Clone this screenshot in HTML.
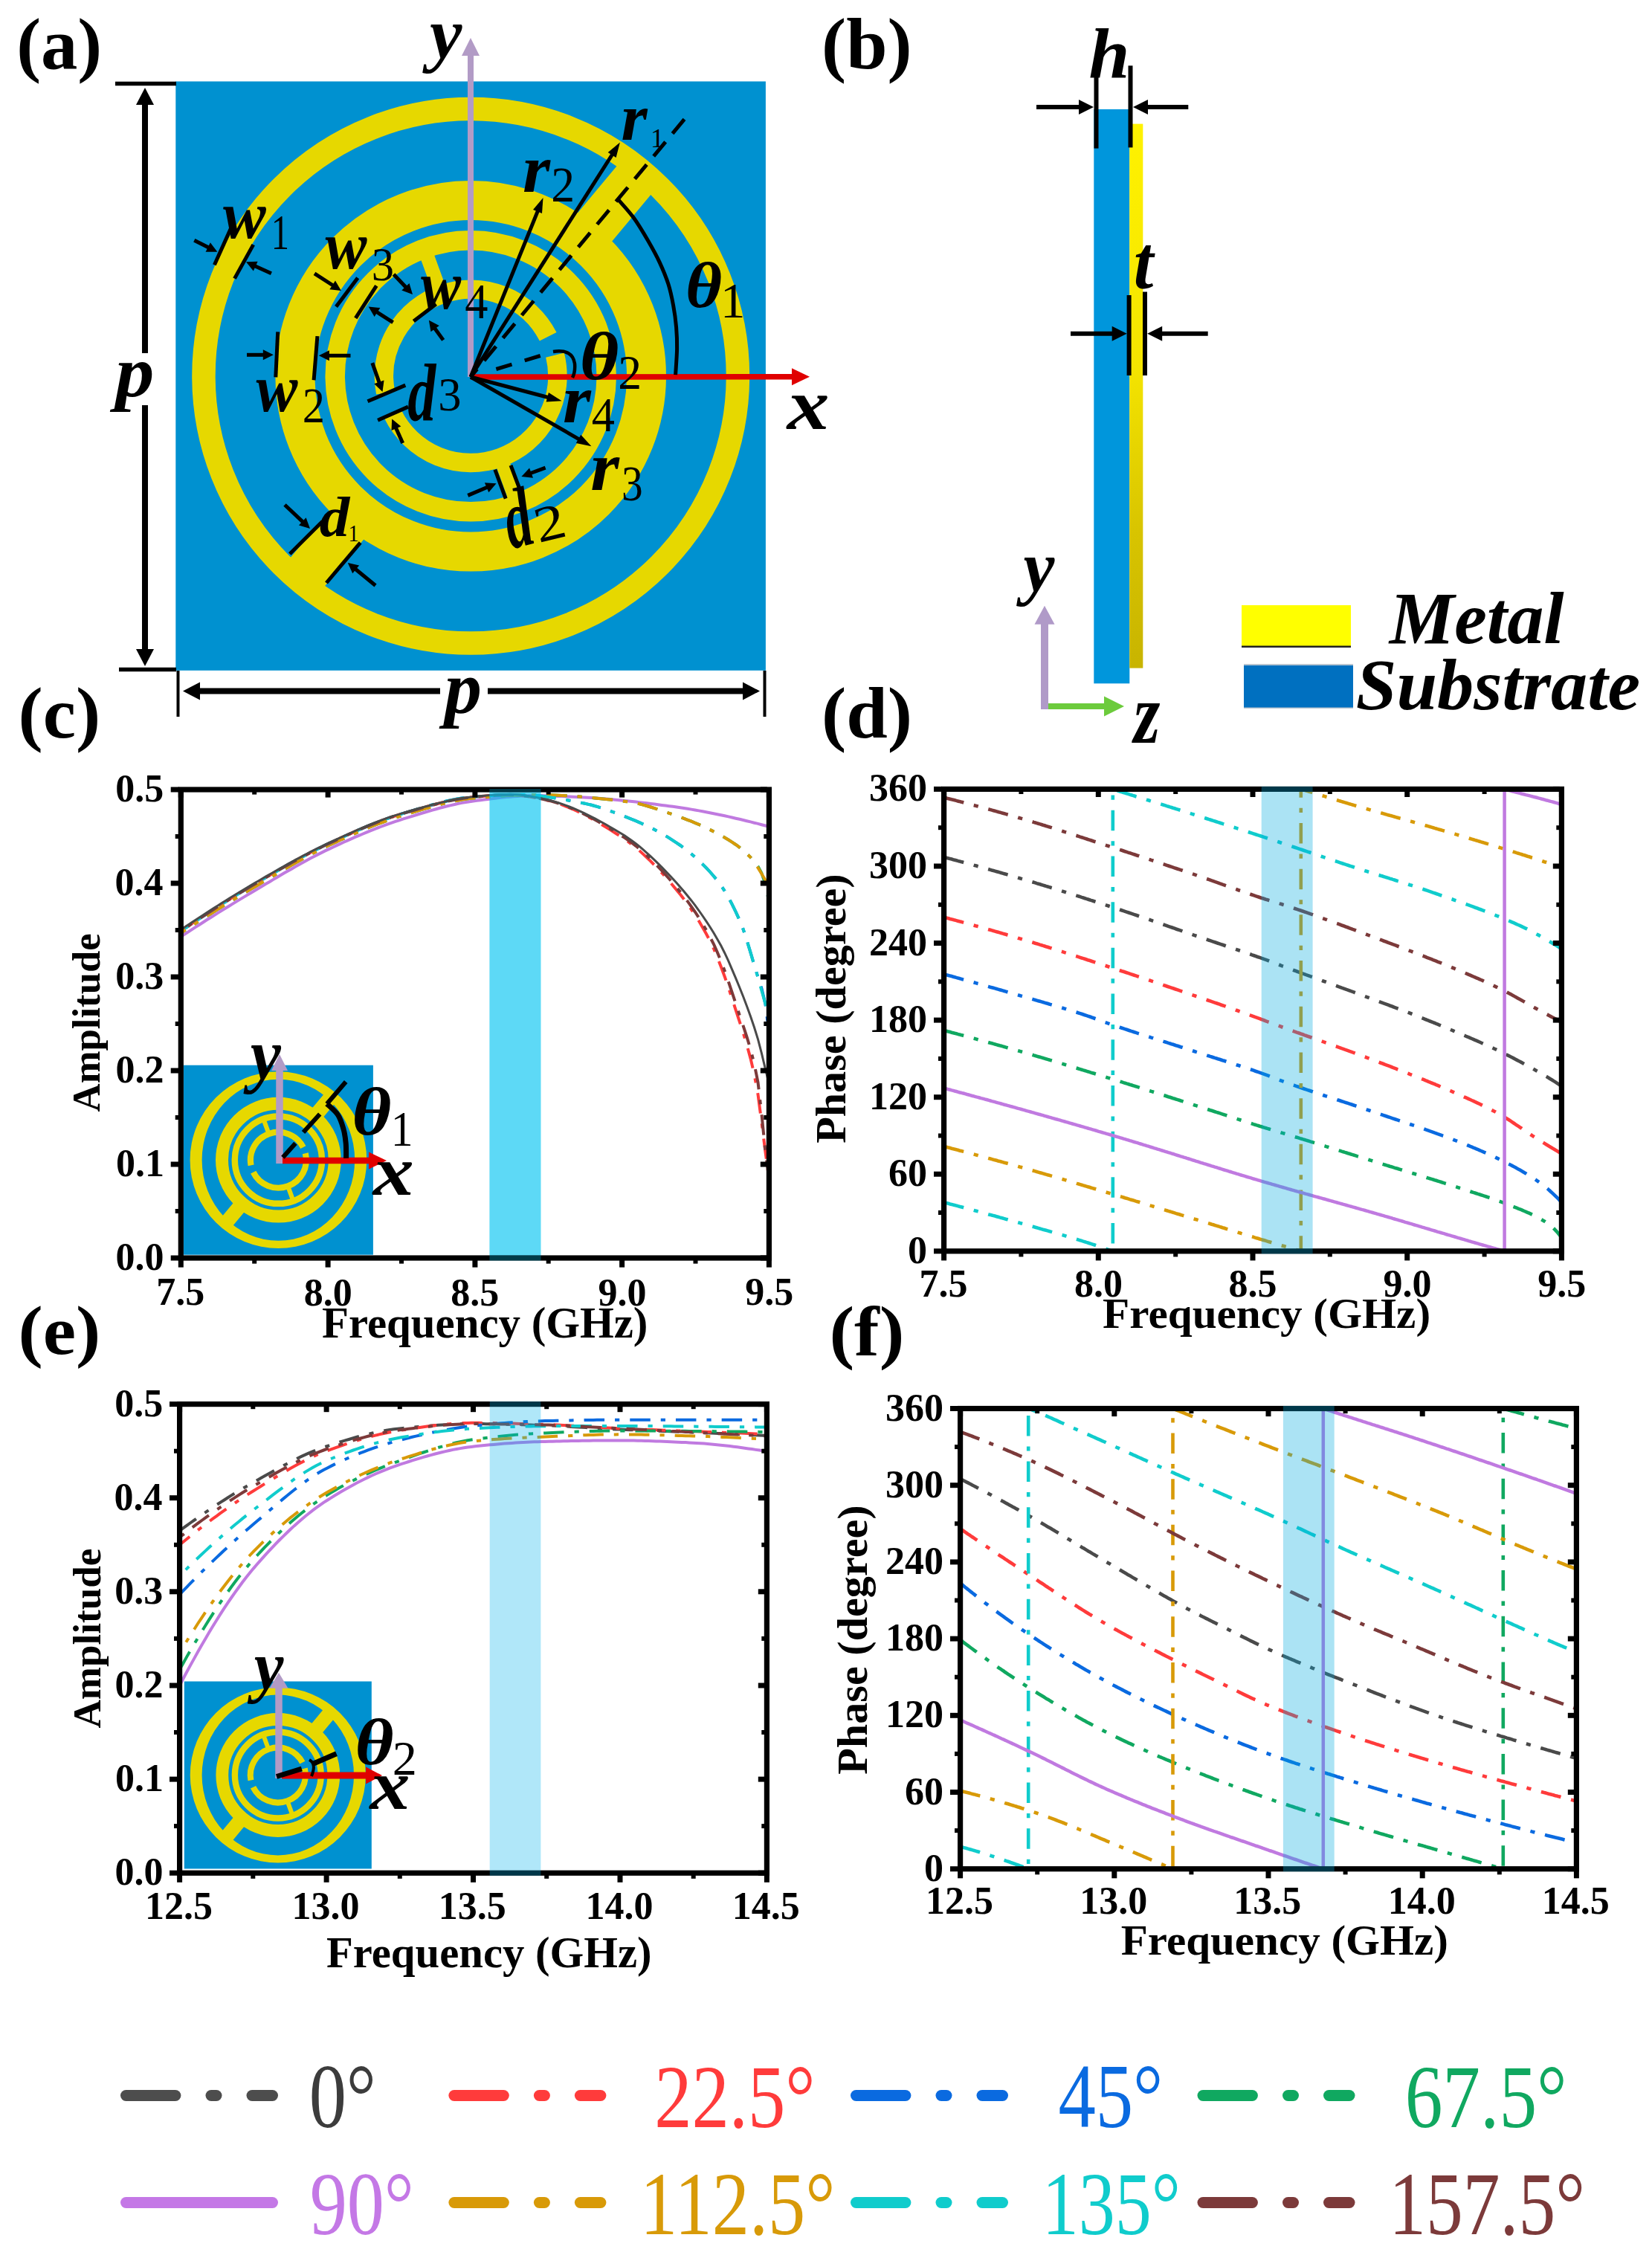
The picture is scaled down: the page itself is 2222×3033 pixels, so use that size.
<!DOCTYPE html>
<html><head><meta charset="utf-8"><title>Figure</title>
<style>html,body{margin:0;padding:0;background:#fff}svg{display:block}text{font-family:"Liberation Serif",serif}</style>
</head><body>
<svg width="2222" height="3033" viewBox="0 0 2222 3033" font-family="'Liberation Serif', serif">
<rect width="2222" height="3033" fill="#fff"/>
<g transform="translate(633.2 505.8) scale(1.0)"><rect x="-396.90000000000003" y="-396.3" width="793.6000000000001" height="792.3" fill="#0091D0"/><g fill="none" stroke="#E6D800"><circle r="359.25" stroke-width="31.5"/><circle r="236.3" stroke-width="53"/><circle r="182.5" stroke-width="26.5"/><path d="M104.0 -53.0A116.75 116.75 0 0 0 -114.6 22.3" stroke-width="25.5"/><path d="M-104.9 51.2A116.75 116.75 0 0 0 113.3 -28.2" stroke-width="25.5"/></g><rect x="255" y="-30.0" width="97" height="60" fill="#E6D800" transform="rotate(-50.2)"/><rect x="255" y="-30.0" width="97" height="60" fill="#E6D800" transform="rotate(-230.2)"/><rect x="124" y="-9.5" width="51" height="19" fill="#E6D800" transform="rotate(-110)"/><rect x="124" y="-9.5" width="51" height="19" fill="#E6D800" transform="rotate(-290)"/></g>
<line x1="633.0" y1="507.0" x2="633.0" y2="74.0" stroke="#B29BC6" stroke-width="8" /><polygon points="633.0,51.0 645.0,75.0 621.0,75.0" fill="#B29BC6"/>
<line x1="633.0" y1="507.0" x2="1066.0" y2="506.7" stroke="#E00000" stroke-width="7.5" /><polygon points="1089.0,506.7 1065.0,518.2 1065.0,495.2" fill="#E00000"/>
<line x1="155.0" y1="112.5" x2="237.0" y2="112.5" stroke="#000" stroke-width="5.5" />
<line x1="160.0" y1="900.5" x2="237.0" y2="900.5" stroke="#000" stroke-width="5.5" />
<polygon points="195.0,118.0 183.0,141.0 207.0,141.0" fill="#000"/><line x1="195.0" y1="141.0" x2="195.0" y2="874.0" stroke="#000" stroke-width="8" /><polygon points="195.0,896.0 183.0,873.0 207.0,873.0" fill="#000"/>
<rect x="180" y="475" width="30" height="70" fill="#fff"/>
<text transform="matrix(1.0444 0 0 0.9693 155.31 532.56)" font-size="100" font-weight="bold" font-style="italic" fill="#000" >p</text>
<line x1="239.5" y1="902.0" x2="239.5" y2="964.0" stroke="#000" stroke-width="4" />
<line x1="1028.5" y1="902.0" x2="1028.5" y2="964.0" stroke="#000" stroke-width="4" />
<polygon points="246.0,929.5 269.0,941.5 269.0,917.5" fill="#000"/><line x1="269.0" y1="929.5" x2="1000.0" y2="929.5" stroke="#000" stroke-width="8" /><polygon points="1022.0,929.5 999.0,941.5 999.0,917.5" fill="#000"/>
<rect x="592" y="915" width="64" height="30" fill="#fff"/>
<text transform="matrix(1.0056 0 0 0.9854 597.74 958.81)" font-size="100" font-weight="bold" font-style="italic" fill="#000" >p</text>
<text transform="matrix(0.9780 0 0 0.9748 577.88 77.94)" font-size="100" font-weight="bold" font-style="italic" fill="#000" >y</text>
<text transform="matrix(1.1367 0 0 0.9783 1058.71 577.00)" font-size="100" font-weight="bold" font-style="italic" fill="#000" >x</text>
<text transform="matrix(0.9870 0 0 0.9714 22.16 91.71)" font-size="100" font-weight="bold" fill="#000" >(a)</text>
<line x1="314.6" y1="298.1" x2="288.4" y2="356.2" stroke="#000" stroke-width="5" />
<line x1="340.7" y1="329.1" x2="315.5" y2="374.6" stroke="#000" stroke-width="5" />
<line x1="261.3" y1="323.3" x2="280.7" y2="333.0" stroke="#000" stroke-width="5" /><polygon points="292.3,338.8 276.6,338.8 282.9,326.3" fill="#000"/>
<line x1="364.9" y1="367.8" x2="342.8" y2="357.7" stroke="#000" stroke-width="5" /><polygon points="331.0,352.3 346.6,351.8 340.8,364.5" fill="#000"/>
<text transform="matrix(0.8657 0 0 0.9085 300.00 320.49)" font-size="100" font-weight="bold" font-style="italic" fill="#000" >w</text>
<text transform="matrix(0.4845 0 0 0.6667 364.68 335.00)" font-size="100"  fill="#000" >1</text>
<line x1="481.2" y1="373.7" x2="452.1" y2="412.4" stroke="#000" stroke-width="5" />
<line x1="506.3" y1="384.3" x2="478.3" y2="427.9" stroke="#000" stroke-width="5" />
<line x1="423.0" y1="367.8" x2="448.0" y2="384.0" stroke="#000" stroke-width="5" /><polygon points="458.9,391.1 443.3,389.3 451.0,377.6" fill="#000"/>
<line x1="528.6" y1="433.7" x2="506.6" y2="419.5" stroke="#000" stroke-width="5" /><polygon points="495.7,412.4 511.3,414.1 503.6,425.9" fill="#000"/>
<text transform="matrix(0.8388 0 0 0.9064 437.60 361.09)" font-size="100" font-weight="bold" font-style="italic" fill="#000" >w</text>
<text transform="matrix(0.6048 0 0 0.6343 499.78 376.87)" font-size="100"  fill="#000" >3</text>
<line x1="373.7" y1="446.3" x2="370.8" y2="507.3" stroke="#000" stroke-width="5" />
<line x1="426.9" y1="452.1" x2="422.1" y2="511.2" stroke="#000" stroke-width="5" />
<line x1="332.0" y1="477.3" x2="354.8" y2="477.3" stroke="#000" stroke-width="5" /><polygon points="367.8,477.3 353.8,484.3 353.8,470.3" fill="#000"/>
<line x1="471.5" y1="478.3" x2="441.9" y2="478.3" stroke="#000" stroke-width="5" /><polygon points="428.9,478.3 442.9,471.3 442.9,485.3" fill="#000"/>
<text transform="matrix(0.8388 0 0 0.9064 344.60 552.89)" font-size="100" font-weight="bold" font-style="italic" fill="#000" >w</text>
<text transform="matrix(0.6050 0 0 0.6697 406.78 568.00)" font-size="100"  fill="#000" >2</text>
<line x1="586.5" y1="409.0" x2="556.3" y2="432.0" stroke="#000" stroke-width="5" />
<line x1="529.5" y1="369.0" x2="546.1" y2="386.5" stroke="#000" stroke-width="5" /><polygon points="555.0,396.0 540.3,390.6 550.5,381.0" fill="#000"/>
<line x1="596.2" y1="457.4" x2="584.5" y2="441.3" stroke="#000" stroke-width="5" /><polygon points="576.9,430.8 590.8,438.0 579.5,446.2" fill="#000"/>
<text transform="matrix(0.8119 0 0 0.9277 566.00 415.27)" font-size="100" font-weight="bold" font-style="italic" fill="#000" >w</text>
<text transform="matrix(0.6237 0 0 0.6788 625.25 428.30)" font-size="100"  fill="#000" >4</text>
<line x1="494.5" y1="539.8" x2="545.3" y2="518.1" stroke="#000" stroke-width="5" />
<line x1="508.1" y1="565.3" x2="549.0" y2="547.1" stroke="#000" stroke-width="5" />
<line x1="500.8" y1="488.1" x2="510.2" y2="514.8" stroke="#000" stroke-width="5" /><polygon points="514.5,527.1 503.3,516.2 516.5,511.6" fill="#000"/>
<line x1="541.7" y1="596.1" x2="532.5" y2="575.4" stroke="#000" stroke-width="5" /><polygon points="527.2,563.5 539.3,573.4 526.5,579.1" fill="#000"/>
<text transform="matrix(0.7600 0 0 1.0922 548.24 565.91)" font-size="100" font-weight="bold" font-style="italic" fill="#000" >d</text>
<text transform="matrix(0.6265 0 0 0.6239 589.18 551.98)" font-size="100"  fill="#000" >3</text>
<line x1="665.8" y1="631.7" x2="680.2" y2="670.7" stroke="#000" stroke-width="5" />
<line x1="687.0" y1="625.8" x2="699.7" y2="659.7" stroke="#000" stroke-width="5" />
<line x1="629.3" y1="666.4" x2="655.5" y2="655.3" stroke="#000" stroke-width="5" /><polygon points="667.5,650.3 657.3,662.2 651.9,649.3" fill="#000"/>
<line x1="733.6" y1="629.2" x2="713.6" y2="636.5" stroke="#000" stroke-width="5" /><polygon points="701.4,641.0 712.1,629.6 717.0,642.8" fill="#000"/>
<g transform="rotate(-14 706 735)"><text transform="matrix(0.7200 0 0 1.1348 687.28 733.87)" font-size="100" font-weight="bold" font-style="italic" fill="#000" >d</text><text transform="matrix(0.8250 0 0 0.6818 725.29 735.00)" font-size="100"  fill="#000" >2</text></g>
<line x1="389.8" y1="745.0" x2="434.0" y2="701.0" stroke="#000" stroke-width="5" />
<line x1="439.0" y1="784.0" x2="484.7" y2="729.8" stroke="#000" stroke-width="5" />
<line x1="383.0" y1="679.0" x2="407.5" y2="702.1" stroke="#000" stroke-width="5" /><polygon points="417.0,711.0 402.0,706.5 411.6,696.3" fill="#000"/>
<line x1="505.0" y1="787.5" x2="477.9" y2="765.2" stroke="#000" stroke-width="5" /><polygon points="467.8,757.0 483.1,760.5 474.2,771.3" fill="#000"/>
<text transform="matrix(0.8100 0 0 0.7574 429.69 720.64)" font-size="100" font-weight="bold" font-style="italic" fill="#000" >d</text>
<text transform="matrix(0.2817 0 0 0.3061 468.61 728.00)" font-size="100"  fill="#000" >1</text>
<line x1="633.0" y1="507.0" x2="823.7" y2="207.5" stroke="#000" stroke-width="5" /><polygon points="833.9,191.5 828.6,211.9 817.7,204.9" fill="#000"/>
<line x1="633.0" y1="507.0" x2="723.4" y2="283.6" stroke="#000" stroke-width="5" /><polygon points="730.5,266.0 729.0,287.0 717.0,282.1" fill="#000"/>
<line x1="633.0" y1="507.0" x2="737.2" y2="534.5" stroke="#000" stroke-width="5" /><polygon points="755.6,539.3 734.6,540.5 737.9,527.9" fill="#000"/>
<line x1="633.0" y1="507.0" x2="778.9" y2="590.8" stroke="#000" stroke-width="5" /><polygon points="795.4,600.3 774.8,596.0 781.3,584.7" fill="#000"/>
<text transform="matrix(0.9040 0 0 0.8979 835.49 188.00)" font-size="100" font-weight="bold" font-style="italic" fill="#000" >r</text>
<text transform="matrix(0.3662 0 0 0.3636 874.89 198.00)" font-size="100"  fill="#000" >1</text>
<text transform="matrix(0.9520 0 0 0.9064 703.10 257.60)" font-size="100" font-weight="bold" font-style="italic" fill="#000" >r</text>
<text transform="matrix(0.6375 0 0 0.6667 741.13 271.00)" font-size="100"  fill="#000" >2</text>
<text transform="matrix(0.9707 0 0 0.9149 757.06 568.00)" font-size="100" font-weight="bold" font-style="italic" fill="#000" >r</text>
<text transform="matrix(0.6237 0 0 0.6545 795.75 580.00)" font-size="100"  fill="#000" >4</text>
<text transform="matrix(0.9947 0 0 0.9383 794.31 658.80)" font-size="100" font-weight="bold" font-style="italic" fill="#000" >r</text>
<text transform="matrix(0.5735 0 0 0.6701 836.02 672.53)" font-size="100"  fill="#000" >3</text>
<line x1="633.0" y1="507.0" x2="921.4" y2="159.2" stroke="#000" stroke-width="5" stroke-dasharray="25 14.7" stroke-dashoffset="11.3"/>
<path d="M830.2 266.9C833.9 271.2 845.5 283.5 852.4 293.0C859.3 302.5 866.0 314.0 871.8 324.0C877.6 334.0 882.8 343.4 887.3 353.1C891.8 362.8 895.8 372.4 898.9 382.1C902.0 391.8 903.9 401.5 905.7 411.2C907.5 420.9 908.8 430.5 909.6 440.2C910.4 449.9 910.8 458.6 910.6 469.3C910.4 480.0 908.9 498.4 908.6 504.2" fill="none" stroke="#000" stroke-width="5"/>
<text transform="matrix(0.9484 0 0 0.8606 922.08 412.74)" font-size="100" font-weight="bold" font-style="italic" fill="#000" >θ</text>
<text transform="matrix(0.6676 0 0 0.6667 968.93 427.00)" font-size="100"  fill="#000" >1</text>
<line x1="667.4" y1="496.5" x2="728.7" y2="477.9" stroke="#000" stroke-width="5" stroke-dasharray="22 18"/>
<path d="M744 473Q770 469 773 489Q774 500 770 508" fill="none" stroke="#000" stroke-width="4.5"/>
<text transform="matrix(1.0151 0 0 0.9197 779.85 509.68)" font-size="100" font-weight="bold" font-style="italic" fill="#000" >θ</text>
<text transform="matrix(0.6375 0 0 0.6606 831.33 523.40)" font-size="100"  fill="#000" >2</text>
<defs><linearGradient id="yg" x1="0" y1="0" x2="0" y2="1"><stop offset="0" stop-color="#FFF200"/><stop offset="0.45" stop-color="#F4E400"/><stop offset="0.75" stop-color="#D8C400"/><stop offset="1" stop-color="#C8B400"/></linearGradient></defs>
<text transform="matrix(0.9947 0 0 0.9714 1105.02 91.71)" font-size="100" font-weight="bold" fill="#000" >(b)</text>
<rect x="1471.3" y="147" width="48" height="772.3" fill="#0096DC"/>
<rect x="1519.3" y="166.6" width="18" height="732" fill="url(#yg)"/>
<line x1="1474.5" y1="101.4" x2="1474.5" y2="199.6" stroke="#000" stroke-width="6" />
<line x1="1520.5" y1="88.3" x2="1520.5" y2="198.4" stroke="#000" stroke-width="6" />
<line x1="1394.0" y1="144.0" x2="1452.0" y2="144.0" stroke="#000" stroke-width="6" /><polygon points="1471.0,144.0 1451.0,154.0 1451.0,134.0" fill="#000"/>
<line x1="1598.3" y1="144.0" x2="1543.0" y2="144.0" stroke="#000" stroke-width="6" /><polygon points="1524.0,144.0 1544.0,134.0 1544.0,154.0" fill="#000"/>
<text transform="matrix(0.9876 0 0 0.9468 1464.62 103.80)" font-size="100" font-weight="bold" font-style="italic" fill="#000" >h</text>
<line x1="1518.6" y1="397.0" x2="1518.6" y2="505.0" stroke="#000" stroke-width="6" />
<line x1="1540.0" y1="392.5" x2="1540.0" y2="505.0" stroke="#000" stroke-width="6" />
<line x1="1440.0" y1="448.7" x2="1496.7" y2="448.7" stroke="#000" stroke-width="6" /><polygon points="1515.7,448.7 1495.7,458.7 1495.7,438.7" fill="#000"/>
<line x1="1624.7" y1="448.7" x2="1562.2" y2="448.7" stroke="#000" stroke-width="6" /><polygon points="1543.2,448.7 1563.2,438.7 1563.2,458.7" fill="#000"/>
<text transform="matrix(0.9564 0 0 1.0261 1524.83 387.97)" font-size="100" font-weight="bold" font-style="italic" fill="#000" >t</text>
<line x1="1400.0" y1="950.0" x2="1486.0" y2="950.0" stroke="#6CCB3C" stroke-width="8" /><polygon points="1512.0,950.0 1485.0,963.5 1485.0,936.5" fill="#6CCB3C"/>
<line x1="1405.0" y1="954.0" x2="1405.0" y2="838.8" stroke="#B09AC8" stroke-width="10" /><polygon points="1405.0,814.8 1418.5,839.8 1391.5,839.8" fill="#B09AC8"/>
<text transform="matrix(0.9431 0 0 0.9704 1376.43 795.14)" font-size="100" font-weight="bold" font-style="italic" fill="#000" >y</text>
<text transform="matrix(0.9157 0 0 1.1391 1524.75 999.00)" font-size="100" font-weight="bold" font-style="italic" fill="#000" >z</text>
<rect x="1670" y="814" width="147" height="55" fill="#FFFF00"/><rect x="1670" y="868.5" width="147" height="2.5" fill="#222"/>
<rect x="1673" y="893" width="147" height="60" fill="#B8C4D0"/><rect x="1673" y="895" width="147" height="56.5" fill="#0070C0"/>
<text transform="matrix(0.9838 0 0 1.0000 1868.68 864.70)" font-size="100" font-weight="bold" font-style="italic" fill="#000" >Metal</text>
<text transform="matrix(0.9831 0 0 0.9716 1823.73 953.53)" font-size="100" font-weight="bold" font-style="italic" fill="#000" >Substrate</text>
<path d="M243.3 1259.8L248.3 1256.6L253.3 1253.3L258.2 1250.1L263.2 1246.9L268.2 1243.7L273.2 1240.5L278.1 1237.3L283.1 1234.2L288.1 1231.1L293.1 1227.9L298.0 1224.8L303.0 1221.8L308.0 1218.7L313.0 1215.6L317.9 1212.6L322.9 1209.6L327.9 1206.6L332.9 1203.6L337.8 1200.7L342.8 1197.7L347.8 1194.8L352.8 1191.8L357.7 1188.8L362.7 1185.9L367.7 1182.9L372.7 1180.0L377.6 1177.0L382.6 1174.1L387.6 1171.2L392.6 1168.4L397.5 1165.5L402.5 1162.7L407.5 1159.9L412.5 1157.2L417.4 1154.5L422.4 1151.9L427.4 1149.4L432.4 1146.9L437.3 1144.4L442.3 1142.1L447.3 1139.7L452.3 1137.4L457.2 1135.1L462.2 1132.8L467.2 1130.6L472.2 1128.4L477.1 1126.2L482.1 1124.1L487.1 1122.0L492.1 1119.9L497.0 1117.8L502.0 1115.9L507.0 1113.9L512.0 1112.0L517.0 1110.2L521.9 1108.4L526.9 1106.6L531.9 1104.9L536.9 1103.3L541.8 1101.7L546.8 1100.2L551.8 1098.6L556.8 1097.1L561.7 1095.5L566.7 1094.0L571.7 1092.5L576.7 1091.0L581.6 1089.6L586.6 1088.2L591.6 1086.8L596.6 1085.5L601.5 1084.3L606.5 1083.1L611.5 1082.0L616.5 1080.9L621.4 1079.9L626.4 1079.0L631.4 1078.2L636.4 1077.5L641.3 1076.8L646.3 1076.2L651.3 1075.5L656.3 1074.9L661.2 1074.3L666.2 1073.7L671.2 1073.1L676.2 1072.6L681.1 1072.1L686.1 1071.7L691.1 1071.3L696.1 1070.9L701.0 1070.6L706.0 1070.4L711.0 1070.3L716.0 1070.2L720.9 1070.2L725.9 1070.2L730.9 1070.3L735.9 1070.4L740.8 1070.6L745.8 1070.7L750.8 1070.9L755.8 1071.1L760.7 1071.3L765.7 1071.6L770.7 1071.8L775.7 1072.0L780.7 1072.2L785.6 1072.5L790.6 1072.8L795.6 1073.1L800.6 1073.4L805.5 1073.8L810.5 1074.2L815.5 1074.6L820.5 1075.0L825.4 1075.5L830.4 1075.9L835.4 1076.4L840.4 1077.0L845.3 1077.5L850.3 1078.0L855.3 1078.6L860.3 1079.2L865.2 1079.7L870.2 1080.3L875.2 1081.0L880.2 1081.6L885.1 1082.2L890.1 1082.9L895.1 1083.5L900.1 1084.2L905.0 1084.8L910.0 1085.5L915.0 1086.3L920.0 1087.0L924.9 1087.8L929.9 1088.6L934.9 1089.5L939.9 1090.4L944.8 1091.3L949.8 1092.2L954.8 1093.2L959.8 1094.2L964.7 1095.2L969.7 1096.3L974.7 1097.3L979.7 1098.4L984.6 1099.5L989.6 1100.7L994.6 1101.8L999.6 1103.0L1004.5 1104.2L1009.5 1105.4L1014.5 1106.7L1019.5 1107.9L1024.4 1109.2L1029.4 1110.5L1034.4 1111.8" fill="none" stroke="#C07AE0" stroke-width="4"  />
<path d="M243.3 1252.3L248.3 1248.9L253.3 1245.5L258.2 1242.2L263.2 1238.9L268.2 1235.6L273.2 1232.3L278.1 1229.0L283.1 1225.8L288.1 1222.6L293.1 1219.4L298.0 1216.3L303.0 1213.1L308.0 1210.0L313.0 1206.9L317.9 1203.9L322.9 1200.8L327.9 1197.8L332.9 1194.8L337.8 1191.8L342.8 1188.9L347.8 1186.0L352.8 1183.0L357.7 1180.1L362.7 1177.2L367.7 1174.3L372.7 1171.4L377.6 1168.6L382.6 1165.7L387.6 1162.9L392.6 1160.1L397.5 1157.4L402.5 1154.7L407.5 1152.0L412.5 1149.4L417.4 1146.8L422.4 1144.2L427.4 1141.7L432.4 1139.2L437.3 1136.8L442.3 1134.5L447.3 1132.2L452.3 1129.9L457.2 1127.6L462.2 1125.3L467.2 1123.0L472.2 1120.8L477.1 1118.6L482.1 1116.4L487.1 1114.2L492.1 1112.1L497.0 1110.1L502.0 1108.1L507.0 1106.1L512.0 1104.2L517.0 1102.4L521.9 1100.6L526.9 1098.9L531.9 1097.3L536.9 1095.7L541.8 1094.2L546.8 1092.7L551.8 1091.3L556.8 1089.8L561.7 1088.3L566.7 1086.9L571.7 1085.5L576.7 1084.1L581.6 1082.8L586.6 1081.5L591.6 1080.2L596.6 1079.0L601.5 1077.9L606.5 1076.8L611.5 1075.8L616.5 1074.9L621.4 1074.0L626.4 1073.3L631.4 1072.6L636.4 1072.1L641.3 1071.6L646.3 1071.2L651.3 1070.7L656.3 1070.3L661.2 1069.9L666.2 1069.6L671.2 1069.3L676.2 1069.1L681.1 1069.0L686.1 1068.9L691.1 1069.0L696.1 1069.4L701.0 1069.9L706.0 1070.5L711.0 1071.3L716.0 1072.2L720.9 1073.1L725.9 1074.1L730.9 1075.1L735.9 1076.2L740.8 1077.5L745.8 1079.0L750.8 1080.6L755.8 1082.4L760.7 1084.3L765.7 1086.3L770.7 1088.5L775.7 1090.8L780.7 1093.3L785.6 1095.8L790.6 1098.4L795.6 1101.1L800.6 1104.0L805.5 1106.8L810.5 1109.8L815.5 1112.8L820.5 1115.9L825.4 1119.1L830.4 1122.2L835.4 1125.5L840.4 1128.8L845.3 1132.3L850.3 1136.1L855.3 1140.2L860.3 1144.4L865.2 1148.9L870.2 1153.6L875.2 1158.4L880.2 1163.5L885.1 1168.7L890.1 1174.0L895.1 1179.5L900.1 1185.2L905.0 1191.0L910.0 1196.9L915.0 1203.1L920.0 1209.5L924.9 1216.2L929.9 1223.3L934.9 1230.7L939.9 1238.6L944.8 1246.9L949.8 1255.8L954.8 1265.2L959.8 1275.5L964.7 1287.1L969.7 1299.9L974.7 1313.5L979.7 1328.0L984.6 1343.0L989.6 1358.3L994.6 1373.6L999.6 1388.9L1004.5 1405.3L1009.5 1423.6L1014.5 1445.0L1019.5 1472.1L1024.4 1509.4L1029.4 1548.8L1034.4 1584.9" fill="none" stroke="#FF3B3B" stroke-width="4" stroke-dasharray="27.5 14 6.2 14" stroke-dashoffset="0"/>
<path d="M243.3 1252.3L248.3 1248.9L253.3 1245.5L258.2 1242.2L263.2 1238.9L268.2 1235.6L273.2 1232.3L278.1 1229.0L283.1 1225.8L288.1 1222.6L293.1 1219.4L298.0 1216.3L303.0 1213.1L308.0 1210.0L313.0 1206.9L317.9 1203.9L322.9 1200.8L327.9 1197.8L332.9 1194.8L337.8 1191.8L342.8 1188.9L347.8 1186.0L352.8 1183.0L357.7 1180.1L362.7 1177.2L367.7 1174.3L372.7 1171.4L377.6 1168.6L382.6 1165.7L387.6 1162.9L392.6 1160.1L397.5 1157.4L402.5 1154.7L407.5 1152.0L412.5 1149.4L417.4 1146.8L422.4 1144.2L427.4 1141.7L432.4 1139.2L437.3 1136.8L442.3 1134.5L447.3 1132.2L452.3 1129.9L457.2 1127.6L462.2 1125.3L467.2 1123.0L472.2 1120.8L477.1 1118.6L482.1 1116.4L487.1 1114.3L492.1 1112.2L497.0 1110.1L502.0 1108.1L507.0 1106.2L512.0 1104.3L517.0 1102.4L521.9 1100.6L526.9 1098.9L531.9 1097.3L536.9 1095.7L541.8 1094.2L546.8 1092.7L551.8 1091.2L556.8 1089.7L561.7 1088.2L566.7 1086.7L571.7 1085.2L576.7 1083.8L581.6 1082.4L586.6 1081.0L591.6 1079.7L596.6 1078.4L601.5 1077.3L606.5 1076.2L611.5 1075.2L616.5 1074.2L621.4 1073.4L626.4 1072.7L631.4 1072.1L636.4 1071.6L641.3 1071.3L646.3 1071.0L651.3 1070.6L656.3 1070.3L661.2 1070.1L666.2 1069.8L671.2 1069.6L676.2 1069.4L681.1 1069.2L686.1 1069.1L691.1 1069.0L696.1 1068.9L701.0 1068.9L706.0 1069.1L711.0 1069.3L716.0 1069.6L720.9 1070.0L725.9 1070.5L730.9 1071.1L735.9 1071.8L740.8 1072.5L745.8 1073.2L750.8 1074.1L755.8 1074.9L760.7 1075.8L765.7 1076.7L770.7 1077.6L775.7 1078.6L780.7 1079.5L785.6 1080.5L790.6 1081.6L795.6 1082.8L800.6 1084.2L805.5 1085.7L810.5 1087.2L815.5 1088.9L820.5 1090.6L825.4 1092.5L830.4 1094.3L835.4 1096.2L840.4 1098.2L845.3 1100.1L850.3 1102.1L855.3 1104.2L860.3 1106.3L865.2 1108.6L870.2 1110.9L875.2 1113.3L880.2 1115.8L885.1 1118.5L890.1 1121.2L895.1 1124.1L900.1 1127.1L905.0 1130.3L910.0 1133.6L915.0 1137.0L920.0 1140.7L924.9 1144.5L929.9 1148.5L934.9 1152.8L939.9 1157.3L944.8 1162.1L949.8 1167.1L954.8 1172.5L959.8 1178.2L964.7 1184.2L969.7 1190.8L974.7 1198.3L979.7 1206.8L984.6 1216.1L989.6 1226.3L994.6 1237.3L999.6 1249.8L1004.5 1264.7L1009.5 1281.1L1014.5 1298.1L1019.5 1314.2L1024.4 1329.4L1029.4 1350.2L1034.4 1389.6" fill="none" stroke="#0A6AE0" stroke-width="4" stroke-dasharray="27.5 14 6.2 14" stroke-dashoffset="35"/>
<path d="M243.3 1254.8L248.3 1251.5L253.3 1248.3L258.2 1245.1L263.2 1241.8L268.2 1238.6L273.2 1235.5L278.1 1232.3L283.1 1229.2L288.1 1226.0L293.1 1222.9L298.0 1219.8L303.0 1216.7L308.0 1213.7L313.0 1210.6L317.9 1207.6L322.9 1204.6L327.9 1201.6L332.9 1198.6L337.8 1195.6L342.8 1192.7L347.8 1189.7L352.8 1186.8L357.7 1183.8L362.7 1180.8L367.7 1177.9L372.7 1174.9L377.6 1172.0L382.6 1169.1L387.6 1166.2L392.6 1163.3L397.5 1160.5L402.5 1157.7L407.5 1154.9L412.5 1152.2L417.4 1149.5L422.4 1146.9L427.4 1144.3L432.4 1141.8L437.3 1139.4L442.3 1137.0L447.3 1134.7L452.3 1132.4L457.2 1130.0L462.2 1127.8L467.2 1125.5L472.2 1123.3L477.1 1121.1L482.1 1118.9L487.1 1116.8L492.1 1114.7L497.0 1112.7L502.0 1110.7L507.0 1108.7L512.0 1106.8L517.0 1105.0L521.9 1103.2L526.9 1101.5L531.9 1099.8L536.9 1098.2L541.8 1096.7L546.8 1095.2L551.8 1093.7L556.8 1092.1L561.7 1090.6L566.7 1089.1L571.7 1087.6L576.7 1086.2L581.6 1084.8L586.6 1083.4L591.6 1082.1L596.6 1080.8L601.5 1079.6L606.5 1078.5L611.5 1077.4L616.5 1076.5L621.4 1075.6L626.4 1074.8L631.4 1074.1L636.4 1073.6L641.3 1073.1L646.3 1072.7L651.3 1072.3L656.3 1071.9L661.2 1071.5L666.2 1071.1L671.2 1070.7L676.2 1070.4L681.1 1070.1L686.1 1069.8L691.1 1069.6L696.1 1069.4L701.0 1069.2L706.0 1069.1L711.0 1069.0L716.0 1068.9L720.9 1068.9L725.9 1069.0L730.9 1069.1L735.9 1069.2L740.8 1069.3L745.8 1069.5L750.8 1069.7L755.8 1070.0L760.7 1070.2L765.7 1070.5L770.7 1070.9L775.7 1071.2L780.7 1071.6L785.6 1072.0L790.6 1072.4L795.6 1072.9L800.6 1073.4L805.5 1073.9L810.5 1074.4L815.5 1074.9L820.5 1075.5L825.4 1076.0L830.4 1076.6L835.4 1077.2L840.4 1077.9L845.3 1078.5L850.3 1079.3L855.3 1080.2L860.3 1081.3L865.2 1082.6L870.2 1084.0L875.2 1085.5L880.2 1087.1L885.1 1088.7L890.1 1090.4L895.1 1092.1L900.1 1093.8L905.0 1095.5L910.0 1097.3L915.0 1099.0L920.0 1100.9L924.9 1102.8L929.9 1104.7L934.9 1106.8L939.9 1108.9L944.8 1111.1L949.8 1113.5L954.8 1115.9L959.8 1118.4L964.7 1121.0L969.7 1123.7L974.7 1126.5L979.7 1129.5L984.6 1132.6L989.6 1136.0L994.6 1139.7L999.6 1143.8L1004.5 1148.2L1009.5 1153.1L1014.5 1158.5L1019.5 1165.3L1024.4 1174.3L1029.4 1189.0L1034.4 1213.2" fill="none" stroke="#10A860" stroke-width="4" stroke-dasharray="27.5 14 6.2 14" stroke-dashoffset="20"/>
<path d="M243.3 1254.8L248.3 1251.5L253.3 1248.3L258.2 1245.1L263.2 1241.8L268.2 1238.6L273.2 1235.5L278.1 1232.3L283.1 1229.2L288.1 1226.0L293.1 1222.9L298.0 1219.8L303.0 1216.7L308.0 1213.7L313.0 1210.6L317.9 1207.6L322.9 1204.6L327.9 1201.6L332.9 1198.6L337.8 1195.6L342.8 1192.7L347.8 1189.7L352.8 1186.8L357.7 1183.8L362.7 1180.8L367.7 1177.9L372.7 1174.9L377.6 1172.0L382.6 1169.1L387.6 1166.2L392.6 1163.3L397.5 1160.5L402.5 1157.7L407.5 1154.9L412.5 1152.2L417.4 1149.5L422.4 1146.9L427.4 1144.3L432.4 1141.8L437.3 1139.4L442.3 1137.0L447.3 1134.7L452.3 1132.4L457.2 1130.0L462.2 1127.8L467.2 1125.5L472.2 1123.3L477.1 1121.1L482.1 1118.9L487.1 1116.8L492.1 1114.7L497.0 1112.7L502.0 1110.7L507.0 1108.7L512.0 1106.8L517.0 1105.0L521.9 1103.2L526.9 1101.5L531.9 1099.8L536.9 1098.2L541.8 1096.7L546.8 1095.2L551.8 1093.7L556.8 1092.1L561.7 1090.6L566.7 1089.1L571.7 1087.6L576.7 1086.2L581.6 1084.8L586.6 1083.4L591.6 1082.1L596.6 1080.8L601.5 1079.6L606.5 1078.5L611.5 1077.4L616.5 1076.5L621.4 1075.6L626.4 1074.8L631.4 1074.1L636.4 1073.6L641.3 1073.1L646.3 1072.7L651.3 1072.3L656.3 1071.9L661.2 1071.5L666.2 1071.1L671.2 1070.7L676.2 1070.4L681.1 1070.1L686.1 1069.8L691.1 1069.6L696.1 1069.4L701.0 1069.2L706.0 1069.1L711.0 1069.0L716.0 1068.9L720.9 1068.9L725.9 1069.0L730.9 1069.1L735.9 1069.2L740.8 1069.3L745.8 1069.5L750.8 1069.7L755.8 1070.0L760.7 1070.2L765.7 1070.5L770.7 1070.9L775.7 1071.2L780.7 1071.6L785.6 1072.0L790.6 1072.4L795.6 1072.9L800.6 1073.4L805.5 1073.9L810.5 1074.4L815.5 1074.9L820.5 1075.5L825.4 1076.0L830.4 1076.6L835.4 1077.2L840.4 1077.9L845.3 1078.5L850.3 1079.3L855.3 1080.2L860.3 1081.3L865.2 1082.6L870.2 1084.0L875.2 1085.5L880.2 1087.1L885.1 1088.7L890.1 1090.4L895.1 1092.1L900.1 1093.8L905.0 1095.5L910.0 1097.3L915.0 1099.0L920.0 1100.9L924.9 1102.8L929.9 1104.7L934.9 1106.8L939.9 1108.9L944.8 1111.1L949.8 1113.5L954.8 1115.9L959.8 1118.4L964.7 1121.0L969.7 1123.7L974.7 1126.5L979.7 1129.5L984.6 1132.6L989.6 1136.0L994.6 1139.7L999.6 1143.8L1004.5 1148.2L1009.5 1153.2L1014.5 1159.6L1019.5 1167.1L1024.4 1175.2L1029.4 1183.7L1034.4 1193.0" fill="none" stroke="#D89A08" stroke-width="4" stroke-dasharray="27.5 14 6.2 14" stroke-dashoffset="20"/>
<path d="M243.3 1252.3L248.3 1248.9L253.3 1245.5L258.2 1242.2L263.2 1238.9L268.2 1235.6L273.2 1232.3L278.1 1229.0L283.1 1225.8L288.1 1222.6L293.1 1219.4L298.0 1216.3L303.0 1213.1L308.0 1210.0L313.0 1206.9L317.9 1203.9L322.9 1200.8L327.9 1197.8L332.9 1194.8L337.8 1191.8L342.8 1188.9L347.8 1186.0L352.8 1183.0L357.7 1180.1L362.7 1177.2L367.7 1174.3L372.7 1171.4L377.6 1168.6L382.6 1165.7L387.6 1162.9L392.6 1160.1L397.5 1157.4L402.5 1154.7L407.5 1152.0L412.5 1149.4L417.4 1146.8L422.4 1144.2L427.4 1141.7L432.4 1139.2L437.3 1136.8L442.3 1134.5L447.3 1132.2L452.3 1129.9L457.2 1127.6L462.2 1125.3L467.2 1123.0L472.2 1120.8L477.1 1118.6L482.1 1116.4L487.1 1114.3L492.1 1112.2L497.0 1110.1L502.0 1108.1L507.0 1106.2L512.0 1104.3L517.0 1102.4L521.9 1100.6L526.9 1098.9L531.9 1097.3L536.9 1095.7L541.8 1094.2L546.8 1092.7L551.8 1091.2L556.8 1089.7L561.7 1088.2L566.7 1086.7L571.7 1085.2L576.7 1083.8L581.6 1082.4L586.6 1081.0L591.6 1079.7L596.6 1078.4L601.5 1077.3L606.5 1076.2L611.5 1075.2L616.5 1074.2L621.4 1073.4L626.4 1072.7L631.4 1072.1L636.4 1071.6L641.3 1071.3L646.3 1071.0L651.3 1070.6L656.3 1070.3L661.2 1070.1L666.2 1069.8L671.2 1069.6L676.2 1069.4L681.1 1069.2L686.1 1069.1L691.1 1069.0L696.1 1068.9L701.0 1068.9L706.0 1069.1L711.0 1069.3L716.0 1069.6L720.9 1070.0L725.9 1070.5L730.9 1071.1L735.9 1071.8L740.8 1072.5L745.8 1073.2L750.8 1074.1L755.8 1074.9L760.7 1075.8L765.7 1076.7L770.7 1077.6L775.7 1078.6L780.7 1079.5L785.6 1080.5L790.6 1081.6L795.6 1082.8L800.6 1084.2L805.5 1085.7L810.5 1087.2L815.5 1088.9L820.5 1090.6L825.4 1092.5L830.4 1094.3L835.4 1096.2L840.4 1098.2L845.3 1100.1L850.3 1102.1L855.3 1104.2L860.3 1106.3L865.2 1108.6L870.2 1110.9L875.2 1113.3L880.2 1115.8L885.1 1118.5L890.1 1121.2L895.1 1124.1L900.1 1127.1L905.0 1130.3L910.0 1133.6L915.0 1137.0L920.0 1140.7L924.9 1144.5L929.9 1148.5L934.9 1152.8L939.9 1157.3L944.8 1162.1L949.8 1167.1L954.8 1172.5L959.8 1178.2L964.7 1184.2L969.7 1190.8L974.7 1198.3L979.7 1206.8L984.6 1216.1L989.6 1226.3L994.6 1237.3L999.6 1249.8L1004.5 1264.7L1009.5 1281.1L1014.5 1298.1L1019.5 1314.8L1024.4 1332.3L1029.4 1349.9L1034.4 1366.9" fill="none" stroke="#10CCCC" stroke-width="4" stroke-dasharray="27.5 14 6.2 14" stroke-dashoffset="35"/>
<path d="M243.3 1252.3L248.3 1248.9L253.3 1245.5L258.2 1242.2L263.2 1238.9L268.2 1235.6L273.2 1232.3L278.1 1229.0L283.1 1225.8L288.1 1222.6L293.1 1219.4L298.0 1216.3L303.0 1213.1L308.0 1210.0L313.0 1206.9L317.9 1203.9L322.9 1200.8L327.9 1197.8L332.9 1194.8L337.8 1191.8L342.8 1188.9L347.8 1186.0L352.8 1183.0L357.7 1180.1L362.7 1177.2L367.7 1174.3L372.7 1171.4L377.6 1168.6L382.6 1165.7L387.6 1162.9L392.6 1160.1L397.5 1157.4L402.5 1154.7L407.5 1152.0L412.5 1149.4L417.4 1146.8L422.4 1144.2L427.4 1141.7L432.4 1139.2L437.3 1136.8L442.3 1134.5L447.3 1132.2L452.3 1129.9L457.2 1127.6L462.2 1125.3L467.2 1123.0L472.2 1120.8L477.1 1118.6L482.1 1116.4L487.1 1114.2L492.1 1112.1L497.0 1110.1L502.0 1108.1L507.0 1106.1L512.0 1104.2L517.0 1102.4L521.9 1100.6L526.9 1098.9L531.9 1097.3L536.9 1095.7L541.8 1094.2L546.8 1092.7L551.8 1091.3L556.8 1089.8L561.7 1088.3L566.7 1086.9L571.7 1085.5L576.7 1084.1L581.6 1082.8L586.6 1081.5L591.6 1080.2L596.6 1079.0L601.5 1077.9L606.5 1076.8L611.5 1075.8L616.5 1074.9L621.4 1074.0L626.4 1073.3L631.4 1072.6L636.4 1072.1L641.3 1071.6L646.3 1071.2L651.3 1070.7L656.3 1070.3L661.2 1069.9L666.2 1069.6L671.2 1069.3L676.2 1069.1L681.1 1069.0L686.1 1068.9L691.1 1069.0L696.1 1069.4L701.0 1069.9L706.0 1070.5L711.0 1071.3L716.0 1072.2L720.9 1073.1L725.9 1074.1L730.9 1075.1L735.9 1076.2L740.8 1077.4L745.8 1078.9L750.8 1080.4L755.8 1082.1L760.7 1084.0L765.7 1086.0L770.7 1088.0L775.7 1090.3L780.7 1092.6L785.6 1095.0L790.6 1097.5L795.6 1100.1L800.6 1102.8L805.5 1105.6L810.5 1108.5L815.5 1111.4L820.5 1114.4L825.4 1117.5L830.4 1120.6L835.4 1123.7L840.4 1126.9L845.3 1130.3L850.3 1133.9L855.3 1137.8L860.3 1141.9L865.2 1146.3L870.2 1150.9L875.2 1155.6L880.2 1160.6L885.1 1165.7L890.1 1171.0L895.1 1176.4L900.1 1182.0L905.0 1187.7L910.0 1193.6L915.0 1199.6L920.0 1205.9L924.9 1212.4L929.9 1219.3L934.9 1226.5L939.9 1234.2L944.8 1242.2L949.8 1250.8L954.8 1259.9L959.8 1269.5L964.7 1280.5L969.7 1292.6L974.7 1305.8L979.7 1319.9L984.6 1334.6L989.6 1349.7L994.6 1365.1L999.6 1379.7L1004.5 1394.6L1009.5 1411.2L1014.5 1431.0L1019.5 1455.7L1024.4 1498.3L1029.4 1548.2L1034.4 1584.9" fill="none" stroke="#7C3A3A" stroke-width="4" stroke-dasharray="27.5 14 6.2 14" stroke-dashoffset="30"/>
<path d="M243.3 1250.5L248.3 1247.1L253.3 1243.8L258.2 1240.5L263.2 1237.2L268.2 1233.9L273.2 1230.7L278.1 1227.5L283.1 1224.2L288.1 1221.1L293.1 1217.9L298.0 1214.8L303.0 1211.7L308.0 1208.6L313.0 1205.5L317.9 1202.5L322.9 1199.5L327.9 1196.5L332.9 1193.5L337.8 1190.6L342.8 1187.6L347.8 1184.7L352.8 1181.8L357.7 1178.9L362.7 1176.1L367.7 1173.2L372.7 1170.4L377.6 1167.5L382.6 1164.7L387.6 1161.9L392.6 1159.2L397.5 1156.4L402.5 1153.8L407.5 1151.1L412.5 1148.5L417.4 1145.9L422.4 1143.4L427.4 1140.9L432.4 1138.5L437.3 1136.1L442.3 1133.7L447.3 1131.4L452.3 1129.1L457.2 1126.8L462.2 1124.6L467.2 1122.3L472.2 1120.1L477.1 1117.9L482.1 1115.7L487.1 1113.6L492.1 1111.5L497.0 1109.4L502.0 1107.4L507.0 1105.4L512.0 1103.5L517.0 1101.7L521.9 1099.9L526.9 1098.2L531.9 1096.6L536.9 1095.1L541.8 1093.6L546.8 1092.1L551.8 1090.7L556.8 1089.2L561.7 1087.8L566.7 1086.4L571.7 1085.0L576.7 1083.7L581.6 1082.3L586.6 1081.1L591.6 1079.8L596.6 1078.7L601.5 1077.5L606.5 1076.5L611.5 1075.5L616.5 1074.6L621.4 1073.7L626.4 1073.0L631.4 1072.3L636.4 1071.7L641.3 1071.2L646.3 1070.7L651.3 1070.3L656.3 1069.8L661.2 1069.4L666.2 1069.0L671.2 1068.7L676.2 1068.5L681.1 1068.4L686.1 1068.3L691.1 1068.4L696.1 1068.7L701.0 1069.2L706.0 1069.9L711.0 1070.7L716.0 1071.6L720.9 1072.5L725.9 1073.4L730.9 1074.4L735.9 1075.5L740.8 1076.8L745.8 1078.1L750.8 1079.7L755.8 1081.3L760.7 1083.1L765.7 1085.0L770.7 1087.0L775.7 1089.1L780.7 1091.3L785.6 1093.7L790.6 1096.1L795.6 1098.6L800.6 1101.2L805.5 1103.8L810.5 1106.5L815.5 1109.3L820.5 1112.2L825.4 1115.1L830.4 1118.0L835.4 1121.0L840.4 1124.1L845.3 1127.4L850.3 1130.9L855.3 1134.7L860.3 1138.7L865.2 1142.9L870.2 1147.3L875.2 1151.8L880.2 1156.6L885.1 1161.4L890.1 1166.4L895.1 1171.6L900.1 1176.8L905.0 1182.1L910.0 1187.5L915.0 1193.2L920.0 1199.0L924.9 1205.0L929.9 1211.2L934.9 1217.7L939.9 1224.5L944.8 1231.5L949.8 1238.9L954.8 1246.5L959.8 1254.5L964.7 1262.9L969.7 1271.8L974.7 1281.7L979.7 1292.4L984.6 1303.8L989.6 1315.6L994.6 1327.8L999.6 1340.3L1004.5 1353.3L1009.5 1367.0L1014.5 1381.8L1019.5 1397.8L1024.4 1416.7L1029.4 1437.7L1034.4 1457.6" fill="none" stroke="#4A4A4A" stroke-width="3"  />
<g transform="translate(374.4 1560.2) scale(0.3211586901763224)"><rect x="-397" y="-397" width="794" height="794" fill="#0091D0"/><g fill="none" stroke="#E6D800"><path stroke="none" fill="#E6D800" fill-rule="evenodd" d="M-370 0A370 370 0 1 0 370 0A370 370 0 1 0 -370 0ZM-320 0A320 338 0 1 0 320 0A320 338 0 1 0 -320 0Z"/><circle r="236.3" stroke-width="53"/><circle r="182.5" stroke-width="26.5"/><path d="M104.0 -53.0A116.75 116.75 0 0 0 -114.6 22.3" stroke-width="25.5"/><path d="M-104.9 51.2A116.75 116.75 0 0 0 113.3 -28.2" stroke-width="25.5"/></g><rect x="255" y="-30.0" width="97" height="60" fill="#E6D800" transform="rotate(-50.2)"/><rect x="255" y="-30.0" width="97" height="60" fill="#E6D800" transform="rotate(-230.2)"/><rect x="124" y="-9.5" width="51" height="19" fill="#E6D800" transform="rotate(-110)"/><rect x="124" y="-9.5" width="51" height="19" fill="#E6D800" transform="rotate(-290)"/></g><line x1="376.0" y1="1565.0" x2="376.0" y2="1439.0" stroke="#B29BC6" stroke-width="9.5" /><polygon points="376.0,1418.0 387.0,1440.0 365.0,1440.0" fill="#B29BC6"/><line x1="380.0" y1="1561.0" x2="497.0" y2="1561.0" stroke="#E00000" stroke-width="8.5" /><polygon points="520.0,1561.0 496.0,1572.5 496.0,1549.5" fill="#E00000"/><line x1="380.4" y1="1556.8" x2="397.4" y2="1537.7" stroke="#000" stroke-width="6" /><line x1="408.0" y1="1522.9" x2="430.2" y2="1498.5" stroke="#000" stroke-width="6" /><line x1="439.7" y1="1484.7" x2="465.2" y2="1455.0" stroke="#000" stroke-width="6" /><path d="M439.7 1484.7C442.2 1487.2 450.9 1493.9 454.6 1499.6C458.3 1505.2 460.2 1512.2 462.0 1518.6C463.8 1524.9 464.6 1531.2 465.2 1537.7C465.8 1544.2 465.5 1554.5 465.6 1557.8" fill="none" stroke="#000" stroke-width="7"/><text transform="matrix(0.9266 0 0 0.9778 336.77 1450.98)" font-size="100" font-weight="bold" font-style="italic" fill="#000" >y</text><text transform="matrix(1.1020 0 0 0.9457 501.65 1606.50)" font-size="100" font-weight="bold" font-style="italic" fill="#000" >x</text><text transform="matrix(1.0258 0 0 0.9085 473.21 1526.09)" font-size="100" font-weight="bold" font-style="italic" fill="#000" >θ</text><text transform="matrix(0.5972 0 0 0.6818 525.72 1541.00)" font-size="100"  fill="#000" >1</text>
<rect x="658.4" y="1062.0" width="69.1" height="630.0" fill="rgba(0,195,241,0.635)"/>
<rect x="243.3" y="1062" width="791.1000000000001" height="630" fill="none" stroke="#000" stroke-width="7.2"/><line x1="243.3" y1="1694.6" x2="243.3" y2="1704.6" stroke="#000" stroke-width="7" /><line x1="243.3" y1="1064.6" x2="243.3" y2="1072.6" stroke="#000" stroke-width="7" /><line x1="441.1" y1="1694.6" x2="441.1" y2="1704.6" stroke="#000" stroke-width="7" /><line x1="441.1" y1="1064.6" x2="441.1" y2="1072.6" stroke="#000" stroke-width="7" /><line x1="638.9" y1="1694.6" x2="638.9" y2="1704.6" stroke="#000" stroke-width="7" /><line x1="638.9" y1="1064.6" x2="638.9" y2="1072.6" stroke="#000" stroke-width="7" /><line x1="836.6" y1="1694.6" x2="836.6" y2="1704.6" stroke="#000" stroke-width="7" /><line x1="836.6" y1="1064.6" x2="836.6" y2="1072.6" stroke="#000" stroke-width="7" /><line x1="1034.4" y1="1694.6" x2="1034.4" y2="1704.6" stroke="#000" stroke-width="7" /><line x1="1034.4" y1="1064.6" x2="1034.4" y2="1072.6" stroke="#000" stroke-width="7" /><line x1="342.2" y1="1694.6" x2="342.2" y2="1699.6" stroke="#000" stroke-width="6" /><line x1="342.2" y1="1064.6" x2="342.2" y2="1068.6" stroke="#000" stroke-width="6" /><line x1="540.0" y1="1694.6" x2="540.0" y2="1699.6" stroke="#000" stroke-width="6" /><line x1="540.0" y1="1064.6" x2="540.0" y2="1068.6" stroke="#000" stroke-width="6" /><line x1="737.7" y1="1694.6" x2="737.7" y2="1699.6" stroke="#000" stroke-width="6" /><line x1="737.7" y1="1064.6" x2="737.7" y2="1068.6" stroke="#000" stroke-width="6" /><line x1="935.5" y1="1694.6" x2="935.5" y2="1699.6" stroke="#000" stroke-width="6" /><line x1="935.5" y1="1064.6" x2="935.5" y2="1068.6" stroke="#000" stroke-width="6" /><line x1="240.7" y1="1692.0" x2="229.7" y2="1692.0" stroke="#000" stroke-width="7" /><line x1="1031.8" y1="1692.0" x2="1022.8" y2="1692.0" stroke="#000" stroke-width="7" /><line x1="240.7" y1="1566.0" x2="229.7" y2="1566.0" stroke="#000" stroke-width="7" /><line x1="1031.8" y1="1566.0" x2="1022.8" y2="1566.0" stroke="#000" stroke-width="7" /><line x1="240.7" y1="1440.0" x2="229.7" y2="1440.0" stroke="#000" stroke-width="7" /><line x1="1031.8" y1="1440.0" x2="1022.8" y2="1440.0" stroke="#000" stroke-width="7" /><line x1="240.7" y1="1314.0" x2="229.7" y2="1314.0" stroke="#000" stroke-width="7" /><line x1="1031.8" y1="1314.0" x2="1022.8" y2="1314.0" stroke="#000" stroke-width="7" /><line x1="240.7" y1="1188.0" x2="229.7" y2="1188.0" stroke="#000" stroke-width="7" /><line x1="1031.8" y1="1188.0" x2="1022.8" y2="1188.0" stroke="#000" stroke-width="7" /><line x1="240.7" y1="1062.0" x2="229.7" y2="1062.0" stroke="#000" stroke-width="7" /><line x1="1031.8" y1="1062.0" x2="1022.8" y2="1062.0" stroke="#000" stroke-width="7" /><line x1="240.7" y1="1629.0" x2="235.7" y2="1629.0" stroke="#000" stroke-width="6" /><line x1="1031.8" y1="1629.0" x2="1027.3" y2="1629.0" stroke="#000" stroke-width="6" /><line x1="240.7" y1="1503.0" x2="235.7" y2="1503.0" stroke="#000" stroke-width="6" /><line x1="1031.8" y1="1503.0" x2="1027.3" y2="1503.0" stroke="#000" stroke-width="6" /><line x1="240.7" y1="1377.0" x2="235.7" y2="1377.0" stroke="#000" stroke-width="6" /><line x1="1031.8" y1="1377.0" x2="1027.3" y2="1377.0" stroke="#000" stroke-width="6" /><line x1="240.7" y1="1251.0" x2="235.7" y2="1251.0" stroke="#000" stroke-width="6" /><line x1="1031.8" y1="1251.0" x2="1027.3" y2="1251.0" stroke="#000" stroke-width="6" /><line x1="240.7" y1="1125.0" x2="235.7" y2="1125.0" stroke="#000" stroke-width="6" /><line x1="1031.8" y1="1125.0" x2="1027.3" y2="1125.0" stroke="#000" stroke-width="6" />
<rect x="658.4" y="1061.0" width="69.1" height="4.6" fill="rgba(0,195,241,0.3)"/>
<rect x="658.4" y="1688.4" width="69.1" height="7.2" fill="rgba(0,195,241,0.3)"/>
<text transform="matrix(0.5200 0 0 0.5200 210.28 1755.06)" font-size="100" font-weight="bold" fill="#000" >7.5</text>
<text transform="matrix(0.5200 0 0 0.5200 408.71 1755.58)" font-size="100" font-weight="bold" fill="#000" >8.0</text>
<text transform="matrix(0.5200 0 0 0.5200 606.35 1755.58)" font-size="100" font-weight="bold" fill="#000" >8.5</text>
<text transform="matrix(0.5200 0 0 0.5200 804.52 1755.58)" font-size="100" font-weight="bold" fill="#000" >9.0</text>
<text transform="matrix(0.5200 0 0 0.5200 1002.16 1755.32)" font-size="100" font-weight="bold" fill="#000" >9.5</text>
<text transform="matrix(0.5200 0 0 0.5200 155.58 1707.90)" font-size="100" font-weight="bold" fill="#000" >0.0</text>
<text transform="matrix(0.5200 0 0 0.5200 156.10 1581.90)" font-size="100" font-weight="bold" fill="#000" >0.1</text>
<text transform="matrix(0.5200 0 0 0.5200 155.58 1455.90)" font-size="100" font-weight="bold" fill="#000" >0.2</text>
<text transform="matrix(0.5200 0 0 0.5200 155.32 1329.90)" font-size="100" font-weight="bold" fill="#000" >0.3</text>
<text transform="matrix(0.5200 0 0 0.5200 154.54 1203.90)" font-size="100" font-weight="bold" fill="#000" >0.4</text>
<text transform="matrix(0.5200 0 0 0.5200 155.32 1077.90)" font-size="100" font-weight="bold" fill="#000" >0.5</text>
<text transform="matrix(0.5885 0 0 0.5890 433.02 1799.34)" font-size="100" font-weight="bold" fill="#000" >Frequency (GHz)</text>
<g transform="translate(0 0)"><g transform="translate(97.3 1494.9) rotate(-90)"><text transform="matrix(0.5272 0 0 0.5341 -0.53 37.12)" font-size="100" font-weight="bold" fill="#000" >Amplitude</text></g></g>
<clipPath id="cpd"><rect x="1269.6" y="1061.4" width="830.8000000000002" height="621.3999999999999"/></clipPath><g clip-path="url(#cpd)">
<path d="M1269.6 1152.9L1271.7 1153.4L1273.8 1154.0L1275.8 1154.5L1277.9 1155.1L1280.0 1155.6L1282.1 1156.2L1284.2 1156.7L1286.3 1157.3L1288.3 1157.9L1290.4 1158.4L1292.5 1159.0L1294.6 1159.5L1296.7 1160.1L1298.8 1160.7L1300.8 1161.2L1302.9 1161.8L1305.0 1162.4L1307.1 1162.9L1309.2 1163.5L1311.2 1164.1L1313.3 1164.6L1315.4 1165.2L1317.5 1165.8L1319.6 1166.4L1321.7 1167.0L1323.7 1167.5L1325.8 1168.1L1327.9 1168.7L1330.0 1169.3L1332.1 1169.9L1334.1 1170.5L1336.2 1171.0L1338.3 1171.6L1340.4 1172.2L1342.5 1172.8L1344.6 1173.4L1346.6 1174.0L1348.7 1174.6L1350.8 1175.2L1352.9 1175.8L1355.0 1176.4L1357.1 1177.0L1359.1 1177.6L1361.2 1178.2L1363.3 1178.8L1365.4 1179.4L1367.5 1180.0L1369.5 1180.6L1371.6 1181.2L1373.7 1181.9L1375.8 1182.5L1377.9 1183.1L1380.0 1183.7L1382.0 1184.3L1384.1 1184.9L1386.2 1185.6L1388.3 1186.2L1390.4 1186.8L1392.5 1187.4L1394.5 1188.1L1396.6 1188.7L1398.7 1189.3L1400.8 1190.0L1402.9 1190.6L1404.9 1191.2L1407.0 1191.9L1409.1 1192.5L1411.2 1193.1L1413.3 1193.8L1415.4 1194.4L1417.4 1195.1L1419.5 1195.7L1421.6 1196.4L1423.7 1197.0L1425.8 1197.7L1427.8 1198.3L1429.9 1199.0L1432.0 1199.6L1434.1 1200.3L1436.2 1200.9L1438.3 1201.6L1440.3 1202.2L1442.4 1202.9L1444.5 1203.5L1446.6 1204.2L1448.7 1204.9L1450.8 1205.5L1452.8 1206.2L1454.9 1206.9L1457.0 1207.5L1459.1 1208.2L1461.2 1208.9L1463.2 1209.5L1465.3 1210.2L1467.4 1210.9L1469.5 1211.5L1471.6 1212.2L1473.7 1212.9L1475.7 1213.6L1477.8 1214.2L1479.9 1214.9L1482.0 1215.6L1484.1 1216.3L1486.1 1216.9L1488.2 1217.6L1490.3 1218.3L1492.4 1219.0L1494.5 1219.6L1496.6 1220.3L1498.6 1221.0L1500.7 1221.7L1502.8 1222.4L1504.9 1223.1L1507.0 1223.8L1509.1 1224.5L1511.1 1225.2L1513.2 1225.9L1515.3 1226.6L1517.4 1227.3L1519.5 1228.0L1521.5 1228.7L1523.6 1229.4L1525.7 1230.1L1527.8 1230.8L1529.9 1231.5L1532.0 1232.2L1534.0 1232.9L1536.1 1233.6L1538.2 1234.4L1540.3 1235.1L1542.4 1235.8L1544.5 1236.5L1546.5 1237.2L1548.6 1237.9L1550.7 1238.7L1552.8 1239.4L1554.9 1240.1L1556.9 1240.8L1559.0 1241.5L1561.1 1242.3L1563.2 1243.0L1565.3 1243.7L1567.4 1244.4L1569.4 1245.1L1571.5 1245.9L1573.6 1246.6L1575.7 1247.3L1577.8 1248.0L1579.8 1248.7L1581.9 1249.5L1584.0 1250.2L1586.1 1250.9L1588.2 1251.6L1590.3 1252.3L1592.3 1253.1L1594.4 1253.8L1596.5 1254.5L1598.6 1255.2L1600.7 1255.9L1602.8 1256.6L1604.8 1257.4L1606.9 1258.1L1609.0 1258.8L1611.1 1259.5L1613.2 1260.2L1615.2 1260.9L1617.3 1261.6L1619.4 1262.3L1621.5 1263.0L1623.6 1263.7L1625.7 1264.5L1627.7 1265.2L1629.8 1265.9L1631.9 1266.6L1634.0 1267.3L1636.1 1268.0L1638.2 1268.7L1640.2 1269.4L1642.3 1270.1L1644.4 1270.8L1646.5 1271.5L1648.6 1272.2L1650.6 1272.9L1652.7 1273.6L1654.8 1274.3L1656.9 1275.0L1659.0 1275.7L1661.1 1276.4L1663.1 1277.1L1665.2 1277.8L1667.3 1278.5L1669.4 1279.2L1671.5 1279.9L1673.5 1280.7L1675.6 1281.4L1677.7 1282.1L1679.8 1282.8L1681.9 1283.5L1684.0 1284.3L1686.0 1285.0L1688.1 1285.7L1690.2 1286.5L1692.3 1287.2L1694.4 1287.9L1696.5 1288.7L1698.5 1289.4L1700.6 1290.2L1702.7 1290.9L1704.8 1291.7L1706.9 1292.5L1708.9 1293.3L1711.0 1294.0L1713.1 1294.8L1715.2 1295.6L1717.3 1296.4L1719.4 1297.2L1721.4 1298.0L1723.5 1298.8L1725.6 1299.6L1727.7 1300.3L1729.8 1301.1L1731.8 1301.9L1733.9 1302.6L1736.0 1303.4L1738.1 1304.2L1740.2 1305.0L1742.3 1305.7L1744.3 1306.5L1746.4 1307.3L1748.5 1308.0L1750.6 1308.8L1752.7 1309.6L1754.8 1310.3L1756.8 1311.1L1758.9 1311.8L1761.0 1312.6L1763.1 1313.4L1765.2 1314.1L1767.2 1314.9L1769.3 1315.6L1771.4 1316.4L1773.5 1317.2L1775.6 1317.9L1777.7 1318.7L1779.7 1319.5L1781.8 1320.2L1783.9 1321.0L1786.0 1321.7L1788.1 1322.5L1790.2 1323.3L1792.2 1324.0L1794.3 1324.8L1796.4 1325.5L1798.5 1326.3L1800.6 1327.1L1802.6 1327.8L1804.7 1328.6L1806.8 1329.3L1808.9 1330.1L1811.0 1330.9L1813.1 1331.6L1815.1 1332.4L1817.2 1333.2L1819.3 1333.9L1821.4 1334.7L1823.5 1335.5L1825.5 1336.2L1827.6 1337.0L1829.7 1337.8L1831.8 1338.5L1833.9 1339.3L1836.0 1340.1L1838.0 1340.8L1840.1 1341.6L1842.2 1342.4L1844.3 1343.2L1846.4 1343.9L1848.5 1344.7L1850.5 1345.5L1852.6 1346.3L1854.7 1347.0L1856.8 1347.8L1858.9 1348.6L1860.9 1349.4L1863.0 1350.1L1865.1 1350.9L1867.2 1351.7L1869.3 1352.5L1871.4 1353.2L1873.4 1354.0L1875.5 1354.8L1877.6 1355.6L1879.7 1356.4L1881.8 1357.2L1883.9 1357.9L1885.9 1358.7L1888.0 1359.5L1890.1 1360.3L1892.2 1361.1L1894.3 1361.9L1896.3 1362.7L1898.4 1363.5L1900.5 1364.3L1902.6 1365.2L1904.7 1366.0L1906.8 1366.8L1908.8 1367.6L1910.9 1368.5L1913.0 1369.3L1915.1 1370.1L1917.2 1371.0L1919.2 1371.8L1921.3 1372.6L1923.4 1373.5L1925.5 1374.3L1927.6 1375.2L1929.7 1376.0L1931.7 1376.9L1933.8 1377.7L1935.9 1378.6L1938.0 1379.4L1940.1 1380.3L1942.2 1381.2L1944.2 1382.0L1946.3 1382.9L1948.4 1383.8L1950.5 1384.6L1952.6 1385.5L1954.6 1386.4L1956.7 1387.3L1958.8 1388.2L1960.9 1389.1L1963.0 1389.9L1965.1 1390.8L1967.1 1391.7L1969.2 1392.6L1971.3 1393.5L1973.4 1394.4L1975.5 1395.2L1977.5 1396.1L1979.6 1397.0L1981.7 1397.9L1983.8 1398.8L1985.9 1399.7L1988.0 1400.6L1990.0 1401.5L1992.1 1402.5L1994.2 1403.4L1996.3 1404.3L1998.4 1405.2L2000.5 1406.2L2002.5 1407.1L2004.6 1408.1L2006.7 1409.0L2008.8 1410.0L2010.9 1411.0L2012.9 1411.9L2015.0 1412.9L2017.1 1413.9L2019.2 1415.0L2021.3 1416.0L2023.4 1417.0L2025.4 1418.1L2027.5 1419.1L2029.6 1420.2L2031.7 1421.2L2033.8 1422.3L2035.9 1423.4L2037.9 1424.5L2040.0 1425.6L2042.1 1426.7L2044.2 1427.8L2046.3 1428.9L2048.3 1430.0L2050.4 1431.2L2052.5 1432.3L2054.6 1433.5L2056.7 1434.6L2058.8 1435.8L2060.8 1436.9L2062.9 1438.1L2065.0 1439.3L2067.1 1440.5L2069.2 1441.7L2071.2 1442.8L2073.3 1444.0L2075.4 1445.2L2077.5 1446.5L2079.6 1447.7L2081.7 1448.9L2083.7 1450.2L2085.8 1451.5L2087.9 1452.8L2090.0 1454.1L2092.1 1455.4L2094.2 1456.8L2096.2 1458.2L2098.3 1459.6L2100.4 1461.0" fill="none" stroke="#4A4A4A" stroke-width="4.6" stroke-dasharray="27.5 14 6.2 14" />
<path d="M1269.6 1233.7L1271.7 1234.2L1273.8 1234.8L1275.8 1235.3L1277.9 1235.9L1280.0 1236.4L1282.1 1237.0L1284.2 1237.6L1286.3 1238.1L1288.3 1238.7L1290.4 1239.3L1292.5 1239.8L1294.6 1240.4L1296.7 1241.0L1298.8 1241.5L1300.8 1242.1L1302.9 1242.7L1305.0 1243.2L1307.1 1243.8L1309.2 1244.4L1311.2 1245.0L1313.3 1245.6L1315.4 1246.1L1317.5 1246.7L1319.6 1247.3L1321.7 1247.9L1323.7 1248.5L1325.8 1249.1L1327.9 1249.7L1330.0 1250.3L1332.1 1250.8L1334.1 1251.4L1336.2 1252.0L1338.3 1252.6L1340.4 1253.2L1342.5 1253.8L1344.6 1254.4L1346.6 1255.0L1348.7 1255.6L1350.8 1256.2L1352.9 1256.8L1355.0 1257.5L1357.1 1258.1L1359.1 1258.7L1361.2 1259.3L1363.3 1259.9L1365.4 1260.5L1367.5 1261.1L1369.5 1261.8L1371.6 1262.4L1373.7 1263.0L1375.8 1263.6L1377.9 1264.2L1380.0 1264.9L1382.0 1265.5L1384.1 1266.1L1386.2 1266.8L1388.3 1267.4L1390.4 1268.0L1392.5 1268.7L1394.5 1269.3L1396.6 1269.9L1398.7 1270.6L1400.8 1271.2L1402.9 1271.9L1404.9 1272.5L1407.0 1273.2L1409.1 1273.8L1411.2 1274.5L1413.3 1275.1L1415.4 1275.8L1417.4 1276.4L1419.5 1277.1L1421.6 1277.8L1423.7 1278.4L1425.8 1279.1L1427.8 1279.8L1429.9 1280.4L1432.0 1281.1L1434.1 1281.7L1436.2 1282.4L1438.3 1283.1L1440.3 1283.8L1442.4 1284.4L1444.5 1285.1L1446.6 1285.8L1448.7 1286.4L1450.8 1287.1L1452.8 1287.8L1454.9 1288.5L1457.0 1289.1L1459.1 1289.8L1461.2 1290.5L1463.2 1291.2L1465.3 1291.8L1467.4 1292.5L1469.5 1293.2L1471.6 1293.9L1473.7 1294.6L1475.7 1295.2L1477.8 1295.9L1479.9 1296.6L1482.0 1297.3L1484.1 1298.0L1486.1 1298.6L1488.2 1299.3L1490.3 1300.0L1492.4 1300.7L1494.5 1301.4L1496.6 1302.0L1498.6 1302.7L1500.7 1303.4L1502.8 1304.1L1504.9 1304.8L1507.0 1305.5L1509.1 1306.2L1511.1 1306.8L1513.2 1307.5L1515.3 1308.2L1517.4 1308.9L1519.5 1309.6L1521.5 1310.3L1523.6 1311.0L1525.7 1311.7L1527.8 1312.4L1529.9 1313.1L1532.0 1313.8L1534.0 1314.5L1536.1 1315.2L1538.2 1315.9L1540.3 1316.6L1542.4 1317.3L1544.5 1318.0L1546.5 1318.7L1548.6 1319.4L1550.7 1320.1L1552.8 1320.8L1554.9 1321.5L1556.9 1322.2L1559.0 1322.9L1561.1 1323.6L1563.2 1324.3L1565.3 1325.1L1567.4 1325.8L1569.4 1326.5L1571.5 1327.2L1573.6 1327.9L1575.7 1328.6L1577.8 1329.3L1579.8 1330.0L1581.9 1330.7L1584.0 1331.4L1586.1 1332.2L1588.2 1332.9L1590.3 1333.6L1592.3 1334.3L1594.4 1335.0L1596.5 1335.7L1598.6 1336.4L1600.7 1337.1L1602.8 1337.9L1604.8 1338.6L1606.9 1339.3L1609.0 1340.0L1611.1 1340.7L1613.2 1341.4L1615.2 1342.1L1617.3 1342.9L1619.4 1343.6L1621.5 1344.3L1623.6 1345.0L1625.7 1345.7L1627.7 1346.4L1629.8 1347.2L1631.9 1347.9L1634.0 1348.6L1636.1 1349.3L1638.2 1350.0L1640.2 1350.7L1642.3 1351.5L1644.4 1352.2L1646.5 1352.9L1648.6 1353.6L1650.6 1354.4L1652.7 1355.1L1654.8 1355.8L1656.9 1356.6L1659.0 1357.3L1661.1 1358.0L1663.1 1358.8L1665.2 1359.5L1667.3 1360.3L1669.4 1361.0L1671.5 1361.8L1673.5 1362.5L1675.6 1363.3L1677.7 1364.0L1679.8 1364.8L1681.9 1365.6L1684.0 1366.3L1686.0 1367.1L1688.1 1367.9L1690.2 1368.6L1692.3 1369.4L1694.4 1370.2L1696.5 1371.0L1698.5 1371.7L1700.6 1372.5L1702.7 1373.3L1704.8 1374.1L1706.9 1374.8L1708.9 1375.6L1711.0 1376.4L1713.1 1377.2L1715.2 1377.9L1717.3 1378.7L1719.4 1379.5L1721.4 1380.2L1723.5 1381.0L1725.6 1381.8L1727.7 1382.5L1729.8 1383.3L1731.8 1384.0L1733.9 1384.8L1736.0 1385.6L1738.1 1386.3L1740.2 1387.1L1742.3 1387.8L1744.3 1388.6L1746.4 1389.3L1748.5 1390.0L1750.6 1390.8L1752.7 1391.5L1754.8 1392.3L1756.8 1393.0L1758.9 1393.8L1761.0 1394.5L1763.1 1395.2L1765.2 1396.0L1767.2 1396.7L1769.3 1397.5L1771.4 1398.2L1773.5 1398.9L1775.6 1399.7L1777.7 1400.4L1779.7 1401.2L1781.8 1401.9L1783.9 1402.6L1786.0 1403.4L1788.1 1404.1L1790.2 1404.9L1792.2 1405.6L1794.3 1406.4L1796.4 1407.1L1798.5 1407.8L1800.6 1408.6L1802.6 1409.3L1804.7 1410.1L1806.8 1410.8L1808.9 1411.6L1811.0 1412.3L1813.1 1413.1L1815.1 1413.9L1817.2 1414.6L1819.3 1415.4L1821.4 1416.1L1823.5 1416.9L1825.5 1417.7L1827.6 1418.4L1829.7 1419.2L1831.8 1420.0L1833.9 1420.8L1836.0 1421.5L1838.0 1422.3L1840.1 1423.1L1842.2 1423.9L1844.3 1424.7L1846.4 1425.5L1848.5 1426.3L1850.5 1427.1L1852.6 1427.9L1854.7 1428.7L1856.8 1429.5L1858.9 1430.2L1860.9 1431.0L1863.0 1431.8L1865.1 1432.6L1867.2 1433.4L1869.3 1434.2L1871.4 1435.0L1873.4 1435.8L1875.5 1436.6L1877.6 1437.4L1879.7 1438.3L1881.8 1439.1L1883.9 1439.9L1885.9 1440.7L1888.0 1441.5L1890.1 1442.3L1892.2 1443.1L1894.3 1443.9L1896.3 1444.8L1898.4 1445.6L1900.5 1446.4L1902.6 1447.2L1904.7 1448.1L1906.8 1448.9L1908.8 1449.7L1910.9 1450.6L1913.0 1451.4L1915.1 1452.2L1917.2 1453.1L1919.2 1453.9L1921.3 1454.8L1923.4 1455.6L1925.5 1456.5L1927.6 1457.3L1929.7 1458.2L1931.7 1459.1L1933.8 1459.9L1935.9 1460.8L1938.0 1461.7L1940.1 1462.6L1942.2 1463.4L1944.2 1464.3L1946.3 1465.2L1948.4 1466.1L1950.5 1467.0L1952.6 1467.9L1954.6 1468.8L1956.7 1469.7L1958.8 1470.7L1960.9 1471.6L1963.0 1472.5L1965.1 1473.4L1967.1 1474.3L1969.2 1475.3L1971.3 1476.2L1973.4 1477.1L1975.5 1478.1L1977.5 1479.0L1979.6 1480.0L1981.7 1480.9L1983.8 1481.9L1985.9 1482.8L1988.0 1483.8L1990.0 1484.8L1992.1 1485.8L1994.2 1486.8L1996.3 1487.8L1998.4 1488.8L2000.5 1489.9L2002.5 1490.9L2004.6 1492.0L2006.7 1493.1L2008.8 1494.2L2010.9 1495.3L2012.9 1496.4L2015.0 1497.6L2017.1 1498.7L2019.2 1499.9L2021.3 1501.1L2023.4 1502.4L2025.4 1503.7L2027.5 1505.0L2029.6 1506.3L2031.7 1507.7L2033.8 1509.1L2035.9 1510.5L2037.9 1511.9L2040.0 1513.3L2042.1 1514.7L2044.2 1516.1L2046.3 1517.5L2048.3 1519.0L2050.4 1520.4L2052.5 1521.8L2054.6 1523.2L2056.7 1524.6L2058.8 1526.0L2060.8 1527.4L2062.9 1528.7L2065.0 1530.1L2067.1 1531.4L2069.2 1532.7L2071.2 1534.0L2073.3 1535.3L2075.4 1536.6L2077.5 1537.9L2079.6 1539.2L2081.7 1540.5L2083.7 1541.7L2085.8 1543.0L2087.9 1544.3L2090.0 1545.5L2092.1 1546.8L2094.2 1548.0L2096.2 1549.2L2098.3 1550.4L2100.4 1551.6" fill="none" stroke="#FF3B3B" stroke-width="4.6" stroke-dasharray="27.5 14 6.2 14" />
<path d="M1269.6 1310.3L1271.7 1310.9L1273.8 1311.4L1275.8 1312.0L1277.9 1312.6L1280.0 1313.1L1282.1 1313.7L1284.2 1314.3L1286.3 1314.9L1288.3 1315.4L1290.4 1316.0L1292.5 1316.6L1294.6 1317.2L1296.7 1317.7L1298.8 1318.3L1300.8 1318.9L1302.9 1319.5L1305.0 1320.0L1307.1 1320.6L1309.2 1321.2L1311.2 1321.8L1313.3 1322.4L1315.4 1323.0L1317.5 1323.5L1319.6 1324.1L1321.7 1324.7L1323.7 1325.3L1325.8 1325.9L1327.9 1326.5L1330.0 1327.1L1332.1 1327.7L1334.1 1328.2L1336.2 1328.8L1338.3 1329.4L1340.4 1330.0L1342.5 1330.6L1344.6 1331.2L1346.6 1331.8L1348.7 1332.4L1350.8 1333.0L1352.9 1333.6L1355.0 1334.2L1357.1 1334.8L1359.1 1335.4L1361.2 1336.0L1363.3 1336.6L1365.4 1337.2L1367.5 1337.8L1369.5 1338.4L1371.6 1339.0L1373.7 1339.6L1375.8 1340.2L1377.9 1340.8L1380.0 1341.4L1382.0 1342.0L1384.1 1342.6L1386.2 1343.2L1388.3 1343.8L1390.4 1344.4L1392.5 1345.0L1394.5 1345.6L1396.6 1346.2L1398.7 1346.8L1400.8 1347.4L1402.9 1348.0L1404.9 1348.6L1407.0 1349.2L1409.1 1349.8L1411.2 1350.5L1413.3 1351.1L1415.4 1351.7L1417.4 1352.3L1419.5 1352.9L1421.6 1353.5L1423.7 1354.1L1425.8 1354.8L1427.8 1355.4L1429.9 1356.0L1432.0 1356.6L1434.1 1357.3L1436.2 1357.9L1438.3 1358.5L1440.3 1359.2L1442.4 1359.8L1444.5 1360.5L1446.6 1361.2L1448.7 1361.8L1450.8 1362.5L1452.8 1363.1L1454.9 1363.8L1457.0 1364.5L1459.1 1365.2L1461.2 1365.9L1463.2 1366.6L1465.3 1367.3L1467.4 1368.0L1469.5 1368.8L1471.6 1369.5L1473.7 1370.3L1475.7 1371.1L1477.8 1371.8L1479.9 1372.6L1482.0 1373.4L1484.1 1374.1L1486.1 1374.9L1488.2 1375.6L1490.3 1376.4L1492.4 1377.1L1494.5 1377.8L1496.6 1378.5L1498.6 1379.2L1500.7 1379.9L1502.8 1380.6L1504.9 1381.3L1507.0 1382.0L1509.1 1382.7L1511.1 1383.4L1513.2 1384.1L1515.3 1384.8L1517.4 1385.5L1519.5 1386.2L1521.5 1386.9L1523.6 1387.5L1525.7 1388.2L1527.8 1388.9L1529.9 1389.6L1532.0 1390.2L1534.0 1390.9L1536.1 1391.6L1538.2 1392.2L1540.3 1392.9L1542.4 1393.6L1544.5 1394.3L1546.5 1394.9L1548.6 1395.6L1550.7 1396.2L1552.8 1396.9L1554.9 1397.6L1556.9 1398.2L1559.0 1398.9L1561.1 1399.6L1563.2 1400.2L1565.3 1400.9L1567.4 1401.5L1569.4 1402.2L1571.5 1402.9L1573.6 1403.5L1575.7 1404.2L1577.8 1404.8L1579.8 1405.5L1581.9 1406.2L1584.0 1406.8L1586.1 1407.5L1588.2 1408.2L1590.3 1408.8L1592.3 1409.5L1594.4 1410.2L1596.5 1410.8L1598.6 1411.5L1600.7 1412.2L1602.8 1412.8L1604.8 1413.5L1606.9 1414.2L1609.0 1414.9L1611.1 1415.5L1613.2 1416.2L1615.2 1416.9L1617.3 1417.6L1619.4 1418.2L1621.5 1418.9L1623.6 1419.6L1625.7 1420.2L1627.7 1420.9L1629.8 1421.5L1631.9 1422.2L1634.0 1422.9L1636.1 1423.5L1638.2 1424.2L1640.2 1424.8L1642.3 1425.5L1644.4 1426.2L1646.5 1426.8L1648.6 1427.5L1650.6 1428.2L1652.7 1428.8L1654.8 1429.5L1656.9 1430.1L1659.0 1430.8L1661.1 1431.5L1663.1 1432.2L1665.2 1432.8L1667.3 1433.5L1669.4 1434.2L1671.5 1434.9L1673.5 1435.6L1675.6 1436.2L1677.7 1436.9L1679.8 1437.6L1681.9 1438.3L1684.0 1439.0L1686.0 1439.7L1688.1 1440.5L1690.2 1441.2L1692.3 1441.9L1694.4 1442.6L1696.5 1443.4L1698.5 1444.1L1700.6 1444.8L1702.7 1445.6L1704.8 1446.4L1706.9 1447.2L1708.9 1448.0L1711.0 1448.8L1713.1 1449.6L1715.2 1450.4L1717.3 1451.2L1719.4 1452.0L1721.4 1452.8L1723.5 1453.6L1725.6 1454.4L1727.7 1455.2L1729.8 1455.9L1731.8 1456.7L1733.9 1457.4L1736.0 1458.2L1738.1 1458.9L1740.2 1459.6L1742.3 1460.4L1744.3 1461.1L1746.4 1461.8L1748.5 1462.5L1750.6 1463.3L1752.7 1464.0L1754.8 1464.7L1756.8 1465.4L1758.9 1466.1L1761.0 1466.8L1763.1 1467.5L1765.2 1468.2L1767.2 1468.9L1769.3 1469.6L1771.4 1470.3L1773.5 1471.0L1775.6 1471.7L1777.7 1472.3L1779.7 1473.0L1781.8 1473.7L1783.9 1474.4L1786.0 1475.1L1788.1 1475.8L1790.2 1476.4L1792.2 1477.1L1794.3 1477.8L1796.4 1478.5L1798.5 1479.2L1800.6 1479.8L1802.6 1480.5L1804.7 1481.2L1806.8 1481.9L1808.9 1482.6L1811.0 1483.3L1813.1 1483.9L1815.1 1484.6L1817.2 1485.3L1819.3 1486.0L1821.4 1486.7L1823.5 1487.4L1825.5 1488.1L1827.6 1488.8L1829.7 1489.5L1831.8 1490.2L1833.9 1490.9L1836.0 1491.6L1838.0 1492.3L1840.1 1493.0L1842.2 1493.7L1844.3 1494.4L1846.4 1495.1L1848.5 1495.8L1850.5 1496.5L1852.6 1497.2L1854.7 1497.9L1856.8 1498.7L1858.9 1499.4L1860.9 1500.1L1863.0 1500.8L1865.1 1501.5L1867.2 1502.2L1869.3 1502.9L1871.4 1503.6L1873.4 1504.3L1875.5 1505.0L1877.6 1505.7L1879.7 1506.4L1881.8 1507.1L1883.9 1507.8L1885.9 1508.5L1888.0 1509.2L1890.1 1509.9L1892.2 1510.6L1894.3 1511.3L1896.3 1512.0L1898.4 1512.7L1900.5 1513.4L1902.6 1514.1L1904.7 1514.9L1906.8 1515.6L1908.8 1516.3L1910.9 1517.0L1913.0 1517.7L1915.1 1518.4L1917.2 1519.2L1919.2 1519.9L1921.3 1520.6L1923.4 1521.4L1925.5 1522.1L1927.6 1522.8L1929.7 1523.6L1931.7 1524.3L1933.8 1525.1L1935.9 1525.8L1938.0 1526.6L1940.1 1527.4L1942.2 1528.1L1944.2 1528.9L1946.3 1529.7L1948.4 1530.4L1950.5 1531.2L1952.6 1532.0L1954.6 1532.8L1956.7 1533.6L1958.8 1534.4L1960.9 1535.2L1963.0 1536.0L1965.1 1536.9L1967.1 1537.7L1969.2 1538.5L1971.3 1539.3L1973.4 1540.2L1975.5 1541.0L1977.5 1541.9L1979.6 1542.7L1981.7 1543.6L1983.8 1544.4L1985.9 1545.3L1988.0 1546.2L1990.0 1547.1L1992.1 1548.0L1994.2 1548.9L1996.3 1549.8L1998.4 1550.7L2000.5 1551.6L2002.5 1552.6L2004.6 1553.5L2006.7 1554.5L2008.8 1555.4L2010.9 1556.4L2012.9 1557.4L2015.0 1558.4L2017.1 1559.4L2019.2 1560.4L2021.3 1561.5L2023.4 1562.5L2025.4 1563.6L2027.5 1564.7L2029.6 1565.7L2031.7 1566.8L2033.8 1567.9L2035.9 1569.0L2037.9 1570.1L2040.0 1571.3L2042.1 1572.4L2044.2 1573.6L2046.3 1574.8L2048.3 1576.0L2050.4 1577.2L2052.5 1578.4L2054.6 1579.7L2056.7 1581.0L2058.8 1582.3L2060.8 1583.6L2062.9 1585.0L2065.0 1586.4L2067.1 1587.8L2069.2 1589.3L2071.2 1590.7L2073.3 1592.3L2075.4 1593.8L2077.5 1595.5L2079.6 1597.2L2081.7 1598.9L2083.7 1600.8L2085.8 1602.7L2087.9 1604.6L2090.0 1606.6L2092.1 1608.6L2094.2 1610.7L2096.2 1612.7L2098.3 1614.9L2100.4 1617.2" fill="none" stroke="#0A6AE0" stroke-width="4.6" stroke-dasharray="27.5 14 6.2 14" />
<path d="M1269.6 1385.9L1271.7 1386.5L1273.8 1387.0L1275.8 1387.6L1277.9 1388.1L1280.0 1388.7L1282.1 1389.2L1284.2 1389.8L1286.3 1390.3L1288.3 1390.9L1290.4 1391.4L1292.5 1392.0L1294.6 1392.5L1296.7 1393.1L1298.8 1393.7L1300.8 1394.2L1302.9 1394.8L1305.0 1395.4L1307.1 1395.9L1309.2 1396.5L1311.2 1397.0L1313.3 1397.6L1315.4 1398.2L1317.5 1398.8L1319.6 1399.3L1321.7 1399.9L1323.7 1400.5L1325.8 1401.0L1327.9 1401.6L1330.0 1402.2L1332.1 1402.8L1334.1 1403.3L1336.2 1403.9L1338.3 1404.5L1340.4 1405.1L1342.5 1405.7L1344.6 1406.3L1346.6 1406.8L1348.7 1407.4L1350.8 1408.0L1352.9 1408.6L1355.0 1409.2L1357.1 1409.8L1359.1 1410.4L1361.2 1411.0L1363.3 1411.5L1365.4 1412.1L1367.5 1412.7L1369.5 1413.3L1371.6 1413.9L1373.7 1414.5L1375.8 1415.1L1377.9 1415.7L1380.0 1416.3L1382.0 1416.9L1384.1 1417.5L1386.2 1418.1L1388.3 1418.7L1390.4 1419.4L1392.5 1420.0L1394.5 1420.6L1396.6 1421.2L1398.7 1421.8L1400.8 1422.4L1402.9 1423.0L1404.9 1423.6L1407.0 1424.3L1409.1 1424.9L1411.2 1425.5L1413.3 1426.1L1415.4 1426.7L1417.4 1427.4L1419.5 1428.0L1421.6 1428.6L1423.7 1429.2L1425.8 1429.9L1427.8 1430.5L1429.9 1431.1L1432.0 1431.8L1434.1 1432.4L1436.2 1433.0L1438.3 1433.7L1440.3 1434.3L1442.4 1434.9L1444.5 1435.6L1446.6 1436.2L1448.7 1436.8L1450.8 1437.5L1452.8 1438.1L1454.9 1438.7L1457.0 1439.4L1459.1 1440.0L1461.2 1440.6L1463.2 1441.3L1465.3 1441.9L1467.4 1442.6L1469.5 1443.2L1471.6 1443.8L1473.7 1444.5L1475.7 1445.1L1477.8 1445.8L1479.9 1446.4L1482.0 1447.0L1484.1 1447.7L1486.1 1448.3L1488.2 1449.0L1490.3 1449.6L1492.4 1450.2L1494.5 1450.9L1496.6 1451.5L1498.6 1452.2L1500.7 1452.8L1502.8 1453.5L1504.9 1454.1L1507.0 1454.8L1509.1 1455.4L1511.1 1456.1L1513.2 1456.7L1515.3 1457.4L1517.4 1458.0L1519.5 1458.7L1521.5 1459.3L1523.6 1460.0L1525.7 1460.6L1527.8 1461.3L1529.9 1461.9L1532.0 1462.6L1534.0 1463.3L1536.1 1463.9L1538.2 1464.6L1540.3 1465.2L1542.4 1465.9L1544.5 1466.6L1546.5 1467.2L1548.6 1467.9L1550.7 1468.5L1552.8 1469.2L1554.9 1469.9L1556.9 1470.5L1559.0 1471.2L1561.1 1471.8L1563.2 1472.5L1565.3 1473.2L1567.4 1473.8L1569.4 1474.5L1571.5 1475.2L1573.6 1475.8L1575.7 1476.5L1577.8 1477.2L1579.8 1477.8L1581.9 1478.5L1584.0 1479.1L1586.1 1479.8L1588.2 1480.5L1590.3 1481.1L1592.3 1481.8L1594.4 1482.5L1596.5 1483.1L1598.6 1483.8L1600.7 1484.5L1602.8 1485.1L1604.8 1485.8L1606.9 1486.5L1609.0 1487.1L1611.1 1487.8L1613.2 1488.5L1615.2 1489.1L1617.3 1489.8L1619.4 1490.5L1621.5 1491.1L1623.6 1491.8L1625.7 1492.5L1627.7 1493.2L1629.8 1493.8L1631.9 1494.5L1634.0 1495.2L1636.1 1495.9L1638.2 1496.5L1640.2 1497.2L1642.3 1497.9L1644.4 1498.6L1646.5 1499.3L1648.6 1499.9L1650.6 1500.6L1652.7 1501.3L1654.8 1502.0L1656.9 1502.7L1659.0 1503.3L1661.1 1504.0L1663.1 1504.7L1665.2 1505.4L1667.3 1506.0L1669.4 1506.7L1671.5 1507.4L1673.5 1508.1L1675.6 1508.7L1677.7 1509.4L1679.8 1510.1L1681.9 1510.7L1684.0 1511.4L1686.0 1512.1L1688.1 1512.7L1690.2 1513.4L1692.3 1514.0L1694.4 1514.7L1696.5 1515.3L1698.5 1516.0L1700.6 1516.6L1702.7 1517.2L1704.8 1517.9L1706.9 1518.5L1708.9 1519.1L1711.0 1519.7L1713.1 1520.4L1715.2 1521.0L1717.3 1521.6L1719.4 1522.2L1721.4 1522.8L1723.5 1523.5L1725.6 1524.1L1727.7 1524.7L1729.8 1525.3L1731.8 1526.0L1733.9 1526.6L1736.0 1527.2L1738.1 1527.9L1740.2 1528.5L1742.3 1529.2L1744.3 1529.8L1746.4 1530.4L1748.5 1531.1L1750.6 1531.7L1752.7 1532.4L1754.8 1533.0L1756.8 1533.6L1758.9 1534.3L1761.0 1534.9L1763.1 1535.6L1765.2 1536.2L1767.2 1536.9L1769.3 1537.5L1771.4 1538.2L1773.5 1538.8L1775.6 1539.5L1777.7 1540.1L1779.7 1540.8L1781.8 1541.4L1783.9 1542.1L1786.0 1542.7L1788.1 1543.4L1790.2 1544.0L1792.2 1544.7L1794.3 1545.3L1796.4 1546.0L1798.5 1546.6L1800.6 1547.3L1802.6 1547.9L1804.7 1548.6L1806.8 1549.2L1808.9 1549.9L1811.0 1550.5L1813.1 1551.2L1815.1 1551.8L1817.2 1552.5L1819.3 1553.1L1821.4 1553.8L1823.5 1554.4L1825.5 1555.1L1827.6 1555.7L1829.7 1556.4L1831.8 1557.0L1833.9 1557.7L1836.0 1558.3L1838.0 1559.0L1840.1 1559.6L1842.2 1560.3L1844.3 1560.9L1846.4 1561.6L1848.5 1562.2L1850.5 1562.9L1852.6 1563.5L1854.7 1564.2L1856.8 1564.8L1858.9 1565.5L1860.9 1566.1L1863.0 1566.7L1865.1 1567.4L1867.2 1568.0L1869.3 1568.7L1871.4 1569.3L1873.4 1569.9L1875.5 1570.6L1877.6 1571.2L1879.7 1571.8L1881.8 1572.5L1883.9 1573.1L1885.9 1573.8L1888.0 1574.4L1890.1 1575.0L1892.2 1575.7L1894.3 1576.3L1896.3 1576.9L1898.4 1577.6L1900.5 1578.2L1902.6 1578.8L1904.7 1579.5L1906.8 1580.1L1908.8 1580.8L1910.9 1581.4L1913.0 1582.0L1915.1 1582.7L1917.2 1583.3L1919.2 1584.0L1921.3 1584.6L1923.4 1585.3L1925.5 1585.9L1927.6 1586.5L1929.7 1587.2L1931.7 1587.8L1933.8 1588.5L1935.9 1589.1L1938.0 1589.8L1940.1 1590.5L1942.2 1591.1L1944.2 1591.8L1946.3 1592.4L1948.4 1593.1L1950.5 1593.7L1952.6 1594.4L1954.6 1595.1L1956.7 1595.7L1958.8 1596.4L1960.9 1597.1L1963.0 1597.8L1965.1 1598.4L1967.1 1599.1L1969.2 1599.8L1971.3 1600.5L1973.4 1601.2L1975.5 1601.8L1977.5 1602.5L1979.6 1603.2L1981.7 1603.9L1983.8 1604.5L1985.9 1605.2L1988.0 1605.9L1990.0 1606.5L1992.1 1607.2L1994.2 1607.9L1996.3 1608.6L1998.4 1609.3L2000.5 1610.0L2002.5 1610.7L2004.6 1611.4L2006.7 1612.1L2008.8 1612.8L2010.9 1613.6L2012.9 1614.3L2015.0 1615.1L2017.1 1615.8L2019.2 1616.6L2021.3 1617.4L2023.4 1618.2L2025.4 1619.0L2027.5 1619.8L2029.6 1620.6L2031.7 1621.5L2033.8 1622.3L2035.9 1623.1L2037.9 1623.9L2040.0 1624.7L2042.1 1625.6L2044.2 1626.4L2046.3 1627.2L2048.3 1628.1L2050.4 1629.0L2052.5 1629.9L2054.6 1630.8L2056.7 1631.7L2058.8 1632.7L2060.8 1633.6L2062.9 1634.6L2065.0 1635.7L2067.1 1636.8L2069.2 1637.9L2071.2 1639.0L2073.3 1640.2L2075.4 1641.5L2077.5 1642.7L2079.6 1644.1L2081.7 1645.4L2083.7 1646.9L2085.8 1648.6L2087.9 1650.5L2090.0 1652.5L2092.1 1654.7L2094.2 1656.9L2096.2 1659.3L2098.3 1661.9L2100.4 1664.7" fill="none" stroke="#10A860" stroke-width="4.6" stroke-dasharray="27.5 14 6.2 14" />
<path d="M1269.6 1541.9L1271.7 1542.5L1273.8 1543.0L1275.8 1543.6L1277.9 1544.1L1280.0 1544.7L1282.1 1545.2L1284.2 1545.7L1286.3 1546.3L1288.3 1546.8L1290.4 1547.4L1292.5 1547.9L1294.6 1548.5L1296.7 1549.0L1298.8 1549.6L1300.8 1550.1L1302.9 1550.7L1305.0 1551.2L1307.1 1551.8L1309.2 1552.3L1311.2 1552.9L1313.3 1553.5L1315.4 1554.0L1317.5 1554.6L1319.6 1555.1L1321.7 1555.7L1323.7 1556.3L1325.8 1556.8L1327.9 1557.4L1330.0 1558.0L1332.1 1558.5L1334.1 1559.1L1336.2 1559.7L1338.3 1560.2L1340.4 1560.8L1342.5 1561.4L1344.6 1561.9L1346.6 1562.5L1348.7 1563.1L1350.8 1563.7L1352.9 1564.2L1355.0 1564.8L1357.1 1565.4L1359.1 1566.0L1361.2 1566.5L1363.3 1567.1L1365.4 1567.7L1367.5 1568.3L1369.5 1568.9L1371.6 1569.5L1373.7 1570.0L1375.8 1570.6L1377.9 1571.2L1380.0 1571.8L1382.0 1572.4L1384.1 1573.0L1386.2 1573.6L1388.3 1574.2L1390.4 1574.8L1392.5 1575.4L1394.5 1576.0L1396.6 1576.6L1398.7 1577.2L1400.8 1577.8L1402.9 1578.4L1404.9 1579.0L1407.0 1579.6L1409.1 1580.2L1411.2 1580.8L1413.3 1581.4L1415.4 1582.0L1417.4 1582.6L1419.5 1583.2L1421.6 1583.9L1423.7 1584.5L1425.8 1585.1L1427.8 1585.7L1429.9 1586.3L1432.0 1586.9L1434.1 1587.5L1436.2 1588.2L1438.3 1588.8L1440.3 1589.4L1442.4 1590.0L1444.5 1590.6L1446.6 1591.2L1448.7 1591.9L1450.8 1592.5L1452.8 1593.1L1454.9 1593.7L1457.0 1594.4L1459.1 1595.0L1461.2 1595.6L1463.2 1596.2L1465.3 1596.8L1467.4 1597.5L1469.5 1598.1L1471.6 1598.7L1473.7 1599.3L1475.7 1599.9L1477.8 1600.6L1479.9 1601.2L1482.0 1601.8L1484.1 1602.4L1486.1 1603.1L1488.2 1603.7L1490.3 1604.3L1492.4 1604.9L1494.5 1605.5L1496.6 1606.2L1498.6 1606.8L1500.7 1607.4L1502.8 1608.0L1504.9 1608.7L1507.0 1609.3L1509.1 1609.9L1511.1 1610.5L1513.2 1611.2L1515.3 1611.8L1517.4 1612.4L1519.5 1613.1L1521.5 1613.7L1523.6 1614.3L1525.7 1614.9L1527.8 1615.6L1529.9 1616.2L1532.0 1616.8L1534.0 1617.5L1536.1 1618.1L1538.2 1618.7L1540.3 1619.4L1542.4 1620.0L1544.5 1620.6L1546.5 1621.3L1548.6 1621.9L1550.7 1622.5L1552.8 1623.2L1554.9 1623.8L1556.9 1624.4L1559.0 1625.1L1561.1 1625.7L1563.2 1626.3L1565.3 1627.0L1567.4 1627.6L1569.4 1628.2L1571.5 1628.9L1573.6 1629.5L1575.7 1630.1L1577.8 1630.8L1579.8 1631.4L1581.9 1632.1L1584.0 1632.7L1586.1 1633.3L1588.2 1634.0L1590.3 1634.6L1592.3 1635.2L1594.4 1635.9L1596.5 1636.5L1598.6 1637.1L1600.7 1637.8L1602.8 1638.4L1604.8 1639.0L1606.9 1639.7L1609.0 1640.3L1611.1 1640.9L1613.2 1641.6L1615.2 1642.2L1617.3 1642.9L1619.4 1643.5L1621.5 1644.1L1623.6 1644.8L1625.7 1645.4L1627.7 1646.0L1629.8 1646.7L1631.9 1647.3L1634.0 1648.0L1636.1 1648.6L1638.2 1649.2L1640.2 1649.9L1642.3 1650.5L1644.4 1651.2L1646.5 1651.8L1648.6 1652.5L1650.6 1653.1L1652.7 1653.7L1654.8 1654.4L1656.9 1655.0L1659.0 1655.7L1661.1 1656.3L1663.1 1656.9L1665.2 1657.6L1667.3 1658.2L1669.4 1658.9L1671.5 1659.5L1673.5 1660.1L1675.6 1660.8L1677.7 1661.4L1679.8 1662.0L1681.9 1662.7L1684.0 1663.3L1686.0 1663.9L1688.1 1664.6L1690.2 1665.2L1692.3 1665.8L1694.4 1666.5L1696.5 1667.1L1698.5 1667.7L1700.6 1668.3L1702.7 1668.9L1704.8 1669.6L1706.9 1670.2L1708.9 1670.8L1711.0 1671.4L1713.1 1672.0L1715.2 1672.6L1717.3 1673.2L1719.4 1673.9L1721.4 1674.5L1723.5 1675.1L1725.6 1675.7L1727.7 1676.3L1729.8 1676.9L1731.8 1677.5L1733.9 1678.1L1736.0 1678.7L1738.1 1679.3L1740.2 1679.9L1742.3 1680.6L1744.3 1681.2L1746.4 1681.8L1748.5 1682.4L1749.8 1682.8L1749.8 1061.4L1750.6 1061.6L1752.7 1062.3L1754.8 1062.9L1756.8 1063.5L1758.9 1064.1L1761.0 1064.8L1763.1 1065.4L1765.2 1066.0L1767.2 1066.7L1769.3 1067.3L1771.4 1067.9L1773.5 1068.6L1775.6 1069.2L1777.7 1069.9L1779.7 1070.5L1781.8 1071.1L1783.9 1071.8L1786.0 1072.4L1788.1 1073.1L1790.2 1073.7L1792.2 1074.3L1794.3 1075.0L1796.4 1075.6L1798.5 1076.2L1800.6 1076.9L1802.6 1077.5L1804.7 1078.1L1806.8 1078.8L1808.9 1079.4L1811.0 1080.0L1813.1 1080.6L1815.1 1081.3L1817.2 1081.9L1819.3 1082.5L1821.4 1083.1L1823.5 1083.7L1825.5 1084.3L1827.6 1084.9L1829.7 1085.5L1831.8 1086.1L1833.9 1086.7L1836.0 1087.3L1838.0 1087.9L1840.1 1088.5L1842.2 1089.1L1844.3 1089.7L1846.4 1090.3L1848.5 1090.9L1850.5 1091.5L1852.6 1092.1L1854.7 1092.7L1856.8 1093.3L1858.9 1093.8L1860.9 1094.4L1863.0 1095.0L1865.1 1095.6L1867.2 1096.2L1869.3 1096.8L1871.4 1097.3L1873.4 1097.9L1875.5 1098.5L1877.6 1099.1L1879.7 1099.7L1881.8 1100.3L1883.9 1100.8L1885.9 1101.4L1888.0 1102.0L1890.1 1102.6L1892.2 1103.2L1894.3 1103.8L1896.3 1104.4L1898.4 1104.9L1900.5 1105.5L1902.6 1106.1L1904.7 1106.7L1906.8 1107.3L1908.8 1107.9L1910.9 1108.5L1913.0 1109.1L1915.1 1109.7L1917.2 1110.3L1919.2 1110.8L1921.3 1111.4L1923.4 1112.0L1925.5 1112.6L1927.6 1113.2L1929.7 1113.9L1931.7 1114.5L1933.8 1115.1L1935.9 1115.7L1938.0 1116.3L1940.1 1116.9L1942.2 1117.5L1944.2 1118.1L1946.3 1118.7L1948.4 1119.3L1950.5 1120.0L1952.6 1120.6L1954.6 1121.2L1956.7 1121.8L1958.8 1122.4L1960.9 1123.0L1963.0 1123.7L1965.1 1124.3L1967.1 1124.9L1969.2 1125.5L1971.3 1126.1L1973.4 1126.8L1975.5 1127.4L1977.5 1128.0L1979.6 1128.6L1981.7 1129.2L1983.8 1129.9L1985.9 1130.5L1988.0 1131.1L1990.0 1131.7L1992.1 1132.4L1994.2 1133.0L1996.3 1133.6L1998.4 1134.3L2000.5 1134.9L2002.5 1135.5L2004.6 1136.1L2006.7 1136.8L2008.8 1137.4L2010.9 1138.0L2012.9 1138.7L2015.0 1139.3L2017.1 1140.0L2019.2 1140.6L2021.3 1141.2L2023.4 1141.9L2025.4 1142.5L2027.5 1143.2L2029.6 1143.8L2031.7 1144.5L2033.8 1145.1L2035.9 1145.8L2037.9 1146.4L2040.0 1147.1L2042.1 1147.7L2044.2 1148.4L2046.3 1149.0L2048.3 1149.7L2050.4 1150.3L2052.5 1151.0L2054.6 1151.7L2056.7 1152.3L2058.8 1153.0L2060.8 1153.7L2062.9 1154.3L2065.0 1155.0L2067.1 1155.7L2069.2 1156.4L2071.2 1157.1L2073.3 1157.8L2075.4 1158.5L2077.5 1159.2L2079.6 1159.8L2081.7 1160.5L2083.7 1161.2L2085.8 1161.9L2087.9 1162.6L2090.0 1163.3L2092.1 1164.0L2094.2 1164.7L2096.2 1165.3L2098.3 1166.0L2100.4 1166.7" fill="none" stroke="#D89A08" stroke-width="4.6" stroke-dasharray="27.5 14 6.2 14" />
<path d="M1269.6 1617.2L1271.7 1617.8L1273.8 1618.3L1275.8 1618.8L1277.9 1619.4L1280.0 1619.9L1282.1 1620.5L1284.2 1621.0L1286.3 1621.6L1288.3 1622.1L1290.4 1622.7L1292.5 1623.2L1294.6 1623.8L1296.7 1624.4L1298.8 1624.9L1300.8 1625.5L1302.9 1626.0L1305.0 1626.6L1307.1 1627.1L1309.2 1627.7L1311.2 1628.3L1313.3 1628.8L1315.4 1629.4L1317.5 1630.0L1319.6 1630.5L1321.7 1631.1L1323.7 1631.6L1325.8 1632.2L1327.9 1632.8L1330.0 1633.4L1332.1 1633.9L1334.1 1634.5L1336.2 1635.1L1338.3 1635.6L1340.4 1636.2L1342.5 1636.8L1344.6 1637.4L1346.6 1637.9L1348.7 1638.5L1350.8 1639.1L1352.9 1639.7L1355.0 1640.2L1357.1 1640.8L1359.1 1641.4L1361.2 1642.0L1363.3 1642.6L1365.4 1643.1L1367.5 1643.7L1369.5 1644.3L1371.6 1644.9L1373.7 1645.5L1375.8 1646.1L1377.9 1646.6L1380.0 1647.2L1382.0 1647.8L1384.1 1648.4L1386.2 1649.0L1388.3 1649.6L1390.4 1650.1L1392.5 1650.7L1394.5 1651.3L1396.6 1651.9L1398.7 1652.5L1400.8 1653.1L1402.9 1653.7L1404.9 1654.2L1407.0 1654.8L1409.1 1655.4L1411.2 1656.0L1413.3 1656.6L1415.4 1657.2L1417.4 1657.8L1419.5 1658.4L1421.6 1659.0L1423.7 1659.6L1425.8 1660.2L1427.8 1660.8L1429.9 1661.4L1432.0 1662.0L1434.1 1662.6L1436.2 1663.3L1438.3 1663.9L1440.3 1664.5L1442.4 1665.1L1444.5 1665.7L1446.6 1666.4L1448.7 1667.0L1450.8 1667.6L1452.8 1668.3L1454.9 1668.9L1457.0 1669.6L1459.1 1670.2L1461.2 1670.9L1463.2 1671.5L1465.3 1672.2L1467.4 1672.9L1469.5 1673.6L1471.6 1674.3L1473.7 1675.0L1475.7 1675.7L1477.8 1676.4L1479.9 1677.1L1482.0 1677.8L1484.1 1678.5L1486.1 1679.2L1488.2 1679.9L1490.3 1680.6L1492.4 1681.3L1494.5 1682.0L1496.6 1682.7L1496.8 1682.8L1496.8 1061.4L1498.6 1062.0L1500.7 1062.7L1502.8 1063.3L1504.9 1064.0L1507.0 1064.7L1509.1 1065.3L1511.1 1066.0L1513.2 1066.6L1515.3 1067.3L1517.4 1067.9L1519.5 1068.6L1521.5 1069.2L1523.6 1069.9L1525.7 1070.5L1527.8 1071.2L1529.9 1071.8L1532.0 1072.5L1534.0 1073.1L1536.1 1073.8L1538.2 1074.4L1540.3 1075.0L1542.4 1075.7L1544.5 1076.3L1546.5 1077.0L1548.6 1077.6L1550.7 1078.2L1552.8 1078.9L1554.9 1079.5L1556.9 1080.2L1559.0 1080.8L1561.1 1081.5L1563.2 1082.1L1565.3 1082.8L1567.4 1083.4L1569.4 1084.1L1571.5 1084.7L1573.6 1085.4L1575.7 1086.0L1577.8 1086.7L1579.8 1087.3L1581.9 1088.0L1584.0 1088.6L1586.1 1089.3L1588.2 1090.0L1590.3 1090.6L1592.3 1091.3L1594.4 1091.9L1596.5 1092.6L1598.6 1093.3L1600.7 1093.9L1602.8 1094.6L1604.8 1095.2L1606.9 1095.9L1609.0 1096.6L1611.1 1097.2L1613.2 1097.9L1615.2 1098.6L1617.3 1099.2L1619.4 1099.9L1621.5 1100.5L1623.6 1101.2L1625.7 1101.9L1627.7 1102.5L1629.8 1103.2L1631.9 1103.9L1634.0 1104.5L1636.1 1105.2L1638.2 1105.9L1640.2 1106.5L1642.3 1107.2L1644.4 1107.9L1646.5 1108.5L1648.6 1109.2L1650.6 1109.9L1652.7 1110.5L1654.8 1111.2L1656.9 1111.9L1659.0 1112.6L1661.1 1113.2L1663.1 1113.9L1665.2 1114.6L1667.3 1115.2L1669.4 1115.9L1671.5 1116.6L1673.5 1117.3L1675.6 1117.9L1677.7 1118.6L1679.8 1119.3L1681.9 1120.0L1684.0 1120.6L1686.0 1121.3L1688.1 1122.0L1690.2 1122.7L1692.3 1123.4L1694.4 1124.0L1696.5 1124.7L1698.5 1125.4L1700.6 1126.1L1702.7 1126.8L1704.8 1127.5L1706.9 1128.2L1708.9 1128.8L1711.0 1129.5L1713.1 1130.2L1715.2 1130.9L1717.3 1131.6L1719.4 1132.3L1721.4 1133.0L1723.5 1133.7L1725.6 1134.4L1727.7 1135.1L1729.8 1135.8L1731.8 1136.5L1733.9 1137.2L1736.0 1137.9L1738.1 1138.6L1740.2 1139.3L1742.3 1140.0L1744.3 1140.7L1746.4 1141.4L1748.5 1142.1L1750.6 1142.8L1752.7 1143.5L1754.8 1144.2L1756.8 1144.9L1758.9 1145.6L1761.0 1146.3L1763.1 1147.0L1765.2 1147.7L1767.2 1148.4L1769.3 1149.2L1771.4 1149.9L1773.5 1150.6L1775.6 1151.3L1777.7 1152.0L1779.7 1152.7L1781.8 1153.4L1783.9 1154.1L1786.0 1154.8L1788.1 1155.5L1790.2 1156.2L1792.2 1156.9L1794.3 1157.6L1796.4 1158.2L1798.5 1158.9L1800.6 1159.6L1802.6 1160.3L1804.7 1161.0L1806.8 1161.7L1808.9 1162.4L1811.0 1163.1L1813.1 1163.8L1815.1 1164.5L1817.2 1165.1L1819.3 1165.8L1821.4 1166.5L1823.5 1167.2L1825.5 1167.8L1827.6 1168.5L1829.7 1169.2L1831.8 1169.8L1833.9 1170.5L1836.0 1171.2L1838.0 1171.8L1840.1 1172.5L1842.2 1173.1L1844.3 1173.8L1846.4 1174.4L1848.5 1175.1L1850.5 1175.7L1852.6 1176.4L1854.7 1177.0L1856.8 1177.7L1858.9 1178.3L1860.9 1179.0L1863.0 1179.6L1865.1 1180.3L1867.2 1180.9L1869.3 1181.6L1871.4 1182.2L1873.4 1182.9L1875.5 1183.5L1877.6 1184.2L1879.7 1184.9L1881.8 1185.5L1883.9 1186.2L1885.9 1186.8L1888.0 1187.5L1890.1 1188.2L1892.2 1188.8L1894.3 1189.5L1896.3 1190.2L1898.4 1190.8L1900.5 1191.5L1902.6 1192.2L1904.7 1192.9L1906.8 1193.5L1908.8 1194.2L1910.9 1194.9L1913.0 1195.6L1915.1 1196.3L1917.2 1197.0L1919.2 1197.7L1921.3 1198.4L1923.4 1199.1L1925.5 1199.8L1927.6 1200.6L1929.7 1201.3L1931.7 1202.0L1933.8 1202.7L1935.9 1203.5L1938.0 1204.2L1940.1 1204.9L1942.2 1205.6L1944.2 1206.4L1946.3 1207.1L1948.4 1207.8L1950.5 1208.6L1952.6 1209.3L1954.6 1210.0L1956.7 1210.8L1958.8 1211.5L1960.9 1212.2L1963.0 1213.0L1965.1 1213.7L1967.1 1214.4L1969.2 1215.2L1971.3 1215.9L1973.4 1216.7L1975.5 1217.4L1977.5 1218.2L1979.6 1218.9L1981.7 1219.7L1983.8 1220.5L1985.9 1221.2L1988.0 1222.0L1990.0 1222.8L1992.1 1223.5L1994.2 1224.3L1996.3 1225.1L1998.4 1225.9L2000.5 1226.7L2002.5 1227.5L2004.6 1228.3L2006.7 1229.1L2008.8 1230.0L2010.9 1230.8L2012.9 1231.6L2015.0 1232.4L2017.1 1233.3L2019.2 1234.1L2021.3 1235.0L2023.4 1235.9L2025.4 1236.7L2027.5 1237.6L2029.6 1238.5L2031.7 1239.4L2033.8 1240.3L2035.9 1241.2L2037.9 1242.1L2040.0 1243.1L2042.1 1244.0L2044.2 1244.9L2046.3 1245.9L2048.3 1246.9L2050.4 1247.8L2052.5 1248.8L2054.6 1249.9L2056.7 1250.9L2058.8 1252.0L2060.8 1253.1L2062.9 1254.2L2065.0 1255.3L2067.1 1256.5L2069.2 1257.6L2071.2 1258.8L2073.3 1260.0L2075.4 1261.2L2077.5 1262.4L2079.6 1263.6L2081.7 1264.8L2083.7 1266.1L2085.8 1267.3L2087.9 1268.5L2090.0 1269.8L2092.1 1271.0L2094.2 1272.3L2096.2 1273.6L2098.3 1275.0L2100.4 1276.3" fill="none" stroke="#10CCCC" stroke-width="4.6" stroke-dasharray="27.5 14 6.2 14" />
<path d="M1269.6 1072.6L1271.7 1073.1L1273.8 1073.7L1275.8 1074.2L1277.9 1074.7L1280.0 1075.3L1282.1 1075.8L1284.2 1076.3L1286.3 1076.9L1288.3 1077.4L1290.4 1077.9L1292.5 1078.5L1294.6 1079.0L1296.7 1079.6L1298.8 1080.1L1300.8 1080.7L1302.9 1081.2L1305.0 1081.8L1307.1 1082.3L1309.2 1082.9L1311.2 1083.4L1313.3 1084.0L1315.4 1084.5L1317.5 1085.1L1319.6 1085.7L1321.7 1086.2L1323.7 1086.8L1325.8 1087.4L1327.9 1087.9L1330.0 1088.5L1332.1 1089.1L1334.1 1089.6L1336.2 1090.2L1338.3 1090.8L1340.4 1091.4L1342.5 1092.0L1344.6 1092.6L1346.6 1093.1L1348.7 1093.7L1350.8 1094.3L1352.9 1094.9L1355.0 1095.5L1357.1 1096.1L1359.1 1096.7L1361.2 1097.3L1363.3 1097.9L1365.4 1098.5L1367.5 1099.1L1369.5 1099.7L1371.6 1100.3L1373.7 1100.9L1375.8 1101.5L1377.9 1102.1L1380.0 1102.7L1382.0 1103.4L1384.1 1104.0L1386.2 1104.6L1388.3 1105.2L1390.4 1105.9L1392.5 1106.5L1394.5 1107.1L1396.6 1107.8L1398.7 1108.4L1400.8 1109.0L1402.9 1109.7L1404.9 1110.3L1407.0 1111.0L1409.1 1111.6L1411.2 1112.3L1413.3 1112.9L1415.4 1113.6L1417.4 1114.2L1419.5 1114.9L1421.6 1115.5L1423.7 1116.2L1425.8 1116.9L1427.8 1117.5L1429.9 1118.2L1432.0 1118.9L1434.1 1119.5L1436.2 1120.2L1438.3 1120.9L1440.3 1121.5L1442.4 1122.2L1444.5 1122.9L1446.6 1123.6L1448.7 1124.2L1450.8 1124.9L1452.8 1125.6L1454.9 1126.2L1457.0 1126.9L1459.1 1127.6L1461.2 1128.3L1463.2 1129.0L1465.3 1129.6L1467.4 1130.3L1469.5 1131.0L1471.6 1131.7L1473.7 1132.3L1475.7 1133.0L1477.8 1133.7L1479.9 1134.4L1482.0 1135.0L1484.1 1135.7L1486.1 1136.4L1488.2 1137.1L1490.3 1137.7L1492.4 1138.4L1494.5 1139.1L1496.6 1139.8L1498.6 1140.4L1500.7 1141.1L1502.8 1141.8L1504.9 1142.5L1507.0 1143.1L1509.1 1143.8L1511.1 1144.5L1513.2 1145.2L1515.3 1145.9L1517.4 1146.6L1519.5 1147.2L1521.5 1147.9L1523.6 1148.6L1525.7 1149.3L1527.8 1150.0L1529.9 1150.7L1532.0 1151.3L1534.0 1152.0L1536.1 1152.7L1538.2 1153.4L1540.3 1154.1L1542.4 1154.8L1544.5 1155.5L1546.5 1156.2L1548.6 1156.9L1550.7 1157.5L1552.8 1158.2L1554.9 1158.9L1556.9 1159.6L1559.0 1160.3L1561.1 1161.0L1563.2 1161.7L1565.3 1162.4L1567.4 1163.1L1569.4 1163.8L1571.5 1164.5L1573.6 1165.2L1575.7 1165.9L1577.8 1166.6L1579.8 1167.3L1581.9 1168.0L1584.0 1168.7L1586.1 1169.4L1588.2 1170.1L1590.3 1170.8L1592.3 1171.5L1594.4 1172.2L1596.5 1172.9L1598.6 1173.6L1600.7 1174.3L1602.8 1175.0L1604.8 1175.7L1606.9 1176.4L1609.0 1177.1L1611.1 1177.9L1613.2 1178.6L1615.2 1179.3L1617.3 1180.0L1619.4 1180.7L1621.5 1181.5L1623.6 1182.2L1625.7 1182.9L1627.7 1183.6L1629.8 1184.4L1631.9 1185.1L1634.0 1185.9L1636.1 1186.6L1638.2 1187.3L1640.2 1188.1L1642.3 1188.8L1644.4 1189.6L1646.5 1190.3L1648.6 1191.1L1650.6 1191.8L1652.7 1192.5L1654.8 1193.3L1656.9 1194.0L1659.0 1194.8L1661.1 1195.5L1663.1 1196.2L1665.2 1197.0L1667.3 1197.7L1669.4 1198.4L1671.5 1199.2L1673.5 1199.9L1675.6 1200.6L1677.7 1201.3L1679.8 1202.1L1681.9 1202.8L1684.0 1203.5L1686.0 1204.2L1688.1 1204.9L1690.2 1205.6L1692.3 1206.3L1694.4 1207.0L1696.5 1207.7L1698.5 1208.3L1700.6 1209.0L1702.7 1209.7L1704.8 1210.3L1706.9 1211.0L1708.9 1211.6L1711.0 1212.2L1713.1 1212.9L1715.2 1213.5L1717.3 1214.1L1719.4 1214.7L1721.4 1215.4L1723.5 1216.0L1725.6 1216.7L1727.7 1217.3L1729.8 1218.0L1731.8 1218.7L1733.9 1219.4L1736.0 1220.1L1738.1 1220.8L1740.2 1221.5L1742.3 1222.2L1744.3 1222.9L1746.4 1223.6L1748.5 1224.3L1750.6 1225.0L1752.7 1225.7L1754.8 1226.5L1756.8 1227.2L1758.9 1227.9L1761.0 1228.6L1763.1 1229.4L1765.2 1230.1L1767.2 1230.8L1769.3 1231.6L1771.4 1232.3L1773.5 1233.1L1775.6 1233.8L1777.7 1234.6L1779.7 1235.3L1781.8 1236.1L1783.9 1236.8L1786.0 1237.6L1788.1 1238.3L1790.2 1239.1L1792.2 1239.9L1794.3 1240.6L1796.4 1241.4L1798.5 1242.1L1800.6 1242.9L1802.6 1243.7L1804.7 1244.5L1806.8 1245.2L1808.9 1246.0L1811.0 1246.8L1813.1 1247.5L1815.1 1248.3L1817.2 1249.1L1819.3 1249.9L1821.4 1250.6L1823.5 1251.4L1825.5 1252.2L1827.6 1253.0L1829.7 1253.8L1831.8 1254.5L1833.9 1255.3L1836.0 1256.1L1838.0 1256.9L1840.1 1257.7L1842.2 1258.4L1844.3 1259.2L1846.4 1260.0L1848.5 1260.8L1850.5 1261.6L1852.6 1262.3L1854.7 1263.1L1856.8 1263.9L1858.9 1264.7L1860.9 1265.5L1863.0 1266.2L1865.1 1267.0L1867.2 1267.8L1869.3 1268.6L1871.4 1269.4L1873.4 1270.2L1875.5 1270.9L1877.6 1271.7L1879.7 1272.5L1881.8 1273.3L1883.9 1274.1L1885.9 1274.9L1888.0 1275.7L1890.1 1276.5L1892.2 1277.3L1894.3 1278.1L1896.3 1278.9L1898.4 1279.7L1900.5 1280.5L1902.6 1281.3L1904.7 1282.1L1906.8 1282.9L1908.8 1283.7L1910.9 1284.5L1913.0 1285.3L1915.1 1286.1L1917.2 1286.9L1919.2 1287.8L1921.3 1288.6L1923.4 1289.4L1925.5 1290.2L1927.6 1291.1L1929.7 1291.9L1931.7 1292.7L1933.8 1293.6L1935.9 1294.4L1938.0 1295.2L1940.1 1296.1L1942.2 1296.9L1944.2 1297.8L1946.3 1298.6L1948.4 1299.5L1950.5 1300.3L1952.6 1301.2L1954.6 1302.0L1956.7 1302.9L1958.8 1303.8L1960.9 1304.6L1963.0 1305.5L1965.1 1306.4L1967.1 1307.3L1969.2 1308.1L1971.3 1309.0L1973.4 1309.9L1975.5 1310.8L1977.5 1311.7L1979.6 1312.6L1981.7 1313.5L1983.8 1314.4L1985.9 1315.3L1988.0 1316.2L1990.0 1317.1L1992.1 1318.0L1994.2 1318.9L1996.3 1319.9L1998.4 1320.8L2000.5 1321.8L2002.5 1322.7L2004.6 1323.7L2006.7 1324.6L2008.8 1325.6L2010.9 1326.6L2012.9 1327.6L2015.0 1328.6L2017.1 1329.6L2019.2 1330.6L2021.3 1331.7L2023.4 1332.7L2025.4 1333.8L2027.5 1334.9L2029.6 1336.0L2031.7 1337.1L2033.8 1338.3L2035.9 1339.4L2037.9 1340.6L2040.0 1341.7L2042.1 1342.9L2044.2 1344.1L2046.3 1345.2L2048.3 1346.4L2050.4 1347.6L2052.5 1348.8L2054.6 1350.0L2056.7 1351.2L2058.8 1352.3L2060.8 1353.5L2062.9 1354.7L2065.0 1355.9L2067.1 1357.0L2069.2 1358.2L2071.2 1359.3L2073.3 1360.4L2075.4 1361.5L2077.5 1362.6L2079.6 1363.8L2081.7 1364.9L2083.7 1366.0L2085.8 1367.1L2087.9 1368.2L2090.0 1369.3L2092.1 1370.3L2094.2 1371.4L2096.2 1372.5L2098.3 1373.6L2100.4 1374.7" fill="none" stroke="#7C3A3A" stroke-width="4.6" stroke-dasharray="27.5 14 6.2 14" />
<path d="M1269.6 1463.6L1271.7 1464.1L1273.8 1464.7L1275.8 1465.3L1277.9 1465.8L1280.0 1466.4L1282.1 1466.9L1284.2 1467.5L1286.3 1468.0L1288.3 1468.6L1290.4 1469.2L1292.5 1469.7L1294.6 1470.3L1296.7 1470.8L1298.8 1471.4L1300.8 1472.0L1302.9 1472.5L1305.0 1473.1L1307.1 1473.7L1309.2 1474.2L1311.2 1474.8L1313.3 1475.4L1315.4 1475.9L1317.5 1476.5L1319.6 1477.1L1321.7 1477.6L1323.7 1478.2L1325.8 1478.8L1327.9 1479.3L1330.0 1479.9L1332.1 1480.5L1334.1 1481.1L1336.2 1481.6L1338.3 1482.2L1340.4 1482.8L1342.5 1483.4L1344.6 1483.9L1346.6 1484.5L1348.7 1485.1L1350.8 1485.7L1352.9 1486.2L1355.0 1486.8L1357.1 1487.4L1359.1 1488.0L1361.2 1488.5L1363.3 1489.1L1365.4 1489.7L1367.5 1490.3L1369.5 1490.9L1371.6 1491.4L1373.7 1492.0L1375.8 1492.6L1377.9 1493.2L1380.0 1493.8L1382.0 1494.4L1384.1 1494.9L1386.2 1495.5L1388.3 1496.1L1390.4 1496.7L1392.5 1497.3L1394.5 1497.9L1396.6 1498.5L1398.7 1499.0L1400.8 1499.6L1402.9 1500.2L1404.9 1500.8L1407.0 1501.4L1409.1 1502.0L1411.2 1502.6L1413.3 1503.2L1415.4 1503.8L1417.4 1504.4L1419.5 1505.0L1421.6 1505.5L1423.7 1506.1L1425.8 1506.7L1427.8 1507.3L1429.9 1507.9L1432.0 1508.5L1434.1 1509.1L1436.2 1509.7L1438.3 1510.3L1440.3 1510.9L1442.4 1511.5L1444.5 1512.1L1446.6 1512.7L1448.7 1513.3L1450.8 1513.9L1452.8 1514.5L1454.9 1515.1L1457.0 1515.7L1459.1 1516.3L1461.2 1516.9L1463.2 1517.5L1465.3 1518.1L1467.4 1518.7L1469.5 1519.3L1471.6 1519.9L1473.7 1520.5L1475.7 1521.1L1477.8 1521.8L1479.9 1522.4L1482.0 1523.0L1484.1 1523.6L1486.1 1524.2L1488.2 1524.8L1490.3 1525.4L1492.4 1526.0L1494.5 1526.6L1496.6 1527.2L1498.6 1527.8L1500.7 1528.5L1502.8 1529.1L1504.9 1529.7L1507.0 1530.3L1509.1 1530.9L1511.1 1531.6L1513.2 1532.2L1515.3 1532.8L1517.4 1533.4L1519.5 1534.1L1521.5 1534.7L1523.6 1535.3L1525.7 1536.0L1527.8 1536.6L1529.9 1537.2L1532.0 1537.9L1534.0 1538.5L1536.1 1539.1L1538.2 1539.8L1540.3 1540.4L1542.4 1541.1L1544.5 1541.7L1546.5 1542.3L1548.6 1543.0L1550.7 1543.6L1552.8 1544.3L1554.9 1544.9L1556.9 1545.6L1559.0 1546.2L1561.1 1546.8L1563.2 1547.5L1565.3 1548.1L1567.4 1548.8L1569.4 1549.4L1571.5 1550.1L1573.6 1550.7L1575.7 1551.4L1577.8 1552.0L1579.8 1552.7L1581.9 1553.3L1584.0 1554.0L1586.1 1554.6L1588.2 1555.3L1590.3 1555.9L1592.3 1556.6L1594.4 1557.2L1596.5 1557.9L1598.6 1558.5L1600.7 1559.2L1602.8 1559.8L1604.8 1560.5L1606.9 1561.1L1609.0 1561.8L1611.1 1562.4L1613.2 1563.1L1615.2 1563.8L1617.3 1564.4L1619.4 1565.1L1621.5 1565.7L1623.6 1566.3L1625.7 1567.0L1627.7 1567.6L1629.8 1568.3L1631.9 1568.9L1634.0 1569.6L1636.1 1570.2L1638.2 1570.9L1640.2 1571.5L1642.3 1572.2L1644.4 1572.8L1646.5 1573.5L1648.6 1574.1L1650.6 1574.7L1652.7 1575.4L1654.8 1576.0L1656.9 1576.7L1659.0 1577.3L1661.1 1577.9L1663.1 1578.6L1665.2 1579.2L1667.3 1579.8L1669.4 1580.5L1671.5 1581.1L1673.5 1581.7L1675.6 1582.3L1677.7 1583.0L1679.8 1583.6L1681.9 1584.2L1684.0 1584.8L1686.0 1585.5L1688.1 1586.1L1690.2 1586.7L1692.3 1587.3L1694.4 1587.9L1696.5 1588.6L1698.5 1589.2L1700.6 1589.8L1702.7 1590.4L1704.8 1591.0L1706.9 1591.6L1708.9 1592.2L1711.0 1592.8L1713.1 1593.4L1715.2 1594.0L1717.3 1594.6L1719.4 1595.2L1721.4 1595.8L1723.5 1596.4L1725.6 1597.0L1727.7 1597.6L1729.8 1598.2L1731.8 1598.8L1733.9 1599.4L1736.0 1600.0L1738.1 1600.6L1740.2 1601.2L1742.3 1601.8L1744.3 1602.3L1746.4 1602.9L1748.5 1603.5L1750.6 1604.1L1752.7 1604.7L1754.8 1605.3L1756.8 1605.9L1758.9 1606.4L1761.0 1607.0L1763.1 1607.6L1765.2 1608.2L1767.2 1608.8L1769.3 1609.4L1771.4 1609.9L1773.5 1610.5L1775.6 1611.1L1777.7 1611.7L1779.7 1612.3L1781.8 1612.8L1783.9 1613.4L1786.0 1614.0L1788.1 1614.6L1790.2 1615.2L1792.2 1615.7L1794.3 1616.3L1796.4 1616.9L1798.5 1617.5L1800.6 1618.1L1802.6 1618.7L1804.7 1619.2L1806.8 1619.8L1808.9 1620.4L1811.0 1621.0L1813.1 1621.6L1815.1 1622.2L1817.2 1622.7L1819.3 1623.3L1821.4 1623.9L1823.5 1624.5L1825.5 1625.1L1827.6 1625.7L1829.7 1626.3L1831.8 1626.9L1833.9 1627.4L1836.0 1628.0L1838.0 1628.6L1840.1 1629.2L1842.2 1629.8L1844.3 1630.4L1846.4 1631.0L1848.5 1631.6L1850.5 1632.2L1852.6 1632.8L1854.7 1633.4L1856.8 1634.0L1858.9 1634.6L1860.9 1635.2L1863.0 1635.8L1865.1 1636.4L1867.2 1637.0L1869.3 1637.6L1871.4 1638.2L1873.4 1638.9L1875.5 1639.5L1877.6 1640.1L1879.7 1640.7L1881.8 1641.3L1883.9 1641.9L1885.9 1642.5L1888.0 1643.1L1890.1 1643.8L1892.2 1644.4L1894.3 1645.0L1896.3 1645.6L1898.4 1646.2L1900.5 1646.8L1902.6 1647.5L1904.7 1648.1L1906.8 1648.7L1908.8 1649.3L1910.9 1649.9L1913.0 1650.6L1915.1 1651.2L1917.2 1651.8L1919.2 1652.4L1921.3 1653.0L1923.4 1653.7L1925.5 1654.3L1927.6 1654.9L1929.7 1655.5L1931.7 1656.1L1933.8 1656.8L1935.9 1657.4L1938.0 1658.0L1940.1 1658.6L1942.2 1659.2L1944.2 1659.8L1946.3 1660.5L1948.4 1661.1L1950.5 1661.7L1952.6 1662.3L1954.6 1662.9L1956.7 1663.5L1958.8 1664.2L1960.9 1664.8L1963.0 1665.4L1965.1 1666.0L1967.1 1666.6L1969.2 1667.2L1971.3 1667.8L1973.4 1668.4L1975.5 1669.1L1977.5 1669.7L1979.6 1670.3L1981.7 1670.9L1983.8 1671.5L1985.9 1672.1L1988.0 1672.7L1990.0 1673.3L1992.1 1673.9L1994.2 1674.5L1996.3 1675.1L1998.4 1675.7L2000.5 1676.3L2002.5 1676.9L2004.6 1677.5L2006.7 1678.1L2008.8 1678.7L2010.9 1679.2L2012.9 1679.8L2015.0 1680.4L2017.1 1681.0L2019.2 1681.6L2021.3 1682.2L2023.4 1682.7L2023.6 1682.8L2023.6 1061.4L2025.4 1061.9L2027.5 1062.5L2029.6 1063.1L2031.7 1063.6L2033.8 1064.2L2035.9 1064.7L2037.9 1065.3L2040.0 1065.8L2042.1 1066.4L2044.2 1066.9L2046.3 1067.5L2048.3 1068.0L2050.4 1068.5L2052.5 1069.1L2054.6 1069.6L2056.7 1070.1L2058.8 1070.7L2060.8 1071.2L2062.9 1071.8L2065.0 1072.3L2067.1 1072.8L2069.2 1073.4L2071.2 1073.9L2073.3 1074.5L2075.4 1075.0L2077.5 1075.6L2079.6 1076.2L2081.7 1076.7L2083.7 1077.3L2085.8 1077.9L2087.9 1078.4L2090.0 1079.0L2092.1 1079.6L2094.2 1080.2L2096.2 1080.8L2098.3 1081.5L2100.4 1082.1" fill="none" stroke="#C07AE0" stroke-width="4.5"  />
</g>
<rect x="1269.6" y="1061.4" width="830.8000000000002" height="621.3999999999999" fill="none" stroke="#000" stroke-width="7.2"/><line x1="1269.6" y1="1685.4" x2="1269.6" y2="1695.4" stroke="#000" stroke-width="7" /><line x1="1269.6" y1="1064.0" x2="1269.6" y2="1072.0" stroke="#000" stroke-width="7" /><line x1="1477.3" y1="1685.4" x2="1477.3" y2="1695.4" stroke="#000" stroke-width="7" /><line x1="1477.3" y1="1064.0" x2="1477.3" y2="1072.0" stroke="#000" stroke-width="7" /><line x1="1685.0" y1="1685.4" x2="1685.0" y2="1695.4" stroke="#000" stroke-width="7" /><line x1="1685.0" y1="1064.0" x2="1685.0" y2="1072.0" stroke="#000" stroke-width="7" /><line x1="1892.7" y1="1685.4" x2="1892.7" y2="1695.4" stroke="#000" stroke-width="7" /><line x1="1892.7" y1="1064.0" x2="1892.7" y2="1072.0" stroke="#000" stroke-width="7" /><line x1="2100.4" y1="1685.4" x2="2100.4" y2="1695.4" stroke="#000" stroke-width="7" /><line x1="2100.4" y1="1064.0" x2="2100.4" y2="1072.0" stroke="#000" stroke-width="7" /><line x1="1373.4" y1="1685.4" x2="1373.4" y2="1690.4" stroke="#000" stroke-width="6" /><line x1="1373.4" y1="1064.0" x2="1373.4" y2="1068.0" stroke="#000" stroke-width="6" /><line x1="1581.2" y1="1685.4" x2="1581.2" y2="1690.4" stroke="#000" stroke-width="6" /><line x1="1581.2" y1="1064.0" x2="1581.2" y2="1068.0" stroke="#000" stroke-width="6" /><line x1="1788.8" y1="1685.4" x2="1788.8" y2="1690.4" stroke="#000" stroke-width="6" /><line x1="1788.8" y1="1064.0" x2="1788.8" y2="1068.0" stroke="#000" stroke-width="6" /><line x1="1996.6" y1="1685.4" x2="1996.6" y2="1690.4" stroke="#000" stroke-width="6" /><line x1="1996.6" y1="1064.0" x2="1996.6" y2="1068.0" stroke="#000" stroke-width="6" /><line x1="1267.0" y1="1682.8" x2="1256.0" y2="1682.8" stroke="#000" stroke-width="7" /><line x1="2097.8" y1="1682.8" x2="2088.8" y2="1682.8" stroke="#000" stroke-width="7" /><line x1="1267.0" y1="1579.2" x2="1256.0" y2="1579.2" stroke="#000" stroke-width="7" /><line x1="2097.8" y1="1579.2" x2="2088.8" y2="1579.2" stroke="#000" stroke-width="7" /><line x1="1267.0" y1="1475.7" x2="1256.0" y2="1475.7" stroke="#000" stroke-width="7" /><line x1="2097.8" y1="1475.7" x2="2088.8" y2="1475.7" stroke="#000" stroke-width="7" /><line x1="1267.0" y1="1372.1" x2="1256.0" y2="1372.1" stroke="#000" stroke-width="7" /><line x1="2097.8" y1="1372.1" x2="2088.8" y2="1372.1" stroke="#000" stroke-width="7" /><line x1="1267.0" y1="1268.5" x2="1256.0" y2="1268.5" stroke="#000" stroke-width="7" /><line x1="2097.8" y1="1268.5" x2="2088.8" y2="1268.5" stroke="#000" stroke-width="7" /><line x1="1267.0" y1="1165.0" x2="1256.0" y2="1165.0" stroke="#000" stroke-width="7" /><line x1="2097.8" y1="1165.0" x2="2088.8" y2="1165.0" stroke="#000" stroke-width="7" /><line x1="1267.0" y1="1061.4" x2="1256.0" y2="1061.4" stroke="#000" stroke-width="7" /><line x1="2097.8" y1="1061.4" x2="2088.8" y2="1061.4" stroke="#000" stroke-width="7" /><line x1="1267.0" y1="1631.0" x2="1262.0" y2="1631.0" stroke="#000" stroke-width="6" /><line x1="2097.8" y1="1631.0" x2="2093.3" y2="1631.0" stroke="#000" stroke-width="6" /><line x1="1267.0" y1="1527.5" x2="1262.0" y2="1527.5" stroke="#000" stroke-width="6" /><line x1="2097.8" y1="1527.5" x2="2093.3" y2="1527.5" stroke="#000" stroke-width="6" /><line x1="1267.0" y1="1423.9" x2="1262.0" y2="1423.9" stroke="#000" stroke-width="6" /><line x1="2097.8" y1="1423.9" x2="2093.3" y2="1423.9" stroke="#000" stroke-width="6" /><line x1="1267.0" y1="1320.3" x2="1262.0" y2="1320.3" stroke="#000" stroke-width="6" /><line x1="2097.8" y1="1320.3" x2="2093.3" y2="1320.3" stroke="#000" stroke-width="6" /><line x1="1267.0" y1="1216.8" x2="1262.0" y2="1216.8" stroke="#000" stroke-width="6" /><line x1="2097.8" y1="1216.8" x2="2093.3" y2="1216.8" stroke="#000" stroke-width="6" /><line x1="1267.0" y1="1113.2" x2="1262.0" y2="1113.2" stroke="#000" stroke-width="6" /><line x1="2097.8" y1="1113.2" x2="2093.3" y2="1113.2" stroke="#000" stroke-width="6" />
<rect x="1696.7" y="1057.8" width="68.9" height="628.6" fill="rgba(0,170,221,0.33)"/>
<text transform="matrix(0.5200 0 0 0.5200 1236.58 1743.56)" font-size="100" font-weight="bold" fill="#000" >7.5</text>
<text transform="matrix(0.5200 0 0 0.5200 1444.93 1744.08)" font-size="100" font-weight="bold" fill="#000" >8.0</text>
<text transform="matrix(0.5200 0 0 0.5200 1652.50 1744.08)" font-size="100" font-weight="bold" fill="#000" >8.5</text>
<text transform="matrix(0.5200 0 0 0.5200 1860.59 1744.08)" font-size="100" font-weight="bold" fill="#000" >9.0</text>
<text transform="matrix(0.5200 0 0 0.5200 2068.16 1743.82)" font-size="100" font-weight="bold" fill="#000" >9.5</text>
<text transform="matrix(0.5200 0 0 0.5200 1220.88 1698.83)" font-size="100" font-weight="bold" fill="#000" >0</text>
<text transform="matrix(0.5200 0 0 0.5200 1194.88 1595.26)" font-size="100" font-weight="bold" fill="#000" >60</text>
<text transform="matrix(0.5200 0 0 0.5200 1168.88 1491.70)" font-size="100" font-weight="bold" fill="#000" >120</text>
<text transform="matrix(0.5200 0 0 0.5200 1168.88 1388.13)" font-size="100" font-weight="bold" fill="#000" >180</text>
<text transform="matrix(0.5200 0 0 0.5200 1168.88 1284.56)" font-size="100" font-weight="bold" fill="#000" >240</text>
<text transform="matrix(0.5200 0 0 0.5200 1168.88 1181.00)" font-size="100" font-weight="bold" fill="#000" >300</text>
<text transform="matrix(0.5200 0 0 0.5200 1168.88 1077.43)" font-size="100" font-weight="bold" fill="#000" >360</text>
<text transform="matrix(0.5918 0 0 0.5703 1483.11 1786.34)" font-size="100" font-weight="bold" fill="#000" >Frequency (GHz)</text>
<g transform="translate(1096.3 1537) rotate(-90)"><text transform="matrix(0.5822 0 0 0.5803 -0.87 40.33)" font-size="100" font-weight="bold" fill="#000" >Phase (degree)</text></g>
<path d="M241.6 2267.0L246.6 2257.5L251.5 2248.2L256.5 2239.1L261.5 2230.1L266.4 2221.2L271.4 2212.5L276.4 2204.0L281.3 2195.6L286.3 2187.3L291.3 2179.3L296.2 2171.4L301.2 2163.7L306.2 2156.2L311.1 2149.0L316.1 2141.9L321.1 2135.0L326.0 2128.3L331.0 2121.8L336.0 2115.6L340.9 2109.6L345.9 2103.8L350.9 2098.2L355.8 2092.6L360.8 2087.2L365.8 2081.8L370.7 2076.6L375.7 2071.5L380.7 2066.6L385.7 2061.7L390.6 2057.0L395.6 2052.4L400.6 2048.0L405.5 2043.7L410.5 2039.5L415.5 2035.5L420.4 2031.6L425.4 2027.9L430.4 2024.3L435.3 2020.9L440.3 2017.7L445.3 2014.6L450.2 2011.5L455.2 2008.5L460.2 2005.5L465.1 2002.7L470.1 1999.9L475.1 1997.2L480.0 1994.5L485.0 1992.0L490.0 1989.5L494.9 1987.1L499.9 1984.8L504.9 1982.5L509.8 1980.4L514.8 1978.3L519.8 1976.3L524.7 1974.4L529.7 1972.6L534.7 1970.9L539.6 1969.2L544.6 1967.6L549.6 1966.0L554.5 1964.4L559.5 1962.9L564.5 1961.4L569.4 1959.9L574.4 1958.5L579.4 1957.1L584.3 1955.8L589.3 1954.5L594.3 1953.3L599.2 1952.1L604.2 1951.0L609.2 1949.9L614.1 1949.0L619.1 1948.1L624.1 1947.3L629.0 1946.5L634.0 1945.9L639.0 1945.3L644.0 1944.8L648.9 1944.3L653.9 1943.8L658.9 1943.3L663.8 1942.9L668.8 1942.4L673.8 1942.0L678.7 1941.6L683.7 1941.2L688.7 1940.9L693.6 1940.6L698.6 1940.3L703.6 1940.0L708.5 1939.7L713.5 1939.5L718.5 1939.3L723.4 1939.2L728.4 1939.0L733.4 1938.9L738.3 1938.8L743.3 1938.7L748.3 1938.5L753.2 1938.4L758.2 1938.3L763.2 1938.2L768.1 1938.1L773.1 1938.0L778.1 1937.9L783.0 1937.8L788.0 1937.8L793.0 1937.7L797.9 1937.6L802.9 1937.6L807.9 1937.5L812.8 1937.5L817.8 1937.5L822.8 1937.4L827.7 1937.4L832.7 1937.4L837.7 1937.4L842.6 1937.4L847.6 1937.5L852.6 1937.6L857.5 1937.7L862.5 1937.8L867.5 1937.9L872.4 1938.0L877.4 1938.2L882.4 1938.4L887.3 1938.6L892.3 1938.8L897.3 1939.0L902.3 1939.2L907.2 1939.4L912.2 1939.7L917.2 1939.9L922.1 1940.1L927.1 1940.4L932.1 1940.7L937.0 1940.9L942.0 1941.2L947.0 1941.6L951.9 1942.0L956.9 1942.4L961.9 1942.9L966.8 1943.4L971.8 1943.9L976.8 1944.5L981.7 1945.1L986.7 1945.7L991.7 1946.3L996.6 1947.0L1001.6 1947.7L1006.6 1948.4L1011.5 1949.1L1016.5 1949.9L1021.5 1950.6L1026.4 1951.4L1031.4 1952.2" fill="none" stroke="#C07AE0" stroke-width="4"  />
<path d="M241.6 2058.9L246.6 2055.2L251.5 2051.6L256.5 2048.0L261.5 2044.5L266.4 2041.0L271.4 2037.5L276.4 2034.1L281.3 2030.7L286.3 2027.4L291.3 2024.1L296.2 2020.9L301.2 2017.7L306.2 2014.5L311.1 2011.4L316.1 2008.3L321.1 2005.3L326.0 2002.3L331.0 1999.4L336.0 1996.5L340.9 1993.7L345.9 1990.9L350.9 1988.1L355.8 1985.3L360.8 1982.5L365.8 1979.7L370.7 1977.0L375.7 1974.3L380.7 1971.6L385.7 1968.9L390.6 1966.3L395.6 1963.8L400.6 1961.3L405.5 1958.9L410.5 1956.6L415.5 1954.4L420.4 1952.3L425.4 1950.3L430.4 1948.4L435.3 1946.6L440.3 1945.0L445.3 1943.3L450.2 1941.8L455.2 1940.2L460.2 1938.6L465.1 1937.1L470.1 1935.7L475.1 1934.2L480.0 1932.8L485.0 1931.5L490.0 1930.2L494.9 1929.0L499.9 1927.8L504.9 1926.7L509.8 1925.7L514.8 1924.7L519.8 1923.8L524.7 1923.0L529.7 1922.3L534.7 1921.7L539.6 1921.2L544.6 1920.7L549.6 1920.2L554.5 1919.7L559.5 1919.3L564.5 1918.8L569.4 1918.4L574.4 1918.0L579.4 1917.6L584.3 1917.2L589.3 1916.8L594.3 1916.5L599.2 1916.2L604.2 1915.9L609.2 1915.7L614.1 1915.5L619.1 1915.3L624.1 1915.2L629.0 1915.1L634.0 1915.1L639.0 1915.1L644.0 1915.1L648.9 1915.1L653.9 1915.2L658.9 1915.2L663.8 1915.3L668.8 1915.4L673.8 1915.5L678.7 1915.6L683.7 1915.7L688.7 1915.9L693.6 1916.0L698.6 1916.1L703.6 1916.3L708.5 1916.4L713.5 1916.6L718.5 1916.7L723.4 1916.9L728.4 1917.0L733.4 1917.2L738.3 1917.4L743.3 1917.6L748.3 1917.8L753.2 1918.0L758.2 1918.3L763.2 1918.6L768.1 1918.9L773.1 1919.2L778.1 1919.5L783.0 1919.8L788.0 1920.1L793.0 1920.4L797.9 1920.7L802.9 1921.0L807.9 1921.3L812.8 1921.6L817.8 1921.8L822.8 1922.1L827.7 1922.4L832.7 1922.6L837.7 1922.8L842.6 1923.0L847.6 1923.2L852.6 1923.4L857.5 1923.6L862.5 1923.8L867.5 1924.0L872.4 1924.2L877.4 1924.4L882.4 1924.5L887.3 1924.7L892.3 1924.9L897.3 1925.1L902.3 1925.3L907.2 1925.4L912.2 1925.6L917.2 1925.8L922.1 1926.0L927.1 1926.2L932.1 1926.4L937.0 1926.6L942.0 1926.8L947.0 1927.0L951.9 1927.3L956.9 1927.5L961.9 1927.7L966.8 1927.9L971.8 1928.1L976.8 1928.4L981.7 1928.6L986.7 1928.8L991.7 1929.1L996.6 1929.3L1001.6 1929.5L1006.6 1929.8L1011.5 1930.0L1016.5 1930.2L1021.5 1930.5L1026.4 1930.7L1031.4 1931.0" fill="none" stroke="#4A4A4A" stroke-width="4" stroke-dasharray="27.5 14 6.2 14" stroke-dashoffset="0"/>
<path d="M241.6 2077.8L246.6 2073.7L251.5 2069.7L256.5 2065.7L261.5 2061.8L266.4 2057.9L271.4 2054.0L276.4 2050.2L281.3 2046.4L286.3 2042.7L291.3 2039.1L296.2 2035.4L301.2 2031.9L306.2 2028.4L311.1 2024.9L316.1 2021.5L321.1 2018.1L326.0 2014.8L331.0 2011.5L336.0 2008.3L340.9 2005.2L345.9 2002.1L350.9 1999.0L355.8 1995.9L360.8 1992.9L365.8 1989.8L370.7 1986.8L375.7 1983.8L380.7 1980.8L385.7 1977.9L390.6 1975.0L395.6 1972.2L400.6 1969.5L405.5 1966.9L410.5 1964.3L415.5 1961.8L420.4 1959.5L425.4 1957.2L430.4 1955.1L435.3 1953.1L440.3 1951.2L445.3 1949.4L450.2 1947.6L455.2 1945.8L460.2 1944.1L465.1 1942.4L470.1 1940.7L475.1 1939.1L480.0 1937.6L485.0 1936.1L490.0 1934.6L494.9 1933.2L499.9 1931.9L504.9 1930.6L509.8 1929.4L514.8 1928.2L519.8 1927.2L524.7 1926.2L529.7 1925.2L534.7 1924.4L539.6 1923.6L544.6 1922.9L549.6 1922.1L554.5 1921.4L559.5 1920.7L564.5 1920.0L569.4 1919.3L574.4 1918.6L579.4 1918.0L584.3 1917.3L589.3 1916.8L594.3 1916.2L599.2 1915.7L604.2 1915.3L609.2 1914.9L614.1 1914.6L619.1 1914.3L624.1 1914.1L629.0 1913.9L634.0 1913.8L639.0 1913.8L644.0 1913.8L648.9 1913.9L653.9 1913.9L658.9 1914.0L663.8 1914.1L668.8 1914.2L673.8 1914.3L678.7 1914.4L683.7 1914.5L688.7 1914.6L693.6 1914.7L698.6 1914.9L703.6 1915.0L708.5 1915.2L713.5 1915.3L718.5 1915.5L723.4 1915.6L728.4 1915.7L733.4 1915.9L738.3 1916.1L743.3 1916.3L748.3 1916.5L753.2 1916.8L758.2 1917.0L763.2 1917.3L768.1 1917.6L773.1 1917.9L778.1 1918.2L783.0 1918.5L788.0 1918.8L793.0 1919.1L797.9 1919.4L802.9 1919.7L807.9 1920.0L812.8 1920.3L817.8 1920.6L822.8 1920.8L827.7 1921.1L832.7 1921.3L837.7 1921.6L842.6 1921.8L847.6 1922.0L852.6 1922.2L857.5 1922.4L862.5 1922.6L867.5 1922.8L872.4 1923.0L877.4 1923.1L882.4 1923.3L887.3 1923.5L892.3 1923.7L897.3 1923.9L902.3 1924.0L907.2 1924.2L912.2 1924.4L917.2 1924.6L922.1 1924.8L927.1 1925.0L932.1 1925.2L937.0 1925.3L942.0 1925.5L947.0 1925.7L951.9 1925.9L956.9 1926.1L961.9 1926.3L966.8 1926.5L971.8 1926.7L976.8 1926.9L981.7 1927.1L986.7 1927.2L991.7 1927.4L996.6 1927.6L1001.6 1927.8L1006.6 1928.0L1011.5 1928.2L1016.5 1928.4L1021.5 1928.6L1026.4 1928.8L1031.4 1929.0" fill="none" stroke="#FF3B3B" stroke-width="4" stroke-dasharray="27.5 14 6.2 14" stroke-dashoffset="10"/>
<path d="M241.6 2144.6L246.6 2139.4L251.5 2134.3L256.5 2129.2L261.5 2124.2L266.4 2119.2L271.4 2114.2L276.4 2109.3L281.3 2104.5L286.3 2099.6L291.3 2094.9L296.2 2090.2L301.2 2085.5L306.2 2080.9L311.1 2076.3L316.1 2071.8L321.1 2067.3L326.0 2062.9L331.0 2058.6L336.0 2054.3L340.9 2050.0L345.9 2045.8L350.9 2041.6L355.8 2037.3L360.8 2033.0L365.8 2028.8L370.7 2024.5L375.7 2020.3L380.7 2016.1L385.7 2012.0L390.6 2008.0L395.6 2004.0L400.6 2000.2L405.5 1996.4L410.5 1992.8L415.5 1989.3L420.4 1985.9L425.4 1982.8L430.4 1979.8L435.3 1977.0L440.3 1974.4L445.3 1971.9L450.2 1969.4L455.2 1967.1L460.2 1964.8L465.1 1962.5L470.1 1960.3L475.1 1958.2L480.0 1956.2L485.0 1954.2L490.0 1952.3L494.9 1950.4L499.9 1948.6L504.9 1946.9L509.8 1945.2L514.8 1943.6L519.8 1942.1L524.7 1940.6L529.7 1939.2L534.7 1937.8L539.6 1936.6L544.6 1935.3L549.6 1934.0L554.5 1932.8L559.5 1931.6L564.5 1930.5L569.4 1929.3L574.4 1928.2L579.4 1927.2L584.3 1926.1L589.3 1925.1L594.3 1924.2L599.2 1923.2L604.2 1922.4L609.2 1921.5L614.1 1920.8L619.1 1920.0L624.1 1919.3L629.0 1918.7L634.0 1918.1L639.0 1917.6L644.0 1917.1L648.9 1916.6L653.9 1916.1L658.9 1915.6L663.8 1915.2L668.8 1914.8L673.8 1914.3L678.7 1913.9L683.7 1913.6L688.7 1913.2L693.6 1912.9L698.6 1912.6L703.6 1912.3L708.5 1912.0L713.5 1911.8L718.5 1911.6L723.4 1911.4L728.4 1911.3L733.4 1911.1L738.3 1911.0L743.3 1910.9L748.3 1910.8L753.2 1910.7L758.2 1910.6L763.2 1910.5L768.1 1910.4L773.1 1910.3L778.1 1910.2L783.0 1910.1L788.0 1910.0L793.0 1910.0L797.9 1909.9L802.9 1909.8L807.9 1909.8L812.8 1909.7L817.8 1909.7L822.8 1909.7L827.7 1909.7L832.7 1909.7L837.7 1909.7L842.6 1909.7L847.6 1909.7L852.6 1909.7L857.5 1909.7L862.5 1909.7L867.5 1909.7L872.4 1909.7L877.4 1909.7L882.4 1909.7L887.3 1909.7L892.3 1909.7L897.3 1909.7L902.3 1909.7L907.2 1909.7L912.2 1909.7L917.2 1909.7L922.1 1909.7L927.1 1909.7L932.1 1909.7L937.0 1909.7L942.0 1909.7L947.0 1909.7L951.9 1909.7L956.9 1909.7L961.9 1909.7L966.8 1909.7L971.8 1909.7L976.8 1909.7L981.7 1909.7L986.7 1909.7L991.7 1909.7L996.6 1909.7L1001.6 1909.7L1006.6 1909.7L1011.5 1909.7L1016.5 1909.7L1021.5 1909.7L1026.4 1909.7L1031.4 1909.7" fill="none" stroke="#0A6AE0" stroke-width="4" stroke-dasharray="27.5 14 6.2 14" stroke-dashoffset="0"/>
<path d="M241.6 2245.5L246.6 2236.7L251.5 2227.9L256.5 2219.3L261.5 2210.8L266.4 2202.5L271.4 2194.3L276.4 2186.3L281.3 2178.4L286.3 2170.6L291.3 2163.1L296.2 2155.7L301.2 2148.4L306.2 2141.4L311.1 2134.5L316.1 2127.8L321.1 2121.3L326.0 2115.1L331.0 2109.0L336.0 2103.1L340.9 2097.4L345.9 2092.0L350.9 2086.6L355.8 2081.4L360.8 2076.3L365.8 2071.2L370.7 2066.3L375.7 2061.5L380.7 2056.8L385.7 2052.2L390.6 2047.8L395.6 2043.5L400.6 2039.3L405.5 2035.2L410.5 2031.3L415.5 2027.5L420.4 2023.8L425.4 2020.3L430.4 2016.9L435.3 2013.6L440.3 2010.6L445.3 2007.6L450.2 2004.7L455.2 2001.8L460.2 1999.1L465.1 1996.4L470.1 1993.8L475.1 1991.3L480.0 1988.8L485.0 1986.4L490.0 1984.1L494.9 1981.8L499.9 1979.6L504.9 1977.5L509.8 1975.4L514.8 1973.4L519.8 1971.4L524.7 1969.5L529.7 1967.6L534.7 1965.8L539.6 1964.0L544.6 1962.2L549.6 1960.4L554.5 1958.7L559.5 1956.9L564.5 1955.2L569.4 1953.5L574.4 1951.8L579.4 1950.2L584.3 1948.6L589.3 1947.0L594.3 1945.6L599.2 1944.1L604.2 1942.8L609.2 1941.5L614.1 1940.3L619.1 1939.2L624.1 1938.2L629.0 1937.3L634.0 1936.5L639.0 1935.8L644.0 1935.1L648.9 1934.5L653.9 1933.9L658.9 1933.3L663.8 1932.7L668.8 1932.2L673.8 1931.7L678.7 1931.2L683.7 1930.7L688.7 1930.3L693.6 1929.8L698.6 1929.5L703.6 1929.1L708.5 1928.8L713.5 1928.4L718.5 1928.2L723.4 1927.9L728.4 1927.6L733.4 1927.4L738.3 1927.2L743.3 1927.0L748.3 1926.7L753.2 1926.5L758.2 1926.3L763.2 1926.1L768.1 1925.9L773.1 1925.7L778.1 1925.5L783.0 1925.4L788.0 1925.2L793.0 1925.0L797.9 1924.9L802.9 1924.8L807.9 1924.7L812.8 1924.6L817.8 1924.5L822.8 1924.5L827.7 1924.4L832.7 1924.4L837.7 1924.4L842.6 1924.4L847.6 1924.4L852.6 1924.4L857.5 1924.5L862.5 1924.5L867.5 1924.5L872.4 1924.5L877.4 1924.5L882.4 1924.6L887.3 1924.6L892.3 1924.6L897.3 1924.7L902.3 1924.7L907.2 1924.7L912.2 1924.8L917.2 1924.8L922.1 1924.8L927.1 1924.9L932.1 1924.9L937.0 1925.0L942.0 1925.0L947.0 1925.0L951.9 1925.1L956.9 1925.1L961.9 1925.2L966.8 1925.2L971.8 1925.3L976.8 1925.3L981.7 1925.4L986.7 1925.5L991.7 1925.5L996.6 1925.6L1001.6 1925.6L1006.6 1925.7L1011.5 1925.8L1016.5 1925.8L1021.5 1925.9L1026.4 1926.0L1031.4 1926.1" fill="none" stroke="#10A860" stroke-width="4" stroke-dasharray="27.5 14 6.2 14" stroke-dashoffset="0"/>
<path d="M241.6 2222.8L246.6 2214.7L251.5 2206.7L256.5 2198.8L261.5 2191.0L266.4 2183.3L271.4 2175.8L276.4 2168.4L281.3 2161.2L286.3 2154.0L291.3 2147.1L296.2 2140.3L301.2 2133.7L306.2 2127.2L311.1 2120.9L316.1 2114.7L321.1 2108.8L326.0 2103.0L331.0 2097.4L336.0 2092.0L340.9 2086.8L345.9 2081.8L350.9 2076.9L355.8 2072.1L360.8 2067.4L365.8 2062.8L370.7 2058.3L375.7 2054.0L380.7 2049.7L385.7 2045.5L390.6 2041.4L395.6 2037.5L400.6 2033.7L405.5 2029.9L410.5 2026.3L415.5 2022.8L420.4 2019.4L425.4 2016.2L430.4 2013.0L435.3 2010.0L440.3 2007.1L445.3 2004.2L450.2 2001.5L455.2 1998.7L460.2 1996.1L465.1 1993.5L470.1 1991.0L475.1 1988.5L480.0 1986.1L485.0 1983.8L490.0 1981.5L494.9 1979.3L499.9 1977.2L504.9 1975.1L509.8 1973.1L514.8 1971.1L519.8 1969.3L524.7 1967.4L529.7 1965.7L534.7 1964.0L539.6 1962.4L544.6 1960.8L549.6 1959.2L554.5 1957.6L559.5 1956.1L564.5 1954.5L569.4 1953.0L574.4 1951.6L579.4 1950.1L584.3 1948.7L589.3 1947.4L594.3 1946.1L599.2 1944.9L604.2 1943.8L609.2 1942.7L614.1 1941.7L619.1 1940.8L624.1 1940.0L629.0 1939.3L634.0 1938.7L639.0 1938.2L644.0 1937.7L648.9 1937.3L653.9 1936.9L658.9 1936.5L663.8 1936.1L668.8 1935.8L673.8 1935.4L678.7 1935.1L683.7 1934.8L688.7 1934.6L693.6 1934.3L698.6 1934.0L703.6 1933.8L708.5 1933.6L713.5 1933.3L718.5 1933.1L723.4 1932.9L728.4 1932.7L733.4 1932.5L738.3 1932.3L743.3 1932.0L748.3 1931.8L753.2 1931.6L758.2 1931.4L763.2 1931.2L768.1 1931.0L773.1 1930.8L778.1 1930.6L783.0 1930.4L788.0 1930.2L793.0 1930.0L797.9 1929.9L802.9 1929.8L807.9 1929.6L812.8 1929.5L817.8 1929.5L822.8 1929.4L827.7 1929.4L832.7 1929.3L837.7 1929.3L842.6 1929.4L847.6 1929.4L852.6 1929.5L857.5 1929.5L862.5 1929.6L867.5 1929.7L872.4 1929.8L877.4 1929.9L882.4 1930.0L887.3 1930.2L892.3 1930.3L897.3 1930.4L902.3 1930.6L907.2 1930.7L912.2 1930.9L917.2 1931.0L922.1 1931.2L927.1 1931.3L932.1 1931.5L937.0 1931.6L942.0 1931.8L947.0 1931.9L951.9 1932.1L956.9 1932.3L961.9 1932.5L966.8 1932.7L971.8 1932.9L976.8 1933.1L981.7 1933.3L986.7 1933.5L991.7 1933.8L996.6 1934.0L1001.6 1934.2L1006.6 1934.5L1011.5 1934.7L1016.5 1935.0L1021.5 1935.2L1026.4 1935.5L1031.4 1935.8" fill="none" stroke="#D89A08" stroke-width="4" stroke-dasharray="27.5 14 6.2 14" stroke-dashoffset="25"/>
<path d="M241.6 2119.4L246.6 2114.5L251.5 2109.6L256.5 2104.7L261.5 2099.9L266.4 2095.2L271.4 2090.5L276.4 2085.9L281.3 2081.3L286.3 2076.8L291.3 2072.3L296.2 2067.9L301.2 2063.5L306.2 2059.2L311.1 2055.0L316.1 2050.8L321.1 2046.7L326.0 2042.6L331.0 2038.6L336.0 2034.7L340.9 2030.8L345.9 2027.0L350.9 2023.2L355.8 2019.4L360.8 2015.6L365.8 2011.7L370.7 2007.9L375.7 2004.2L380.7 2000.5L385.7 1996.8L390.6 1993.2L395.6 1989.7L400.6 1986.4L405.5 1983.1L410.5 1979.9L415.5 1976.9L420.4 1974.0L425.4 1971.2L430.4 1968.7L435.3 1966.3L440.3 1964.1L445.3 1962.0L450.2 1960.0L455.2 1958.0L460.2 1956.0L465.1 1954.1L470.1 1952.3L475.1 1950.5L480.0 1948.8L485.0 1947.1L490.0 1945.5L494.9 1944.0L499.9 1942.5L504.9 1941.1L509.8 1939.8L514.8 1938.5L519.8 1937.3L524.7 1936.2L529.7 1935.2L534.7 1934.2L539.6 1933.3L544.6 1932.4L549.6 1931.6L554.5 1930.8L559.5 1930.0L564.5 1929.2L569.4 1928.4L574.4 1927.7L579.4 1927.0L584.3 1926.3L589.3 1925.7L594.3 1925.1L599.2 1924.5L604.2 1924.0L609.2 1923.5L614.1 1923.0L619.1 1922.6L624.1 1922.2L629.0 1921.8L634.0 1921.5L639.0 1921.3L644.0 1921.0L648.9 1920.7L653.9 1920.5L658.9 1920.3L663.8 1920.0L668.8 1919.8L673.8 1919.6L678.7 1919.4L683.7 1919.2L688.7 1919.0L693.6 1918.9L698.6 1918.7L703.6 1918.6L708.5 1918.5L713.5 1918.4L718.5 1918.3L723.4 1918.3L728.4 1918.2L733.4 1918.2L738.3 1918.2L743.3 1918.1L748.3 1918.1L753.2 1918.1L758.2 1918.1L763.2 1918.0L768.1 1918.0L773.1 1918.0L778.1 1918.0L783.0 1918.0L788.0 1917.9L793.0 1917.9L797.9 1917.9L802.9 1917.9L807.9 1917.9L812.8 1917.9L817.8 1917.9L822.8 1917.9L827.7 1917.9L832.7 1917.9L837.7 1917.9L842.6 1917.9L847.6 1917.9L852.6 1917.9L857.5 1917.9L862.5 1918.0L867.5 1918.0L872.4 1918.0L877.4 1918.1L882.4 1918.1L887.3 1918.2L892.3 1918.2L897.3 1918.3L902.3 1918.3L907.2 1918.4L912.2 1918.4L917.2 1918.5L922.1 1918.5L927.1 1918.6L932.1 1918.6L937.0 1918.7L942.0 1918.7L947.0 1918.7L951.9 1918.8L956.9 1918.8L961.9 1918.9L966.8 1918.9L971.8 1919.0L976.8 1919.0L981.7 1919.0L986.7 1919.1L991.7 1919.1L996.6 1919.2L1001.6 1919.2L1006.6 1919.3L1011.5 1919.3L1016.5 1919.4L1021.5 1919.4L1026.4 1919.5L1031.4 1919.5" fill="none" stroke="#10CCCC" stroke-width="4" stroke-dasharray="27.5 14 6.2 14" stroke-dashoffset="30"/>
<path d="M241.6 2067.7L246.6 2063.8L251.5 2060.0L256.5 2056.1L261.5 2052.4L266.4 2048.7L271.4 2045.0L276.4 2041.4L281.3 2037.8L286.3 2034.2L291.3 2030.8L296.2 2027.3L301.2 2023.9L306.2 2020.6L311.1 2017.3L316.1 2014.1L321.1 2010.9L326.0 2007.8L331.0 2004.7L336.0 2001.7L340.9 1998.8L345.9 1995.9L350.9 1993.0L355.8 1990.1L360.8 1987.3L365.8 1984.4L370.7 1981.6L375.7 1978.8L380.7 1976.1L385.7 1973.4L390.6 1970.7L395.6 1968.2L400.6 1965.6L405.5 1963.2L410.5 1960.8L415.5 1958.6L420.4 1956.4L425.4 1954.3L430.4 1952.3L435.3 1950.5L440.3 1948.7L445.3 1947.0L450.2 1945.3L455.2 1943.7L460.2 1942.0L465.1 1940.4L470.1 1938.9L475.1 1937.4L480.0 1935.9L485.0 1934.5L490.0 1933.1L494.9 1931.8L499.9 1930.5L504.9 1929.3L509.8 1928.2L514.8 1927.1L519.8 1926.1L524.7 1925.2L529.7 1924.4L534.7 1923.7L539.6 1923.0L544.6 1922.4L549.6 1921.8L554.5 1921.2L559.5 1920.6L564.5 1920.0L569.4 1919.5L574.4 1918.9L579.4 1918.4L584.3 1917.9L589.3 1917.4L594.3 1917.0L599.2 1916.6L604.2 1916.2L609.2 1915.9L614.1 1915.7L619.1 1915.4L624.1 1915.3L629.0 1915.2L634.0 1915.1L639.0 1915.1L644.0 1915.1L648.9 1915.1L653.9 1915.1L658.9 1915.2L663.8 1915.2L668.8 1915.3L673.8 1915.4L678.7 1915.4L683.7 1915.5L688.7 1915.6L693.6 1915.7L698.6 1915.8L703.6 1915.9L708.5 1916.0L713.5 1916.1L718.5 1916.2L723.4 1916.3L728.4 1916.4L733.4 1916.5L738.3 1916.6L743.3 1916.8L748.3 1917.0L753.2 1917.2L758.2 1917.4L763.2 1917.6L768.1 1917.9L773.1 1918.1L778.1 1918.4L783.0 1918.6L788.0 1918.9L793.0 1919.2L797.9 1919.4L802.9 1919.7L807.9 1920.0L812.8 1920.3L817.8 1920.6L822.8 1920.8L827.7 1921.1L832.7 1921.3L837.7 1921.6L842.6 1921.8L847.6 1922.1L852.6 1922.3L857.5 1922.6L862.5 1922.8L867.5 1923.1L872.4 1923.3L877.4 1923.6L882.4 1923.8L887.3 1924.1L892.3 1924.4L897.3 1924.6L902.3 1924.9L907.2 1925.1L912.2 1925.4L917.2 1925.6L922.1 1925.9L927.1 1926.1L932.1 1926.4L937.0 1926.7L942.0 1926.9L947.0 1927.2L951.9 1927.4L956.9 1927.7L961.9 1927.9L966.8 1928.2L971.8 1928.4L976.8 1928.7L981.7 1928.9L986.7 1929.2L991.7 1929.5L996.6 1929.7L1001.6 1930.0L1006.6 1930.2L1011.5 1930.5L1016.5 1930.7L1021.5 1931.0L1026.4 1931.2L1031.4 1931.5" fill="none" stroke="#7C3A3A" stroke-width="4" stroke-dasharray="27.5 14 6.2 14" stroke-dashoffset="40"/>
<g transform="translate(373.8 2387.5) scale(0.31738035264483627)"><rect x="-397" y="-397" width="794" height="794" fill="#0091D0"/><g fill="none" stroke="#E6D800"><path stroke="none" fill="#E6D800" fill-rule="evenodd" d="M-372 0A372 372 0 1 0 372 0A372 372 0 1 0 -372 0ZM-322 0A322 340 0 1 0 322 0A322 340 0 1 0 -322 0Z"/><circle r="236.3" stroke-width="53"/><circle r="182.5" stroke-width="26.5"/><path d="M104.0 -53.0A116.75 116.75 0 0 0 -114.6 22.3" stroke-width="25.5"/><path d="M-104.9 51.2A116.75 116.75 0 0 0 113.3 -28.2" stroke-width="25.5"/></g><rect x="255" y="-30.0" width="97" height="60" fill="#E6D800" transform="rotate(-50.2)"/><rect x="255" y="-30.0" width="97" height="60" fill="#E6D800" transform="rotate(-230.2)"/><rect x="124" y="-9.5" width="51" height="19" fill="#E6D800" transform="rotate(-110)"/><rect x="124" y="-9.5" width="51" height="19" fill="#E6D800" transform="rotate(-290)"/></g><line x1="375.0" y1="2392.0" x2="375.0" y2="2269.7" stroke="#B29BC6" stroke-width="9.5" /><polygon points="375.0,2249.7 387.5,2270.7 362.5,2270.7" fill="#B29BC6"/><line x1="379.0" y1="2388.0" x2="493.0" y2="2388.0" stroke="#E00000" stroke-width="9" /><polygon points="514.0,2388.0 492.0,2399.5 492.0,2376.5" fill="#E00000"/><line x1="372.0" y1="2389.5" x2="405.8" y2="2379.0" stroke="#000" stroke-width="7" /><line x1="420.7" y1="2372.5" x2="452.5" y2="2358.8" stroke="#000" stroke-width="7" /><path d="M416 2367Q426 2372 419 2389" fill="none" stroke="#000" stroke-width="4"/><text transform="matrix(0.8936 0 0 0.9407 341.74 2271.77)" font-size="100" font-weight="bold" font-style="italic" fill="#000" >y</text><text transform="matrix(1.0816 0 0 0.9457 497.52 2433.00)" font-size="100" font-weight="bold" font-style="italic" fill="#000" >x</text><text transform="matrix(1.0043 0 0 0.8958 477.48 2372.70)" font-size="100" font-weight="bold" font-style="italic" fill="#000" >θ</text><text transform="matrix(0.6625 0 0 0.6576 527.82 2387.40)" font-size="100"  fill="#000" >2</text>
<rect x="241.6" y="1888.6" width="789.8000000000001" height="630.5999999999999" fill="none" stroke="#000" stroke-width="7.2"/><line x1="241.6" y1="2521.8" x2="241.6" y2="2531.8" stroke="#000" stroke-width="7" /><line x1="241.6" y1="1891.2" x2="241.6" y2="1899.2" stroke="#000" stroke-width="7" /><line x1="439.1" y1="2521.8" x2="439.1" y2="2531.8" stroke="#000" stroke-width="7" /><line x1="439.1" y1="1891.2" x2="439.1" y2="1899.2" stroke="#000" stroke-width="7" /><line x1="636.5" y1="2521.8" x2="636.5" y2="2531.8" stroke="#000" stroke-width="7" /><line x1="636.5" y1="1891.2" x2="636.5" y2="1899.2" stroke="#000" stroke-width="7" /><line x1="834.0" y1="2521.8" x2="834.0" y2="2531.8" stroke="#000" stroke-width="7" /><line x1="834.0" y1="1891.2" x2="834.0" y2="1899.2" stroke="#000" stroke-width="7" /><line x1="1031.4" y1="2521.8" x2="1031.4" y2="2531.8" stroke="#000" stroke-width="7" /><line x1="1031.4" y1="1891.2" x2="1031.4" y2="1899.2" stroke="#000" stroke-width="7" /><line x1="340.3" y1="2521.8" x2="340.3" y2="2526.8" stroke="#000" stroke-width="6" /><line x1="340.3" y1="1891.2" x2="340.3" y2="1895.2" stroke="#000" stroke-width="6" /><line x1="537.8" y1="2521.8" x2="537.8" y2="2526.8" stroke="#000" stroke-width="6" /><line x1="537.8" y1="1891.2" x2="537.8" y2="1895.2" stroke="#000" stroke-width="6" /><line x1="735.2" y1="2521.8" x2="735.2" y2="2526.8" stroke="#000" stroke-width="6" /><line x1="735.2" y1="1891.2" x2="735.2" y2="1895.2" stroke="#000" stroke-width="6" /><line x1="932.7" y1="2521.8" x2="932.7" y2="2526.8" stroke="#000" stroke-width="6" /><line x1="932.7" y1="1891.2" x2="932.7" y2="1895.2" stroke="#000" stroke-width="6" /><line x1="239.0" y1="2519.2" x2="228.0" y2="2519.2" stroke="#000" stroke-width="7" /><line x1="1028.8" y1="2519.2" x2="1019.8" y2="2519.2" stroke="#000" stroke-width="7" /><line x1="239.0" y1="2393.1" x2="228.0" y2="2393.1" stroke="#000" stroke-width="7" /><line x1="1028.8" y1="2393.1" x2="1019.8" y2="2393.1" stroke="#000" stroke-width="7" /><line x1="239.0" y1="2267.0" x2="228.0" y2="2267.0" stroke="#000" stroke-width="7" /><line x1="1028.8" y1="2267.0" x2="1019.8" y2="2267.0" stroke="#000" stroke-width="7" /><line x1="239.0" y1="2140.8" x2="228.0" y2="2140.8" stroke="#000" stroke-width="7" /><line x1="1028.8" y1="2140.8" x2="1019.8" y2="2140.8" stroke="#000" stroke-width="7" /><line x1="239.0" y1="2014.7" x2="228.0" y2="2014.7" stroke="#000" stroke-width="7" /><line x1="1028.8" y1="2014.7" x2="1019.8" y2="2014.7" stroke="#000" stroke-width="7" /><line x1="239.0" y1="1888.6" x2="228.0" y2="1888.6" stroke="#000" stroke-width="7" /><line x1="1028.8" y1="1888.6" x2="1019.8" y2="1888.6" stroke="#000" stroke-width="7" /><line x1="239.0" y1="2456.1" x2="234.0" y2="2456.1" stroke="#000" stroke-width="6" /><line x1="1028.8" y1="2456.1" x2="1024.3" y2="2456.1" stroke="#000" stroke-width="6" /><line x1="239.0" y1="2330.0" x2="234.0" y2="2330.0" stroke="#000" stroke-width="6" /><line x1="1028.8" y1="2330.0" x2="1024.3" y2="2330.0" stroke="#000" stroke-width="6" /><line x1="239.0" y1="2203.9" x2="234.0" y2="2203.9" stroke="#000" stroke-width="6" /><line x1="1028.8" y1="2203.9" x2="1024.3" y2="2203.9" stroke="#000" stroke-width="6" /><line x1="239.0" y1="2077.8" x2="234.0" y2="2077.8" stroke="#000" stroke-width="6" /><line x1="1028.8" y1="2077.8" x2="1024.3" y2="2077.8" stroke="#000" stroke-width="6" /><line x1="239.0" y1="1951.7" x2="234.0" y2="1951.7" stroke="#000" stroke-width="6" /><line x1="1028.8" y1="1951.7" x2="1024.3" y2="1951.7" stroke="#000" stroke-width="6" />
<rect x="658.7" y="1885.0" width="68.7" height="637.8" fill="rgba(0,178,236,0.31)"/>
<text transform="matrix(0.5200 0 0 0.5200 194.93 2581.12)" font-size="100" font-weight="bold" fill="#000" >12.5</text>
<text transform="matrix(0.5200 0 0 0.5200 392.51 2581.38)" font-size="100" font-weight="bold" fill="#000" >13.0</text>
<text transform="matrix(0.5200 0 0 0.5200 589.83 2581.12)" font-size="100" font-weight="bold" fill="#000" >13.5</text>
<text transform="matrix(0.5200 0 0 0.5200 787.41 2581.38)" font-size="100" font-weight="bold" fill="#000" >14.0</text>
<text transform="matrix(0.5200 0 0 0.5200 984.73 2581.12)" font-size="100" font-weight="bold" fill="#000" >14.5</text>
<text transform="matrix(0.5200 0 0 0.5200 154.58 2535.10)" font-size="100" font-weight="bold" fill="#000" >0.0</text>
<text transform="matrix(0.5200 0 0 0.5200 155.10 2408.98)" font-size="100" font-weight="bold" fill="#000" >0.1</text>
<text transform="matrix(0.5200 0 0 0.5200 154.58 2282.86)" font-size="100" font-weight="bold" fill="#000" >0.2</text>
<text transform="matrix(0.5200 0 0 0.5200 154.32 2156.74)" font-size="100" font-weight="bold" fill="#000" >0.3</text>
<text transform="matrix(0.5200 0 0 0.5200 153.54 2030.62)" font-size="100" font-weight="bold" fill="#000" >0.4</text>
<text transform="matrix(0.5200 0 0 0.5200 154.32 1904.50)" font-size="100" font-weight="bold" fill="#000" >0.5</text>
<text transform="matrix(0.5874 0 0 0.5813 438.92 2646.00)" font-size="100" font-weight="bold" fill="#000" >Frequency (GHz)</text>
<g transform="translate(98.1 2324) rotate(-90)"><text transform="matrix(0.5310 0 0 0.5264 -0.53 36.58)" font-size="100" font-weight="bold" fill="#000" >Amplitude</text></g>
<clipPath id="cpf"><rect x="1291.6" y="1894.5" width="828.8000000000002" height="619.1999999999998"/></clipPath><g clip-path="url(#cpf)">
<path d="M1291.6 1989.1L1293.7 1990.2L1295.8 1991.2L1297.8 1992.3L1299.9 1993.4L1302.0 1994.4L1304.1 1995.5L1306.1 1996.6L1308.2 1997.7L1310.3 1998.8L1312.4 1999.8L1314.4 2000.9L1316.5 2002.0L1318.6 2003.1L1320.7 2004.2L1322.8 2005.3L1324.8 2006.4L1326.9 2007.5L1329.0 2008.6L1331.1 2009.7L1333.1 2010.8L1335.2 2012.0L1337.3 2013.1L1339.4 2014.2L1341.5 2015.3L1343.5 2016.4L1345.6 2017.6L1347.7 2018.7L1349.8 2019.8L1351.8 2021.0L1353.9 2022.1L1356.0 2023.2L1358.1 2024.4L1360.1 2025.5L1362.2 2026.7L1364.3 2027.8L1366.4 2029.0L1368.5 2030.1L1370.5 2031.3L1372.6 2032.4L1374.7 2033.6L1376.8 2034.7L1378.8 2035.9L1380.9 2037.1L1383.0 2038.2L1385.1 2039.4L1387.2 2040.6L1389.2 2041.8L1391.3 2043.0L1393.4 2044.2L1395.5 2045.4L1397.5 2046.6L1399.6 2047.8L1401.7 2049.0L1403.8 2050.2L1405.8 2051.4L1407.9 2052.7L1410.0 2053.9L1412.1 2055.1L1414.2 2056.3L1416.2 2057.6L1418.3 2058.8L1420.4 2060.1L1422.5 2061.3L1424.5 2062.5L1426.6 2063.8L1428.7 2065.0L1430.8 2066.3L1432.8 2067.5L1434.9 2068.8L1437.0 2070.1L1439.1 2071.3L1441.2 2072.6L1443.2 2073.8L1445.3 2075.1L1447.4 2076.3L1449.5 2077.6L1451.5 2078.8L1453.6 2080.1L1455.7 2081.4L1457.8 2082.6L1459.9 2083.9L1461.9 2085.1L1464.0 2086.4L1466.1 2087.6L1468.2 2088.9L1470.2 2090.1L1472.3 2091.3L1474.4 2092.6L1476.5 2093.8L1478.5 2095.1L1480.6 2096.3L1482.7 2097.5L1484.8 2098.7L1486.9 2100.0L1488.9 2101.2L1491.0 2102.4L1493.1 2103.6L1495.2 2104.9L1497.2 2106.1L1499.3 2107.3L1501.4 2108.5L1503.5 2109.8L1505.6 2111.0L1507.6 2112.2L1509.7 2113.5L1511.8 2114.7L1513.9 2115.9L1515.9 2117.2L1518.0 2118.4L1520.1 2119.6L1522.2 2120.9L1524.2 2122.1L1526.3 2123.3L1528.4 2124.5L1530.5 2125.8L1532.6 2127.0L1534.6 2128.2L1536.7 2129.5L1538.8 2130.7L1540.9 2131.9L1542.9 2133.1L1545.0 2134.3L1547.1 2135.6L1549.2 2136.8L1551.2 2138.0L1553.3 2139.2L1555.4 2140.4L1557.5 2141.6L1559.6 2142.8L1561.6 2144.0L1563.7 2145.2L1565.8 2146.4L1567.9 2147.6L1569.9 2148.7L1572.0 2149.9L1574.1 2151.1L1576.2 2152.3L1578.3 2153.4L1580.3 2154.6L1582.4 2155.7L1584.5 2156.9L1586.6 2158.0L1588.6 2159.2L1590.7 2160.3L1592.8 2161.4L1594.9 2162.5L1596.9 2163.7L1599.0 2164.8L1601.1 2165.9L1603.2 2167.0L1605.3 2168.0L1607.3 2169.1L1609.4 2170.2L1611.5 2171.3L1613.6 2172.3L1615.6 2173.4L1617.7 2174.5L1619.8 2175.5L1621.9 2176.6L1624.0 2177.6L1626.0 2178.7L1628.1 2179.7L1630.2 2180.8L1632.3 2181.8L1634.3 2182.8L1636.4 2183.9L1638.5 2184.9L1640.6 2185.9L1642.6 2187.0L1644.7 2188.0L1646.8 2189.1L1648.9 2190.1L1651.0 2191.1L1653.0 2192.2L1655.1 2193.2L1657.2 2194.3L1659.3 2195.3L1661.3 2196.4L1663.4 2197.4L1665.5 2198.5L1667.6 2199.5L1669.6 2200.6L1671.7 2201.6L1673.8 2202.7L1675.9 2203.7L1678.0 2204.7L1680.0 2205.8L1682.1 2206.8L1684.2 2207.8L1686.3 2208.9L1688.3 2209.9L1690.4 2210.9L1692.5 2211.9L1694.6 2212.9L1696.7 2213.9L1698.7 2214.8L1700.8 2215.8L1702.9 2216.8L1705.0 2217.7L1707.0 2218.7L1709.1 2219.6L1711.2 2220.5L1713.3 2221.5L1715.3 2222.4L1717.4 2223.3L1719.5 2224.2L1721.6 2225.2L1723.7 2226.1L1725.7 2227.0L1727.8 2227.9L1729.9 2228.8L1732.0 2229.7L1734.0 2230.6L1736.1 2231.4L1738.2 2232.3L1740.3 2233.2L1742.4 2234.1L1744.4 2235.0L1746.5 2235.8L1748.6 2236.7L1750.7 2237.6L1752.7 2238.4L1754.8 2239.3L1756.9 2240.2L1759.0 2241.0L1761.0 2241.9L1763.1 2242.7L1765.2 2243.6L1767.3 2244.4L1769.4 2245.3L1771.4 2246.1L1773.5 2246.9L1775.6 2247.8L1777.7 2248.6L1779.7 2249.5L1781.8 2250.3L1783.9 2251.1L1786.0 2252.0L1788.0 2252.8L1790.1 2253.6L1792.2 2254.4L1794.3 2255.3L1796.4 2256.1L1798.4 2256.9L1800.5 2257.7L1802.6 2258.5L1804.7 2259.4L1806.7 2260.2L1808.8 2261.0L1810.9 2261.8L1813.0 2262.6L1815.1 2263.5L1817.1 2264.3L1819.2 2265.1L1821.3 2265.9L1823.4 2266.7L1825.4 2267.5L1827.5 2268.3L1829.6 2269.2L1831.7 2270.0L1833.7 2270.8L1835.8 2271.6L1837.9 2272.4L1840.0 2273.2L1842.1 2274.0L1844.1 2274.8L1846.2 2275.6L1848.3 2276.5L1850.4 2277.3L1852.4 2278.1L1854.5 2278.9L1856.6 2279.7L1858.7 2280.5L1860.8 2281.3L1862.8 2282.1L1864.9 2282.9L1867.0 2283.7L1869.1 2284.5L1871.1 2285.3L1873.2 2286.0L1875.3 2286.8L1877.4 2287.6L1879.4 2288.4L1881.5 2289.2L1883.6 2290.0L1885.7 2290.7L1887.8 2291.5L1889.8 2292.3L1891.9 2293.1L1894.0 2293.8L1896.1 2294.6L1898.1 2295.4L1900.2 2296.1L1902.3 2296.9L1904.4 2297.7L1906.4 2298.4L1908.5 2299.2L1910.6 2299.9L1912.7 2300.7L1914.8 2301.4L1916.8 2302.1L1918.9 2302.9L1921.0 2303.6L1923.1 2304.4L1925.1 2305.1L1927.2 2305.8L1929.3 2306.5L1931.4 2307.2L1933.5 2308.0L1935.5 2308.7L1937.6 2309.4L1939.7 2310.1L1941.8 2310.8L1943.8 2311.5L1945.9 2312.2L1948.0 2312.9L1950.1 2313.6L1952.1 2314.2L1954.2 2314.9L1956.3 2315.6L1958.4 2316.3L1960.5 2317.0L1962.5 2317.6L1964.6 2318.3L1966.7 2319.0L1968.8 2319.6L1970.8 2320.3L1972.9 2321.0L1975.0 2321.6L1977.1 2322.3L1979.2 2322.9L1981.2 2323.6L1983.3 2324.2L1985.4 2324.9L1987.5 2325.5L1989.5 2326.2L1991.6 2326.8L1993.7 2327.5L1995.8 2328.1L1997.8 2328.8L1999.9 2329.4L2002.0 2330.0L2004.1 2330.7L2006.2 2331.3L2008.2 2331.9L2010.3 2332.6L2012.4 2333.2L2014.5 2333.8L2016.5 2334.4L2018.6 2335.1L2020.7 2335.7L2022.8 2336.3L2024.8 2336.9L2026.9 2337.6L2029.0 2338.2L2031.1 2338.8L2033.2 2339.4L2035.2 2340.1L2037.3 2340.7L2039.4 2341.3L2041.5 2341.9L2043.5 2342.5L2045.6 2343.2L2047.7 2343.8L2049.8 2344.4L2051.9 2345.0L2053.9 2345.6L2056.0 2346.3L2058.1 2346.9L2060.2 2347.5L2062.2 2348.1L2064.3 2348.7L2066.4 2349.4L2068.5 2350.0L2070.5 2350.6L2072.6 2351.2L2074.7 2351.8L2076.8 2352.4L2078.9 2353.0L2080.9 2353.6L2083.0 2354.2L2085.1 2354.8L2087.2 2355.4L2089.2 2356.0L2091.3 2356.6L2093.4 2357.2L2095.5 2357.8L2097.6 2358.4L2099.6 2359.0L2101.7 2359.6L2103.8 2360.2L2105.9 2360.8L2107.9 2361.4L2110.0 2362.0L2112.1 2362.6L2114.2 2363.2L2116.2 2363.7L2118.3 2364.3L2120.4 2364.9" fill="none" stroke="#4A4A4A" stroke-width="4.6" stroke-dasharray="27.5 14 6.2 14" />
<path d="M1291.6 2056.2L1293.7 2057.6L1295.8 2059.0L1297.8 2060.4L1299.9 2061.8L1302.0 2063.3L1304.1 2064.7L1306.1 2066.1L1308.2 2067.5L1310.3 2068.9L1312.4 2070.3L1314.4 2071.7L1316.5 2073.1L1318.6 2074.5L1320.7 2075.9L1322.8 2077.3L1324.8 2078.7L1326.9 2080.1L1329.0 2081.5L1331.1 2082.9L1333.1 2084.3L1335.2 2085.7L1337.3 2087.1L1339.4 2088.5L1341.5 2089.9L1343.5 2091.3L1345.6 2092.7L1347.7 2094.0L1349.8 2095.4L1351.8 2096.8L1353.9 2098.2L1356.0 2099.6L1358.1 2101.0L1360.1 2102.3L1362.2 2103.7L1364.3 2105.1L1366.4 2106.5L1368.5 2107.8L1370.5 2109.2L1372.6 2110.6L1374.7 2112.0L1376.8 2113.3L1378.8 2114.7L1380.9 2116.1L1383.0 2117.4L1385.1 2118.8L1387.2 2120.2L1389.2 2121.6L1391.3 2122.9L1393.4 2124.3L1395.5 2125.7L1397.5 2127.1L1399.6 2128.5L1401.7 2129.8L1403.8 2131.2L1405.8 2132.6L1407.9 2134.0L1410.0 2135.4L1412.1 2136.7L1414.2 2138.1L1416.2 2139.5L1418.3 2140.9L1420.4 2142.3L1422.5 2143.6L1424.5 2145.0L1426.6 2146.4L1428.7 2147.7L1430.8 2149.1L1432.8 2150.4L1434.9 2151.8L1437.0 2153.1L1439.1 2154.5L1441.2 2155.8L1443.2 2157.2L1445.3 2158.5L1447.4 2159.8L1449.5 2161.2L1451.5 2162.5L1453.6 2163.8L1455.7 2165.1L1457.8 2166.4L1459.9 2167.7L1461.9 2169.0L1464.0 2170.3L1466.1 2171.6L1468.2 2172.8L1470.2 2174.1L1472.3 2175.3L1474.4 2176.6L1476.5 2177.8L1478.5 2179.1L1480.6 2180.3L1482.7 2181.5L1484.8 2182.7L1486.9 2183.9L1488.9 2185.1L1491.0 2186.3L1493.1 2187.5L1495.2 2188.7L1497.2 2189.8L1499.3 2191.0L1501.4 2192.1L1503.5 2193.3L1505.6 2194.4L1507.6 2195.6L1509.7 2196.7L1511.8 2197.8L1513.9 2198.9L1515.9 2200.1L1518.0 2201.2L1520.1 2202.3L1522.2 2203.4L1524.2 2204.5L1526.3 2205.6L1528.4 2206.7L1530.5 2207.8L1532.6 2208.9L1534.6 2210.0L1536.7 2211.1L1538.8 2212.2L1540.9 2213.3L1542.9 2214.3L1545.0 2215.4L1547.1 2216.5L1549.2 2217.6L1551.2 2218.7L1553.3 2219.7L1555.4 2220.8L1557.5 2221.9L1559.6 2222.9L1561.6 2224.0L1563.7 2225.1L1565.8 2226.1L1567.9 2227.2L1569.9 2228.2L1572.0 2229.3L1574.1 2230.3L1576.2 2231.4L1578.3 2232.4L1580.3 2233.5L1582.4 2234.5L1584.5 2235.5L1586.6 2236.6L1588.6 2237.6L1590.7 2238.6L1592.8 2239.7L1594.9 2240.7L1596.9 2241.7L1599.0 2242.8L1601.1 2243.8L1603.2 2244.8L1605.3 2245.8L1607.3 2246.9L1609.4 2247.9L1611.5 2248.9L1613.6 2249.9L1615.6 2250.9L1617.7 2252.0L1619.8 2253.0L1621.9 2254.0L1624.0 2255.0L1626.0 2256.0L1628.1 2257.0L1630.2 2258.0L1632.3 2259.0L1634.3 2260.1L1636.4 2261.1L1638.5 2262.1L1640.6 2263.1L1642.6 2264.1L1644.7 2265.1L1646.8 2266.1L1648.9 2267.1L1651.0 2268.1L1653.0 2269.1L1655.1 2270.2L1657.2 2271.2L1659.3 2272.2L1661.3 2273.2L1663.4 2274.2L1665.5 2275.3L1667.6 2276.3L1669.6 2277.3L1671.7 2278.3L1673.8 2279.3L1675.9 2280.3L1678.0 2281.3L1680.0 2282.3L1682.1 2283.3L1684.2 2284.3L1686.3 2285.2L1688.3 2286.2L1690.4 2287.1L1692.5 2288.1L1694.6 2289.0L1696.7 2289.9L1698.7 2290.8L1700.8 2291.7L1702.9 2292.6L1705.0 2293.5L1707.0 2294.3L1709.1 2295.2L1711.2 2296.0L1713.3 2296.9L1715.3 2297.7L1717.4 2298.6L1719.5 2299.4L1721.6 2300.2L1723.7 2301.0L1725.7 2301.9L1727.8 2302.7L1729.9 2303.5L1732.0 2304.3L1734.0 2305.1L1736.1 2305.9L1738.2 2306.7L1740.3 2307.5L1742.4 2308.3L1744.4 2309.0L1746.5 2309.8L1748.6 2310.6L1750.7 2311.4L1752.7 2312.1L1754.8 2312.9L1756.9 2313.7L1759.0 2314.4L1761.0 2315.2L1763.1 2315.9L1765.2 2316.7L1767.3 2317.4L1769.4 2318.2L1771.4 2318.9L1773.5 2319.6L1775.6 2320.4L1777.7 2321.1L1779.7 2321.8L1781.8 2322.6L1783.9 2323.3L1786.0 2324.0L1788.0 2324.7L1790.1 2325.4L1792.2 2326.2L1794.3 2326.9L1796.4 2327.6L1798.4 2328.3L1800.5 2329.0L1802.6 2329.7L1804.7 2330.4L1806.7 2331.1L1808.8 2331.8L1810.9 2332.6L1813.0 2333.3L1815.1 2334.0L1817.1 2334.7L1819.2 2335.4L1821.3 2336.1L1823.4 2336.8L1825.4 2337.5L1827.5 2338.1L1829.6 2338.8L1831.7 2339.5L1833.7 2340.2L1835.8 2340.9L1837.9 2341.6L1840.0 2342.3L1842.1 2342.9L1844.1 2343.6L1846.2 2344.3L1848.3 2344.9L1850.4 2345.6L1852.4 2346.3L1854.5 2346.9L1856.6 2347.6L1858.7 2348.3L1860.8 2348.9L1862.8 2349.6L1864.9 2350.2L1867.0 2350.9L1869.1 2351.5L1871.1 2352.2L1873.2 2352.8L1875.3 2353.5L1877.4 2354.1L1879.4 2354.8L1881.5 2355.4L1883.6 2356.1L1885.7 2356.7L1887.8 2357.3L1889.8 2358.0L1891.9 2358.6L1894.0 2359.2L1896.1 2359.9L1898.1 2360.5L1900.2 2361.1L1902.3 2361.8L1904.4 2362.4L1906.4 2363.0L1908.5 2363.6L1910.6 2364.3L1912.7 2364.9L1914.8 2365.5L1916.8 2366.1L1918.9 2366.7L1921.0 2367.4L1923.1 2368.0L1925.1 2368.6L1927.2 2369.2L1929.3 2369.8L1931.4 2370.4L1933.5 2371.1L1935.5 2371.7L1937.6 2372.3L1939.7 2372.9L1941.8 2373.5L1943.8 2374.1L1945.9 2374.7L1948.0 2375.3L1950.1 2375.9L1952.1 2376.5L1954.2 2377.1L1956.3 2377.7L1958.4 2378.3L1960.5 2378.9L1962.5 2379.5L1964.6 2380.1L1966.7 2380.7L1968.8 2381.3L1970.8 2381.9L1972.9 2382.5L1975.0 2383.1L1977.1 2383.6L1979.2 2384.2L1981.2 2384.8L1983.3 2385.4L1985.4 2386.0L1987.5 2386.6L1989.5 2387.1L1991.6 2387.7L1993.7 2388.3L1995.8 2388.9L1997.8 2389.5L1999.9 2390.0L2002.0 2390.6L2004.1 2391.2L2006.2 2391.8L2008.2 2392.3L2010.3 2392.9L2012.4 2393.5L2014.5 2394.0L2016.5 2394.6L2018.6 2395.2L2020.7 2395.7L2022.8 2396.3L2024.8 2396.9L2026.9 2397.4L2029.0 2398.0L2031.1 2398.6L2033.2 2399.2L2035.2 2399.7L2037.3 2400.3L2039.4 2400.8L2041.5 2401.4L2043.5 2402.0L2045.6 2402.5L2047.7 2403.1L2049.8 2403.7L2051.9 2404.2L2053.9 2404.8L2056.0 2405.4L2058.1 2405.9L2060.2 2406.5L2062.2 2407.1L2064.3 2407.6L2066.4 2408.2L2068.5 2408.7L2070.5 2409.3L2072.6 2409.9L2074.7 2410.4L2076.8 2411.0L2078.9 2411.5L2080.9 2412.1L2083.0 2412.7L2085.1 2413.2L2087.2 2413.8L2089.2 2414.3L2091.3 2414.9L2093.4 2415.4L2095.5 2416.0L2097.6 2416.5L2099.6 2417.1L2101.7 2417.6L2103.8 2418.2L2105.9 2418.7L2107.9 2419.3L2110.0 2419.8L2112.1 2420.4L2114.2 2420.9L2116.2 2421.5L2118.3 2422.0L2120.4 2422.5" fill="none" stroke="#FF3B3B" stroke-width="4.6" stroke-dasharray="27.5 14 6.2 14" />
<path d="M1291.6 2129.5L1293.7 2131.1L1295.8 2132.8L1297.8 2134.5L1299.9 2136.2L1302.0 2137.8L1304.1 2139.5L1306.1 2141.1L1308.2 2142.8L1310.3 2144.4L1312.4 2146.1L1314.4 2147.7L1316.5 2149.3L1318.6 2150.9L1320.7 2152.5L1322.8 2154.2L1324.8 2155.8L1326.9 2157.3L1329.0 2158.9L1331.1 2160.5L1333.1 2162.1L1335.2 2163.7L1337.3 2165.2L1339.4 2166.8L1341.5 2168.3L1343.5 2169.8L1345.6 2171.4L1347.7 2172.9L1349.8 2174.4L1351.8 2175.9L1353.9 2177.4L1356.0 2178.9L1358.1 2180.4L1360.1 2181.9L1362.2 2183.3L1364.3 2184.8L1366.4 2186.2L1368.5 2187.7L1370.5 2189.1L1372.6 2190.5L1374.7 2192.0L1376.8 2193.4L1378.8 2194.8L1380.9 2196.2L1383.0 2197.6L1385.1 2199.0L1387.2 2200.4L1389.2 2201.7L1391.3 2203.1L1393.4 2204.5L1395.5 2205.9L1397.5 2207.2L1399.6 2208.6L1401.7 2209.9L1403.8 2211.3L1405.8 2212.6L1407.9 2214.0L1410.0 2215.3L1412.1 2216.6L1414.2 2217.9L1416.2 2219.3L1418.3 2220.6L1420.4 2221.9L1422.5 2223.2L1424.5 2224.5L1426.6 2225.8L1428.7 2227.0L1430.8 2228.3L1432.8 2229.6L1434.9 2230.9L1437.0 2232.1L1439.1 2233.4L1441.2 2234.7L1443.2 2235.9L1445.3 2237.1L1447.4 2238.4L1449.5 2239.6L1451.5 2240.8L1453.6 2242.1L1455.7 2243.3L1457.8 2244.5L1459.9 2245.7L1461.9 2246.9L1464.0 2248.1L1466.1 2249.3L1468.2 2250.4L1470.2 2251.6L1472.3 2252.8L1474.4 2253.9L1476.5 2255.1L1478.5 2256.3L1480.6 2257.4L1482.7 2258.5L1484.8 2259.7L1486.9 2260.8L1488.9 2261.9L1491.0 2263.0L1493.1 2264.2L1495.2 2265.3L1497.2 2266.4L1499.3 2267.5L1501.4 2268.6L1503.5 2269.7L1505.6 2270.8L1507.6 2271.8L1509.7 2272.9L1511.8 2274.0L1513.9 2275.1L1515.9 2276.1L1518.0 2277.2L1520.1 2278.2L1522.2 2279.3L1524.2 2280.3L1526.3 2281.4L1528.4 2282.4L1530.5 2283.5L1532.6 2284.5L1534.6 2285.5L1536.7 2286.5L1538.8 2287.6L1540.9 2288.6L1542.9 2289.6L1545.0 2290.6L1547.1 2291.6L1549.2 2292.6L1551.2 2293.6L1553.3 2294.6L1555.4 2295.6L1557.5 2296.6L1559.6 2297.5L1561.6 2298.5L1563.7 2299.5L1565.8 2300.5L1567.9 2301.4L1569.9 2302.4L1572.0 2303.4L1574.1 2304.3L1576.2 2305.3L1578.3 2306.2L1580.3 2307.2L1582.4 2308.1L1584.5 2309.1L1586.6 2310.0L1588.6 2310.9L1590.7 2311.9L1592.8 2312.8L1594.9 2313.7L1596.9 2314.6L1599.0 2315.6L1601.1 2316.5L1603.2 2317.4L1605.3 2318.3L1607.3 2319.2L1609.4 2320.1L1611.5 2321.0L1613.6 2321.9L1615.6 2322.8L1617.7 2323.7L1619.8 2324.6L1621.9 2325.5L1624.0 2326.4L1626.0 2327.3L1628.1 2328.2L1630.2 2329.0L1632.3 2329.9L1634.3 2330.8L1636.4 2331.7L1638.5 2332.5L1640.6 2333.4L1642.6 2334.2L1644.7 2335.1L1646.8 2336.0L1648.9 2336.8L1651.0 2337.7L1653.0 2338.5L1655.1 2339.3L1657.2 2340.2L1659.3 2341.0L1661.3 2341.8L1663.4 2342.7L1665.5 2343.5L1667.6 2344.3L1669.6 2345.1L1671.7 2346.0L1673.8 2346.8L1675.9 2347.6L1678.0 2348.4L1680.0 2349.2L1682.1 2350.0L1684.2 2350.8L1686.3 2351.6L1688.3 2352.4L1690.4 2353.1L1692.5 2353.9L1694.6 2354.7L1696.7 2355.5L1698.7 2356.2L1700.8 2357.0L1702.9 2357.8L1705.0 2358.5L1707.0 2359.3L1709.1 2360.0L1711.2 2360.8L1713.3 2361.5L1715.3 2362.3L1717.4 2363.0L1719.5 2363.7L1721.6 2364.5L1723.7 2365.2L1725.7 2365.9L1727.8 2366.6L1729.9 2367.3L1732.0 2368.0L1734.0 2368.8L1736.1 2369.5L1738.2 2370.2L1740.3 2370.9L1742.4 2371.6L1744.4 2372.3L1746.5 2372.9L1748.6 2373.6L1750.7 2374.3L1752.7 2375.0L1754.8 2375.7L1756.9 2376.4L1759.0 2377.0L1761.0 2377.7L1763.1 2378.4L1765.2 2379.1L1767.3 2379.7L1769.4 2380.4L1771.4 2381.1L1773.5 2381.7L1775.6 2382.4L1777.7 2383.1L1779.7 2383.7L1781.8 2384.4L1783.9 2385.0L1786.0 2385.7L1788.0 2386.3L1790.1 2387.0L1792.2 2387.6L1794.3 2388.3L1796.4 2388.9L1798.4 2389.6L1800.5 2390.2L1802.6 2390.9L1804.7 2391.5L1806.7 2392.2L1808.8 2392.8L1810.9 2393.4L1813.0 2394.1L1815.1 2394.7L1817.1 2395.4L1819.2 2396.0L1821.3 2396.6L1823.4 2397.3L1825.4 2397.9L1827.5 2398.6L1829.6 2399.2L1831.7 2399.8L1833.7 2400.5L1835.8 2401.1L1837.9 2401.7L1840.0 2402.4L1842.1 2403.0L1844.1 2403.6L1846.2 2404.2L1848.3 2404.9L1850.4 2405.5L1852.4 2406.1L1854.5 2406.7L1856.6 2407.3L1858.7 2408.0L1860.8 2408.6L1862.8 2409.2L1864.9 2409.8L1867.0 2410.4L1869.1 2411.0L1871.1 2411.6L1873.2 2412.2L1875.3 2412.8L1877.4 2413.5L1879.4 2414.1L1881.5 2414.7L1883.6 2415.3L1885.7 2415.9L1887.8 2416.5L1889.8 2417.1L1891.9 2417.7L1894.0 2418.3L1896.1 2418.9L1898.1 2419.5L1900.2 2420.0L1902.3 2420.6L1904.4 2421.2L1906.4 2421.8L1908.5 2422.4L1910.6 2423.0L1912.7 2423.6L1914.8 2424.2L1916.8 2424.8L1918.9 2425.4L1921.0 2425.9L1923.1 2426.5L1925.1 2427.1L1927.2 2427.7L1929.3 2428.3L1931.4 2428.9L1933.5 2429.4L1935.5 2430.0L1937.6 2430.6L1939.7 2431.2L1941.8 2431.8L1943.8 2432.3L1945.9 2432.9L1948.0 2433.5L1950.1 2434.1L1952.1 2434.6L1954.2 2435.2L1956.3 2435.8L1958.4 2436.4L1960.5 2436.9L1962.5 2437.5L1964.6 2438.1L1966.7 2438.6L1968.8 2439.2L1970.8 2439.8L1972.9 2440.3L1975.0 2440.9L1977.1 2441.5L1979.2 2442.0L1981.2 2442.6L1983.3 2443.1L1985.4 2443.7L1987.5 2444.3L1989.5 2444.8L1991.6 2445.4L1993.7 2445.9L1995.8 2446.5L1997.8 2447.0L1999.9 2447.6L2002.0 2448.2L2004.1 2448.7L2006.2 2449.3L2008.2 2449.8L2010.3 2450.4L2012.4 2450.9L2014.5 2451.5L2016.5 2452.0L2018.6 2452.6L2020.7 2453.1L2022.8 2453.6L2024.8 2454.2L2026.9 2454.7L2029.0 2455.3L2031.1 2455.8L2033.2 2456.4L2035.2 2456.9L2037.3 2457.4L2039.4 2458.0L2041.5 2458.5L2043.5 2459.1L2045.6 2459.6L2047.7 2460.1L2049.8 2460.7L2051.9 2461.2L2053.9 2461.8L2056.0 2462.3L2058.1 2462.8L2060.2 2463.4L2062.2 2463.9L2064.3 2464.4L2066.4 2465.0L2068.5 2465.5L2070.5 2466.0L2072.6 2466.6L2074.7 2467.1L2076.8 2467.6L2078.9 2468.1L2080.9 2468.7L2083.0 2469.2L2085.1 2469.7L2087.2 2470.2L2089.2 2470.7L2091.3 2471.3L2093.4 2471.8L2095.5 2472.3L2097.6 2472.8L2099.6 2473.3L2101.7 2473.8L2103.8 2474.4L2105.9 2474.9L2107.9 2475.4L2110.0 2475.9L2112.1 2476.4L2114.2 2476.9L2116.2 2477.4L2118.3 2477.9L2120.4 2478.4" fill="none" stroke="#0A6AE0" stroke-width="4.6" stroke-dasharray="27.5 14 6.2 14" />
<path d="M1291.6 2205.6L1293.7 2207.2L1295.8 2208.8L1297.8 2210.3L1299.9 2211.9L1302.0 2213.4L1304.1 2215.0L1306.1 2216.5L1308.2 2218.0L1310.3 2219.6L1312.4 2221.1L1314.4 2222.6L1316.5 2224.1L1318.6 2225.6L1320.7 2227.1L1322.8 2228.6L1324.8 2230.1L1326.9 2231.6L1329.0 2233.1L1331.1 2234.5L1333.1 2236.0L1335.2 2237.5L1337.3 2238.9L1339.4 2240.4L1341.5 2241.8L1343.5 2243.3L1345.6 2244.7L1347.7 2246.1L1349.8 2247.5L1351.8 2249.0L1353.9 2250.4L1356.0 2251.8L1358.1 2253.2L1360.1 2254.5L1362.2 2255.9L1364.3 2257.3L1366.4 2258.7L1368.5 2260.0L1370.5 2261.4L1372.6 2262.7L1374.7 2264.0L1376.8 2265.4L1378.8 2266.7L1380.9 2268.0L1383.0 2269.3L1385.1 2270.7L1387.2 2272.0L1389.2 2273.3L1391.3 2274.6L1393.4 2275.9L1395.5 2277.2L1397.5 2278.5L1399.6 2279.7L1401.7 2281.0L1403.8 2282.3L1405.8 2283.6L1407.9 2284.9L1410.0 2286.1L1412.1 2287.4L1414.2 2288.7L1416.2 2289.9L1418.3 2291.2L1420.4 2292.4L1422.5 2293.6L1424.5 2294.9L1426.6 2296.1L1428.7 2297.3L1430.8 2298.5L1432.8 2299.8L1434.9 2301.0L1437.0 2302.2L1439.1 2303.4L1441.2 2304.6L1443.2 2305.7L1445.3 2306.9L1447.4 2308.1L1449.5 2309.3L1451.5 2310.4L1453.6 2311.6L1455.7 2312.7L1457.8 2313.9L1459.9 2315.0L1461.9 2316.2L1464.0 2317.3L1466.1 2318.4L1468.2 2319.5L1470.2 2320.6L1472.3 2321.7L1474.4 2322.8L1476.5 2323.9L1478.5 2325.0L1480.6 2326.0L1482.7 2327.1L1484.8 2328.1L1486.9 2329.2L1488.9 2330.2L1491.0 2331.3L1493.1 2332.3L1495.2 2333.3L1497.2 2334.3L1499.3 2335.4L1501.4 2336.4L1503.5 2337.4L1505.6 2338.4L1507.6 2339.4L1509.7 2340.4L1511.8 2341.3L1513.9 2342.3L1515.9 2343.3L1518.0 2344.3L1520.1 2345.2L1522.2 2346.2L1524.2 2347.1L1526.3 2348.1L1528.4 2349.0L1530.5 2350.0L1532.6 2350.9L1534.6 2351.8L1536.7 2352.8L1538.8 2353.7L1540.9 2354.6L1542.9 2355.5L1545.0 2356.5L1547.1 2357.4L1549.2 2358.3L1551.2 2359.2L1553.3 2360.1L1555.4 2361.0L1557.5 2361.9L1559.6 2362.8L1561.6 2363.6L1563.7 2364.5L1565.8 2365.4L1567.9 2366.3L1569.9 2367.2L1572.0 2368.0L1574.1 2368.9L1576.2 2369.8L1578.3 2370.6L1580.3 2371.5L1582.4 2372.4L1584.5 2373.2L1586.6 2374.1L1588.6 2374.9L1590.7 2375.8L1592.8 2376.6L1594.9 2377.5L1596.9 2378.3L1599.0 2379.2L1601.1 2380.0L1603.2 2380.8L1605.3 2381.7L1607.3 2382.5L1609.4 2383.3L1611.5 2384.2L1613.6 2385.0L1615.6 2385.8L1617.7 2386.6L1619.8 2387.4L1621.9 2388.3L1624.0 2389.1L1626.0 2389.9L1628.1 2390.7L1630.2 2391.5L1632.3 2392.3L1634.3 2393.1L1636.4 2393.9L1638.5 2394.7L1640.6 2395.4L1642.6 2396.2L1644.7 2397.0L1646.8 2397.8L1648.9 2398.6L1651.0 2399.4L1653.0 2400.1L1655.1 2400.9L1657.2 2401.7L1659.3 2402.4L1661.3 2403.2L1663.4 2404.0L1665.5 2404.7L1667.6 2405.5L1669.6 2406.2L1671.7 2407.0L1673.8 2407.7L1675.9 2408.5L1678.0 2409.2L1680.0 2410.0L1682.1 2410.7L1684.2 2411.5L1686.3 2412.2L1688.3 2412.9L1690.4 2413.7L1692.5 2414.4L1694.6 2415.1L1696.7 2415.8L1698.7 2416.6L1700.8 2417.3L1702.9 2418.0L1705.0 2418.7L1707.0 2419.4L1709.1 2420.1L1711.2 2420.8L1713.3 2421.6L1715.3 2422.3L1717.4 2423.0L1719.5 2423.7L1721.6 2424.4L1723.7 2425.0L1725.7 2425.7L1727.8 2426.4L1729.9 2427.1L1732.0 2427.8L1734.0 2428.5L1736.1 2429.1L1738.2 2429.8L1740.3 2430.5L1742.4 2431.2L1744.4 2431.8L1746.5 2432.5L1748.6 2433.2L1750.7 2433.8L1752.7 2434.5L1754.8 2435.1L1756.9 2435.8L1759.0 2436.4L1761.0 2437.1L1763.1 2437.8L1765.2 2438.4L1767.3 2439.0L1769.4 2439.7L1771.4 2440.3L1773.5 2441.0L1775.6 2441.6L1777.7 2442.3L1779.7 2442.9L1781.8 2443.5L1783.9 2444.2L1786.0 2444.8L1788.0 2445.4L1790.1 2446.1L1792.2 2446.7L1794.3 2447.3L1796.4 2448.0L1798.4 2448.6L1800.5 2449.2L1802.6 2449.9L1804.7 2450.5L1806.7 2451.1L1808.8 2451.8L1810.9 2452.4L1813.0 2453.0L1815.1 2453.6L1817.1 2454.3L1819.2 2454.9L1821.3 2455.5L1823.4 2456.1L1825.4 2456.8L1827.5 2457.4L1829.6 2458.0L1831.7 2458.6L1833.7 2459.3L1835.8 2459.9L1837.9 2460.5L1840.0 2461.1L1842.1 2461.8L1844.1 2462.4L1846.2 2463.0L1848.3 2463.6L1850.4 2464.2L1852.4 2464.8L1854.5 2465.5L1856.6 2466.1L1858.7 2466.7L1860.8 2467.3L1862.8 2467.9L1864.9 2468.5L1867.0 2469.1L1869.1 2469.7L1871.1 2470.3L1873.2 2470.9L1875.3 2471.5L1877.4 2472.2L1879.4 2472.8L1881.5 2473.4L1883.6 2474.0L1885.7 2474.6L1887.8 2475.2L1889.8 2475.8L1891.9 2476.4L1894.0 2477.0L1896.1 2477.6L1898.1 2478.2L1900.2 2478.8L1902.3 2479.4L1904.4 2480.0L1906.4 2480.6L1908.5 2481.2L1910.6 2481.8L1912.7 2482.3L1914.8 2482.9L1916.8 2483.5L1918.9 2484.1L1921.0 2484.7L1923.1 2485.3L1925.1 2485.9L1927.2 2486.5L1929.3 2487.1L1931.4 2487.7L1933.5 2488.3L1935.5 2488.9L1937.6 2489.5L1939.7 2490.1L1941.8 2490.7L1943.8 2491.3L1945.9 2491.9L1948.0 2492.5L1950.1 2493.1L1952.1 2493.7L1954.2 2494.3L1956.3 2494.9L1958.4 2495.5L1960.5 2496.1L1962.5 2496.7L1964.6 2497.3L1966.7 2497.9L1968.8 2498.5L1970.8 2499.1L1972.9 2499.7L1975.0 2500.3L1977.1 2500.9L1979.2 2501.5L1981.2 2502.1L1983.3 2502.7L1985.4 2503.3L1987.5 2503.9L1989.5 2504.5L1991.6 2505.1L1993.7 2505.7L1995.8 2506.3L1997.8 2506.9L1999.9 2507.5L2002.0 2508.1L2004.1 2508.7L2006.2 2509.3L2008.2 2509.9L2010.3 2510.5L2012.4 2511.1L2014.5 2511.6L2016.5 2512.2L2018.6 2512.8L2020.7 2513.4L2021.8 2513.7L2021.8 1894.5L2022.8 1894.8L2024.8 1895.4L2026.9 1895.9L2029.0 1896.5L2031.1 1897.1L2033.2 1897.7L2035.2 1898.3L2037.3 1898.8L2039.4 1899.4L2041.5 1900.0L2043.5 1900.6L2045.6 1901.1L2047.7 1901.7L2049.8 1902.3L2051.9 1902.9L2053.9 1903.4L2056.0 1904.0L2058.1 1904.6L2060.2 1905.1L2062.2 1905.7L2064.3 1906.3L2066.4 1906.9L2068.5 1907.4L2070.5 1908.0L2072.6 1908.6L2074.7 1909.1L2076.8 1909.7L2078.9 1910.2L2080.9 1910.8L2083.0 1911.4L2085.1 1911.9L2087.2 1912.5L2089.2 1913.0L2091.3 1913.6L2093.4 1914.2L2095.5 1914.7L2097.6 1915.3L2099.6 1915.8L2101.7 1916.4L2103.8 1916.9L2105.9 1917.5L2107.9 1918.1L2110.0 1918.6L2112.1 1919.2L2114.2 1919.7L2116.2 1920.3L2118.3 1920.8L2120.4 1921.3" fill="none" stroke="#10A860" stroke-width="4.6" stroke-dasharray="27.5 14 6.2 14" />
<path d="M1291.6 2408.8L1293.7 2409.3L1295.8 2409.8L1297.8 2410.3L1299.9 2410.8L1302.0 2411.3L1304.1 2411.8L1306.1 2412.4L1308.2 2412.9L1310.3 2413.4L1312.4 2414.0L1314.4 2414.5L1316.5 2415.1L1318.6 2415.6L1320.7 2416.2L1322.8 2416.7L1324.8 2417.3L1326.9 2417.9L1329.0 2418.4L1331.1 2419.0L1333.1 2419.6L1335.2 2420.2L1337.3 2420.8L1339.4 2421.4L1341.5 2422.0L1343.5 2422.6L1345.6 2423.2L1347.7 2423.8L1349.8 2424.4L1351.8 2425.1L1353.9 2425.7L1356.0 2426.3L1358.1 2427.0L1360.1 2427.6L1362.2 2428.2L1364.3 2428.9L1366.4 2429.5L1368.5 2430.2L1370.5 2430.8L1372.6 2431.5L1374.7 2432.2L1376.8 2432.8L1378.8 2433.5L1380.9 2434.2L1383.0 2434.9L1385.1 2435.5L1387.2 2436.2L1389.2 2436.9L1391.3 2437.6L1393.4 2438.3L1395.5 2439.0L1397.5 2439.7L1399.6 2440.4L1401.7 2441.1L1403.8 2441.9L1405.8 2442.6L1407.9 2443.4L1410.0 2444.1L1412.1 2444.9L1414.2 2445.6L1416.2 2446.4L1418.3 2447.2L1420.4 2448.0L1422.5 2448.8L1424.5 2449.6L1426.6 2450.4L1428.7 2451.2L1430.8 2452.0L1432.8 2452.9L1434.9 2453.7L1437.0 2454.5L1439.1 2455.4L1441.2 2456.2L1443.2 2457.1L1445.3 2457.9L1447.4 2458.8L1449.5 2459.6L1451.5 2460.5L1453.6 2461.4L1455.7 2462.2L1457.8 2463.1L1459.9 2464.0L1461.9 2464.8L1464.0 2465.7L1466.1 2466.6L1468.2 2467.5L1470.2 2468.4L1472.3 2469.2L1474.4 2470.1L1476.5 2471.0L1478.5 2471.9L1480.6 2472.8L1482.7 2473.7L1484.8 2474.5L1486.9 2475.4L1488.9 2476.3L1491.0 2477.2L1493.1 2478.1L1495.2 2478.9L1497.2 2479.8L1499.3 2480.7L1501.4 2481.6L1503.5 2482.4L1505.6 2483.3L1507.6 2484.2L1509.7 2485.0L1511.8 2485.9L1513.9 2486.8L1515.9 2487.6L1518.0 2488.5L1520.1 2489.4L1522.2 2490.2L1524.2 2491.1L1526.3 2492.0L1528.4 2492.9L1530.5 2493.8L1532.6 2494.7L1534.6 2495.5L1536.7 2496.4L1538.8 2497.3L1540.9 2498.2L1542.9 2499.1L1545.0 2500.0L1547.1 2500.9L1549.2 2501.8L1551.2 2502.7L1553.3 2503.5L1555.4 2504.4L1557.5 2505.3L1559.6 2506.2L1561.6 2507.1L1563.7 2507.9L1565.8 2508.8L1567.9 2509.7L1569.9 2510.6L1572.0 2511.4L1574.1 2512.3L1576.2 2513.1L1577.5 2513.7L1577.5 1894.5L1578.3 1894.8L1580.3 1895.6L1582.4 1896.5L1584.5 1897.3L1586.6 1898.2L1588.6 1899.0L1590.7 1899.9L1592.8 1900.7L1594.9 1901.6L1596.9 1902.4L1599.0 1903.2L1601.1 1904.1L1603.2 1904.9L1605.3 1905.7L1607.3 1906.6L1609.4 1907.4L1611.5 1908.2L1613.6 1909.1L1615.6 1909.9L1617.7 1910.7L1619.8 1911.6L1621.9 1912.4L1624.0 1913.2L1626.0 1914.0L1628.1 1914.8L1630.2 1915.7L1632.3 1916.5L1634.3 1917.3L1636.4 1918.1L1638.5 1919.0L1640.6 1919.8L1642.6 1920.6L1644.7 1921.4L1646.8 1922.2L1648.9 1923.0L1651.0 1923.8L1653.0 1924.7L1655.1 1925.5L1657.2 1926.3L1659.3 1927.1L1661.3 1927.9L1663.4 1928.7L1665.5 1929.5L1667.6 1930.3L1669.6 1931.2L1671.7 1932.0L1673.8 1932.8L1675.9 1933.6L1678.0 1934.4L1680.0 1935.2L1682.1 1936.0L1684.2 1936.8L1686.3 1937.6L1688.3 1938.4L1690.4 1939.2L1692.5 1940.0L1694.6 1940.8L1696.7 1941.6L1698.7 1942.5L1700.8 1943.3L1702.9 1944.1L1705.0 1944.9L1707.0 1945.7L1709.1 1946.5L1711.2 1947.3L1713.3 1948.1L1715.3 1948.9L1717.4 1949.7L1719.5 1950.5L1721.6 1951.3L1723.7 1952.1L1725.7 1952.9L1727.8 1953.7L1729.9 1954.5L1732.0 1955.3L1734.0 1956.1L1736.1 1956.8L1738.2 1957.6L1740.3 1958.4L1742.4 1959.2L1744.4 1960.0L1746.5 1960.8L1748.6 1961.6L1750.7 1962.4L1752.7 1963.2L1754.8 1963.9L1756.9 1964.7L1759.0 1965.5L1761.0 1966.3L1763.1 1967.1L1765.2 1967.9L1767.3 1968.7L1769.4 1969.4L1771.4 1970.2L1773.5 1971.0L1775.6 1971.8L1777.7 1972.6L1779.7 1973.4L1781.8 1974.2L1783.9 1974.9L1786.0 1975.7L1788.0 1976.5L1790.1 1977.3L1792.2 1978.1L1794.3 1978.9L1796.4 1979.7L1798.4 1980.5L1800.5 1981.2L1802.6 1982.0L1804.7 1982.8L1806.7 1983.6L1808.8 1984.4L1810.9 1985.2L1813.0 1986.0L1815.1 1986.8L1817.1 1987.6L1819.2 1988.4L1821.3 1989.2L1823.4 1990.0L1825.4 1990.8L1827.5 1991.6L1829.6 1992.4L1831.7 1993.2L1833.7 1994.0L1835.8 1994.8L1837.9 1995.6L1840.0 1996.4L1842.1 1997.2L1844.1 1998.0L1846.2 1998.8L1848.3 1999.6L1850.4 2000.4L1852.4 2001.2L1854.5 2002.0L1856.6 2002.8L1858.7 2003.6L1860.8 2004.4L1862.8 2005.2L1864.9 2006.0L1867.0 2006.8L1869.1 2007.6L1871.1 2008.4L1873.2 2009.2L1875.3 2010.1L1877.4 2010.9L1879.4 2011.7L1881.5 2012.5L1883.6 2013.3L1885.7 2014.1L1887.8 2014.9L1889.8 2015.7L1891.9 2016.5L1894.0 2017.3L1896.1 2018.2L1898.1 2019.0L1900.2 2019.8L1902.3 2020.6L1904.4 2021.4L1906.4 2022.2L1908.5 2023.1L1910.6 2023.9L1912.7 2024.7L1914.8 2025.5L1916.8 2026.3L1918.9 2027.2L1921.0 2028.0L1923.1 2028.8L1925.1 2029.7L1927.2 2030.5L1929.3 2031.3L1931.4 2032.2L1933.5 2033.0L1935.5 2033.8L1937.6 2034.7L1939.7 2035.5L1941.8 2036.4L1943.8 2037.2L1945.9 2038.1L1948.0 2038.9L1950.1 2039.8L1952.1 2040.6L1954.2 2041.5L1956.3 2042.4L1958.4 2043.2L1960.5 2044.1L1962.5 2045.0L1964.6 2045.9L1966.7 2046.7L1968.8 2047.6L1970.8 2048.5L1972.9 2049.4L1975.0 2050.3L1977.1 2051.1L1979.2 2052.0L1981.2 2052.9L1983.3 2053.8L1985.4 2054.7L1987.5 2055.6L1989.5 2056.5L1991.6 2057.4L1993.7 2058.2L1995.8 2059.1L1997.8 2060.0L1999.9 2060.9L2002.0 2061.8L2004.1 2062.7L2006.2 2063.6L2008.2 2064.5L2010.3 2065.4L2012.4 2066.3L2014.5 2067.2L2016.5 2068.0L2018.6 2068.9L2020.7 2069.8L2022.8 2070.7L2024.8 2071.6L2026.9 2072.5L2029.0 2073.4L2031.1 2074.2L2033.2 2075.1L2035.2 2076.0L2037.3 2076.9L2039.4 2077.8L2041.5 2078.6L2043.5 2079.5L2045.6 2080.4L2047.7 2081.2L2049.8 2082.1L2051.9 2082.9L2053.9 2083.8L2056.0 2084.7L2058.1 2085.5L2060.2 2086.4L2062.2 2087.2L2064.3 2088.1L2066.4 2088.9L2068.5 2089.8L2070.5 2090.6L2072.6 2091.5L2074.7 2092.3L2076.8 2093.2L2078.9 2094.0L2080.9 2094.9L2083.0 2095.7L2085.1 2096.6L2087.2 2097.4L2089.2 2098.2L2091.3 2099.1L2093.4 2099.9L2095.5 2100.7L2097.6 2101.6L2099.6 2102.4L2101.7 2103.2L2103.8 2104.0L2105.9 2104.8L2107.9 2105.7L2110.0 2106.5L2112.1 2107.3L2114.2 2108.0L2116.2 2108.8L2118.3 2109.6L2120.4 2110.4" fill="none" stroke="#D89A08" stroke-width="4.6" stroke-dasharray="27.5 14 6.2 14" />
<path d="M1291.6 2483.8L1293.7 2484.3L1295.8 2484.9L1297.8 2485.4L1299.9 2486.0L1302.0 2486.6L1304.1 2487.2L1306.1 2487.8L1308.2 2488.4L1310.3 2489.0L1312.4 2489.6L1314.4 2490.2L1316.5 2490.8L1318.6 2491.5L1320.7 2492.1L1322.8 2492.7L1324.8 2493.4L1326.9 2494.1L1329.0 2494.7L1331.1 2495.4L1333.1 2496.1L1335.2 2496.7L1337.3 2497.4L1339.4 2498.1L1341.5 2498.8L1343.5 2499.5L1345.6 2500.2L1347.7 2500.9L1349.8 2501.6L1351.8 2502.3L1353.9 2503.1L1356.0 2503.8L1358.1 2504.5L1360.1 2505.3L1362.2 2506.0L1364.3 2506.7L1366.4 2507.5L1368.5 2508.2L1370.5 2509.0L1372.6 2509.8L1374.7 2510.5L1376.8 2511.3L1378.8 2512.1L1380.9 2512.9L1383.0 2513.6L1383.2 2513.7L1383.2 1894.5L1385.1 1895.2L1387.2 1896.0L1389.2 1896.8L1391.3 1897.7L1393.4 1898.5L1395.5 1899.4L1397.5 1900.2L1399.6 1901.1L1401.7 1902.0L1403.8 1902.9L1405.8 1903.8L1407.9 1904.7L1410.0 1905.6L1412.1 1906.5L1414.2 1907.4L1416.2 1908.4L1418.3 1909.3L1420.4 1910.2L1422.5 1911.2L1424.5 1912.1L1426.6 1913.1L1428.7 1914.0L1430.8 1914.9L1432.8 1915.9L1434.9 1916.8L1437.0 1917.8L1439.1 1918.7L1441.2 1919.6L1443.2 1920.6L1445.3 1921.5L1447.4 1922.4L1449.5 1923.3L1451.5 1924.2L1453.6 1925.1L1455.7 1926.1L1457.8 1927.0L1459.9 1927.9L1461.9 1928.8L1464.0 1929.7L1466.1 1930.7L1468.2 1931.6L1470.2 1932.5L1472.3 1933.4L1474.4 1934.4L1476.5 1935.3L1478.5 1936.2L1480.6 1937.1L1482.7 1938.1L1484.8 1939.0L1486.9 1939.9L1488.9 1940.9L1491.0 1941.8L1493.1 1942.7L1495.2 1943.7L1497.2 1944.6L1499.3 1945.5L1501.4 1946.5L1503.5 1947.4L1505.6 1948.3L1507.6 1949.3L1509.7 1950.2L1511.8 1951.1L1513.9 1952.1L1515.9 1953.0L1518.0 1953.9L1520.1 1954.9L1522.2 1955.8L1524.2 1956.8L1526.3 1957.7L1528.4 1958.6L1530.5 1959.6L1532.6 1960.5L1534.6 1961.4L1536.7 1962.4L1538.8 1963.3L1540.9 1964.2L1542.9 1965.2L1545.0 1966.1L1547.1 1967.0L1549.2 1968.0L1551.2 1968.9L1553.3 1969.8L1555.4 1970.8L1557.5 1971.7L1559.6 1972.6L1561.6 1973.5L1563.7 1974.5L1565.8 1975.4L1567.9 1976.3L1569.9 1977.2L1572.0 1978.2L1574.1 1979.1L1576.2 1980.0L1578.3 1980.9L1580.3 1981.9L1582.4 1982.8L1584.5 1983.7L1586.6 1984.6L1588.6 1985.5L1590.7 1986.4L1592.8 1987.3L1594.9 1988.3L1596.9 1989.2L1599.0 1990.1L1601.1 1991.0L1603.2 1991.9L1605.3 1992.8L1607.3 1993.7L1609.4 1994.6L1611.5 1995.5L1613.6 1996.4L1615.6 1997.3L1617.7 1998.2L1619.8 1999.1L1621.9 2000.0L1624.0 2000.9L1626.0 2001.8L1628.1 2002.7L1630.2 2003.6L1632.3 2004.5L1634.3 2005.4L1636.4 2006.3L1638.5 2007.2L1640.6 2008.1L1642.6 2009.0L1644.7 2009.9L1646.8 2010.8L1648.9 2011.7L1651.0 2012.6L1653.0 2013.5L1655.1 2014.3L1657.2 2015.2L1659.3 2016.1L1661.3 2017.0L1663.4 2017.9L1665.5 2018.9L1667.6 2019.8L1669.6 2020.7L1671.7 2021.6L1673.8 2022.5L1675.9 2023.4L1678.0 2024.3L1680.0 2025.2L1682.1 2026.1L1684.2 2027.0L1686.3 2027.9L1688.3 2028.9L1690.4 2029.8L1692.5 2030.7L1694.6 2031.6L1696.7 2032.5L1698.7 2033.5L1700.8 2034.4L1702.9 2035.3L1705.0 2036.2L1707.0 2037.2L1709.1 2038.1L1711.2 2039.1L1713.3 2040.0L1715.3 2040.9L1717.4 2041.9L1719.5 2042.8L1721.6 2043.8L1723.7 2044.7L1725.7 2045.7L1727.8 2046.6L1729.9 2047.6L1732.0 2048.5L1734.0 2049.5L1736.1 2050.5L1738.2 2051.4L1740.3 2052.4L1742.4 2053.3L1744.4 2054.3L1746.5 2055.3L1748.6 2056.2L1750.7 2057.2L1752.7 2058.1L1754.8 2059.1L1756.9 2060.1L1759.0 2061.0L1761.0 2062.0L1763.1 2063.0L1765.2 2063.9L1767.3 2064.9L1769.4 2065.9L1771.4 2066.8L1773.5 2067.8L1775.6 2068.8L1777.7 2069.7L1779.7 2070.7L1781.8 2071.6L1783.9 2072.6L1786.0 2073.6L1788.0 2074.5L1790.1 2075.5L1792.2 2076.4L1794.3 2077.4L1796.4 2078.3L1798.4 2079.3L1800.5 2080.2L1802.6 2081.2L1804.7 2082.1L1806.7 2083.1L1808.8 2084.0L1810.9 2085.0L1813.0 2085.9L1815.1 2086.8L1817.1 2087.8L1819.2 2088.7L1821.3 2089.6L1823.4 2090.5L1825.4 2091.5L1827.5 2092.4L1829.6 2093.3L1831.7 2094.2L1833.7 2095.2L1835.8 2096.1L1837.9 2097.0L1840.0 2097.9L1842.1 2098.8L1844.1 2099.8L1846.2 2100.7L1848.3 2101.6L1850.4 2102.5L1852.4 2103.4L1854.5 2104.3L1856.6 2105.2L1858.7 2106.1L1860.8 2107.0L1862.8 2108.0L1864.9 2108.9L1867.0 2109.8L1869.1 2110.7L1871.1 2111.6L1873.2 2112.5L1875.3 2113.4L1877.4 2114.3L1879.4 2115.2L1881.5 2116.1L1883.6 2117.0L1885.7 2117.9L1887.8 2118.8L1889.8 2119.8L1891.9 2120.7L1894.0 2121.6L1896.1 2122.5L1898.1 2123.4L1900.2 2124.3L1902.3 2125.2L1904.4 2126.1L1906.4 2127.0L1908.5 2128.0L1910.6 2128.9L1912.7 2129.8L1914.8 2130.7L1916.8 2131.6L1918.9 2132.5L1921.0 2133.5L1923.1 2134.4L1925.1 2135.3L1927.2 2136.2L1929.3 2137.2L1931.4 2138.1L1933.5 2139.0L1935.5 2139.9L1937.6 2140.9L1939.7 2141.8L1941.8 2142.7L1943.8 2143.7L1945.9 2144.6L1948.0 2145.5L1950.1 2146.5L1952.1 2147.4L1954.2 2148.4L1956.3 2149.3L1958.4 2150.2L1960.5 2151.2L1962.5 2152.1L1964.6 2153.1L1966.7 2154.0L1968.8 2154.9L1970.8 2155.9L1972.9 2156.8L1975.0 2157.8L1977.1 2158.7L1979.2 2159.7L1981.2 2160.6L1983.3 2161.5L1985.4 2162.5L1987.5 2163.4L1989.5 2164.4L1991.6 2165.3L1993.7 2166.3L1995.8 2167.2L1997.8 2168.2L1999.9 2169.1L2002.0 2170.0L2004.1 2171.0L2006.2 2171.9L2008.2 2172.9L2010.3 2173.8L2012.4 2174.8L2014.5 2175.7L2016.5 2176.6L2018.6 2177.6L2020.7 2178.5L2022.8 2179.5L2024.8 2180.4L2026.9 2181.3L2029.0 2182.3L2031.1 2183.2L2033.2 2184.1L2035.2 2185.1L2037.3 2186.0L2039.4 2186.9L2041.5 2187.8L2043.5 2188.8L2045.6 2189.7L2047.7 2190.6L2049.8 2191.6L2051.9 2192.5L2053.9 2193.4L2056.0 2194.3L2058.1 2195.3L2060.2 2196.2L2062.2 2197.1L2064.3 2198.1L2066.4 2199.0L2068.5 2199.9L2070.5 2200.8L2072.6 2201.8L2074.7 2202.7L2076.8 2203.6L2078.9 2204.5L2080.9 2205.4L2083.0 2206.3L2085.1 2207.3L2087.2 2208.2L2089.2 2209.1L2091.3 2210.0L2093.4 2210.9L2095.5 2211.8L2097.6 2212.7L2099.6 2213.5L2101.7 2214.4L2103.8 2215.3L2105.9 2216.2L2107.9 2217.0L2110.0 2217.9L2112.1 2218.8L2114.2 2219.6L2116.2 2220.5L2118.3 2221.3L2120.4 2222.2" fill="none" stroke="#10CCCC" stroke-width="4.6" stroke-dasharray="27.5 14 6.2 14" />
<path d="M1291.6 1925.8L1293.7 1926.6L1295.8 1927.3L1297.8 1928.1L1299.9 1928.9L1302.0 1929.7L1304.1 1930.5L1306.1 1931.2L1308.2 1932.0L1310.3 1932.8L1312.4 1933.6L1314.4 1934.4L1316.5 1935.2L1318.6 1936.0L1320.7 1936.9L1322.8 1937.7L1324.8 1938.5L1326.9 1939.3L1329.0 1940.2L1331.1 1941.0L1333.1 1941.8L1335.2 1942.7L1337.3 1943.5L1339.4 1944.4L1341.5 1945.2L1343.5 1946.1L1345.6 1946.9L1347.7 1947.8L1349.8 1948.6L1351.8 1949.5L1353.9 1950.4L1356.0 1951.3L1358.1 1952.1L1360.1 1953.0L1362.2 1953.9L1364.3 1954.8L1366.4 1955.7L1368.5 1956.6L1370.5 1957.5L1372.6 1958.4L1374.7 1959.3L1376.8 1960.2L1378.8 1961.1L1380.9 1962.0L1383.0 1963.0L1385.1 1963.9L1387.2 1964.8L1389.2 1965.7L1391.3 1966.7L1393.4 1967.6L1395.5 1968.6L1397.5 1969.5L1399.6 1970.5L1401.7 1971.5L1403.8 1972.4L1405.8 1973.4L1407.9 1974.4L1410.0 1975.4L1412.1 1976.4L1414.2 1977.4L1416.2 1978.4L1418.3 1979.4L1420.4 1980.4L1422.5 1981.4L1424.5 1982.4L1426.6 1983.5L1428.7 1984.5L1430.8 1985.5L1432.8 1986.5L1434.9 1987.6L1437.0 1988.6L1439.1 1989.7L1441.2 1990.7L1443.2 1991.7L1445.3 1992.8L1447.4 1993.8L1449.5 1994.9L1451.5 1996.0L1453.6 1997.0L1455.7 1998.1L1457.8 1999.1L1459.9 2000.2L1461.9 2001.3L1464.0 2002.3L1466.1 2003.4L1468.2 2004.5L1470.2 2005.5L1472.3 2006.6L1474.4 2007.7L1476.5 2008.7L1478.5 2009.8L1480.6 2010.9L1482.7 2012.0L1484.8 2013.0L1486.9 2014.1L1488.9 2015.2L1491.0 2016.2L1493.1 2017.3L1495.2 2018.4L1497.2 2019.4L1499.3 2020.5L1501.4 2021.6L1503.5 2022.6L1505.6 2023.7L1507.6 2024.8L1509.7 2025.9L1511.8 2027.0L1513.9 2028.1L1515.9 2029.1L1518.0 2030.2L1520.1 2031.3L1522.2 2032.4L1524.2 2033.5L1526.3 2034.7L1528.4 2035.8L1530.5 2036.9L1532.6 2038.0L1534.6 2039.1L1536.7 2040.2L1538.8 2041.3L1540.9 2042.4L1542.9 2043.6L1545.0 2044.7L1547.1 2045.8L1549.2 2046.9L1551.2 2048.0L1553.3 2049.2L1555.4 2050.3L1557.5 2051.4L1559.6 2052.5L1561.6 2053.6L1563.7 2054.8L1565.8 2055.9L1567.9 2057.0L1569.9 2058.1L1572.0 2059.2L1574.1 2060.3L1576.2 2061.5L1578.3 2062.6L1580.3 2063.7L1582.4 2064.8L1584.5 2065.9L1586.6 2067.0L1588.6 2068.1L1590.7 2069.2L1592.8 2070.3L1594.9 2071.3L1596.9 2072.4L1599.0 2073.5L1601.1 2074.6L1603.2 2075.7L1605.3 2076.7L1607.3 2077.8L1609.4 2078.9L1611.5 2079.9L1613.6 2081.0L1615.6 2082.0L1617.7 2083.1L1619.8 2084.1L1621.9 2085.2L1624.0 2086.2L1626.0 2087.3L1628.1 2088.3L1630.2 2089.4L1632.3 2090.4L1634.3 2091.5L1636.4 2092.5L1638.5 2093.6L1640.6 2094.6L1642.6 2095.7L1644.7 2096.7L1646.8 2097.7L1648.9 2098.8L1651.0 2099.8L1653.0 2100.8L1655.1 2101.9L1657.2 2102.9L1659.3 2103.9L1661.3 2105.0L1663.4 2106.0L1665.5 2107.0L1667.6 2108.0L1669.6 2109.1L1671.7 2110.1L1673.8 2111.1L1675.9 2112.1L1678.0 2113.1L1680.0 2114.1L1682.1 2115.2L1684.2 2116.2L1686.3 2117.2L1688.3 2118.2L1690.4 2119.2L1692.5 2120.2L1694.6 2121.2L1696.7 2122.2L1698.7 2123.2L1700.8 2124.2L1702.9 2125.2L1705.0 2126.2L1707.0 2127.2L1709.1 2128.2L1711.2 2129.2L1713.3 2130.2L1715.3 2131.2L1717.4 2132.1L1719.5 2133.1L1721.6 2134.1L1723.7 2135.1L1725.7 2136.1L1727.8 2137.1L1729.9 2138.0L1732.0 2139.0L1734.0 2140.0L1736.1 2141.0L1738.2 2141.9L1740.3 2142.9L1742.4 2143.9L1744.4 2144.8L1746.5 2145.8L1748.6 2146.8L1750.7 2147.7L1752.7 2148.7L1754.8 2149.7L1756.9 2150.6L1759.0 2151.6L1761.0 2152.6L1763.1 2153.5L1765.2 2154.5L1767.3 2155.4L1769.4 2156.4L1771.4 2157.3L1773.5 2158.3L1775.6 2159.2L1777.7 2160.2L1779.7 2161.1L1781.8 2162.1L1783.9 2163.0L1786.0 2163.9L1788.0 2164.9L1790.1 2165.8L1792.2 2166.8L1794.3 2167.7L1796.4 2168.6L1798.4 2169.6L1800.5 2170.5L1802.6 2171.4L1804.7 2172.3L1806.7 2173.3L1808.8 2174.2L1810.9 2175.1L1813.0 2176.0L1815.1 2176.9L1817.1 2177.8L1819.2 2178.8L1821.3 2179.7L1823.4 2180.6L1825.4 2181.5L1827.5 2182.4L1829.6 2183.3L1831.7 2184.2L1833.7 2185.1L1835.8 2186.0L1837.9 2186.9L1840.0 2187.8L1842.1 2188.7L1844.1 2189.5L1846.2 2190.4L1848.3 2191.3L1850.4 2192.1L1852.4 2193.0L1854.5 2193.9L1856.6 2194.7L1858.7 2195.6L1860.8 2196.5L1862.8 2197.3L1864.9 2198.2L1867.0 2199.0L1869.1 2199.9L1871.1 2200.8L1873.2 2201.6L1875.3 2202.5L1877.4 2203.3L1879.4 2204.2L1881.5 2205.1L1883.6 2205.9L1885.7 2206.8L1887.8 2207.6L1889.8 2208.5L1891.9 2209.4L1894.0 2210.2L1896.1 2211.1L1898.1 2212.0L1900.2 2212.9L1902.3 2213.7L1904.4 2214.6L1906.4 2215.5L1908.5 2216.4L1910.6 2217.3L1912.7 2218.1L1914.8 2219.0L1916.8 2219.9L1918.9 2220.8L1921.0 2221.7L1923.1 2222.6L1925.1 2223.4L1927.2 2224.3L1929.3 2225.2L1931.4 2226.1L1933.5 2227.0L1935.5 2227.9L1937.6 2228.8L1939.7 2229.6L1941.8 2230.5L1943.8 2231.4L1945.9 2232.3L1948.0 2233.2L1950.1 2234.0L1952.1 2234.9L1954.2 2235.8L1956.3 2236.7L1958.4 2237.5L1960.5 2238.4L1962.5 2239.3L1964.6 2240.2L1966.7 2241.0L1968.8 2241.9L1970.8 2242.7L1972.9 2243.6L1975.0 2244.5L1977.1 2245.3L1979.2 2246.2L1981.2 2247.0L1983.3 2247.9L1985.4 2248.7L1987.5 2249.5L1989.5 2250.4L1991.6 2251.2L1993.7 2252.0L1995.8 2252.8L1997.8 2253.7L1999.9 2254.5L2002.0 2255.3L2004.1 2256.1L2006.2 2256.9L2008.2 2257.7L2010.3 2258.5L2012.4 2259.3L2014.5 2260.1L2016.5 2260.9L2018.6 2261.6L2020.7 2262.4L2022.8 2263.2L2024.8 2264.0L2026.9 2264.7L2029.0 2265.5L2031.1 2266.3L2033.2 2267.0L2035.2 2267.8L2037.3 2268.6L2039.4 2269.3L2041.5 2270.1L2043.5 2270.8L2045.6 2271.6L2047.7 2272.3L2049.8 2273.1L2051.9 2273.8L2053.9 2274.6L2056.0 2275.3L2058.1 2276.0L2060.2 2276.8L2062.2 2277.5L2064.3 2278.3L2066.4 2279.0L2068.5 2279.7L2070.5 2280.5L2072.6 2281.2L2074.7 2282.0L2076.8 2282.7L2078.9 2283.4L2080.9 2284.2L2083.0 2284.9L2085.1 2285.7L2087.2 2286.4L2089.2 2287.1L2091.3 2287.9L2093.4 2288.6L2095.5 2289.4L2097.6 2290.1L2099.6 2290.9L2101.7 2291.6L2103.8 2292.3L2105.9 2293.1L2107.9 2293.8L2110.0 2294.5L2112.1 2295.3L2114.2 2296.0L2116.2 2296.7L2118.3 2297.5L2120.4 2298.2" fill="none" stroke="#7C3A3A" stroke-width="4.6" stroke-dasharray="27.5 14 6.2 14" />
<path d="M1291.6 2313.5L1293.7 2314.4L1295.8 2315.3L1297.8 2316.2L1299.9 2317.2L1302.0 2318.1L1304.1 2319.0L1306.1 2319.9L1308.2 2320.8L1310.3 2321.8L1312.4 2322.7L1314.4 2323.6L1316.5 2324.6L1318.6 2325.5L1320.7 2326.4L1322.8 2327.4L1324.8 2328.3L1326.9 2329.2L1329.0 2330.2L1331.1 2331.1L1333.1 2332.0L1335.2 2333.0L1337.3 2333.9L1339.4 2334.9L1341.5 2335.8L1343.5 2336.8L1345.6 2337.7L1347.7 2338.7L1349.8 2339.6L1351.8 2340.6L1353.9 2341.5L1356.0 2342.5L1358.1 2343.5L1360.1 2344.4L1362.2 2345.4L1364.3 2346.3L1366.4 2347.3L1368.5 2348.3L1370.5 2349.2L1372.6 2350.2L1374.7 2351.2L1376.8 2352.2L1378.8 2353.1L1380.9 2354.1L1383.0 2355.1L1385.1 2356.1L1387.2 2357.0L1389.2 2358.0L1391.3 2359.0L1393.4 2360.0L1395.5 2361.0L1397.5 2362.0L1399.6 2363.1L1401.7 2364.1L1403.8 2365.1L1405.8 2366.1L1407.9 2367.2L1410.0 2368.2L1412.1 2369.2L1414.2 2370.3L1416.2 2371.3L1418.3 2372.4L1420.4 2373.4L1422.5 2374.5L1424.5 2375.5L1426.6 2376.6L1428.7 2377.6L1430.8 2378.6L1432.8 2379.7L1434.9 2380.7L1437.0 2381.8L1439.1 2382.8L1441.2 2383.9L1443.2 2384.9L1445.3 2386.0L1447.4 2387.0L1449.5 2388.0L1451.5 2389.1L1453.6 2390.1L1455.7 2391.1L1457.8 2392.1L1459.9 2393.1L1461.9 2394.1L1464.0 2395.2L1466.1 2396.1L1468.2 2397.1L1470.2 2398.1L1472.3 2399.1L1474.4 2400.1L1476.5 2401.0L1478.5 2402.0L1480.6 2402.9L1482.7 2403.9L1484.8 2404.8L1486.9 2405.7L1488.9 2406.7L1491.0 2407.6L1493.1 2408.5L1495.2 2409.4L1497.2 2410.3L1499.3 2411.2L1501.4 2412.1L1503.5 2413.0L1505.6 2413.9L1507.6 2414.7L1509.7 2415.6L1511.8 2416.5L1513.9 2417.4L1515.9 2418.3L1518.0 2419.1L1520.1 2420.0L1522.2 2420.8L1524.2 2421.7L1526.3 2422.6L1528.4 2423.4L1530.5 2424.2L1532.6 2425.1L1534.6 2425.9L1536.7 2426.8L1538.8 2427.6L1540.9 2428.4L1542.9 2429.3L1545.0 2430.1L1547.1 2430.9L1549.2 2431.8L1551.2 2432.6L1553.3 2433.4L1555.4 2434.2L1557.5 2435.0L1559.6 2435.8L1561.6 2436.6L1563.7 2437.4L1565.8 2438.2L1567.9 2439.1L1569.9 2439.9L1572.0 2440.7L1574.1 2441.4L1576.2 2442.2L1578.3 2443.0L1580.3 2443.8L1582.4 2444.6L1584.5 2445.4L1586.6 2446.2L1588.6 2447.0L1590.7 2447.7L1592.8 2448.5L1594.9 2449.3L1596.9 2450.1L1599.0 2450.8L1601.1 2451.6L1603.2 2452.3L1605.3 2453.1L1607.3 2453.9L1609.4 2454.6L1611.5 2455.4L1613.6 2456.1L1615.6 2456.9L1617.7 2457.6L1619.8 2458.3L1621.9 2459.1L1624.0 2459.8L1626.0 2460.6L1628.1 2461.3L1630.2 2462.0L1632.3 2462.8L1634.3 2463.5L1636.4 2464.2L1638.5 2465.0L1640.6 2465.7L1642.6 2466.4L1644.7 2467.1L1646.8 2467.9L1648.9 2468.6L1651.0 2469.3L1653.0 2470.0L1655.1 2470.8L1657.2 2471.5L1659.3 2472.2L1661.3 2472.9L1663.4 2473.6L1665.5 2474.4L1667.6 2475.1L1669.6 2475.8L1671.7 2476.5L1673.8 2477.2L1675.9 2477.9L1678.0 2478.7L1680.0 2479.4L1682.1 2480.1L1684.2 2480.8L1686.3 2481.5L1688.3 2482.3L1690.4 2483.0L1692.5 2483.7L1694.6 2484.4L1696.7 2485.1L1698.7 2485.9L1700.8 2486.6L1702.9 2487.3L1705.0 2488.0L1707.0 2488.8L1709.1 2489.5L1711.2 2490.2L1713.3 2490.9L1715.3 2491.7L1717.4 2492.4L1719.5 2493.1L1721.6 2493.8L1723.7 2494.5L1725.7 2495.3L1727.8 2496.0L1729.9 2496.7L1732.0 2497.4L1734.0 2498.1L1736.1 2498.9L1738.2 2499.6L1740.3 2500.3L1742.4 2501.0L1744.4 2501.7L1746.5 2502.4L1748.6 2503.1L1750.7 2503.9L1752.7 2504.6L1754.8 2505.3L1756.9 2506.0L1759.0 2506.7L1761.0 2507.4L1763.1 2508.1L1765.2 2508.8L1767.3 2509.5L1769.4 2510.2L1771.4 2510.9L1773.5 2511.6L1775.6 2512.3L1777.7 2513.0L1779.7 2513.7L1779.8 2513.7L1779.8 1894.5L1781.8 1895.2L1783.9 1895.9L1786.0 1896.6L1788.0 1897.3L1790.1 1897.9L1792.2 1898.6L1794.3 1899.3L1796.4 1900.0L1798.4 1900.7L1800.5 1901.3L1802.6 1902.0L1804.7 1902.7L1806.7 1903.4L1808.8 1904.1L1810.9 1904.7L1813.0 1905.4L1815.1 1906.1L1817.1 1906.7L1819.2 1907.4L1821.3 1908.1L1823.4 1908.7L1825.4 1909.4L1827.5 1910.1L1829.6 1910.7L1831.7 1911.4L1833.7 1912.1L1835.8 1912.7L1837.9 1913.4L1840.0 1914.1L1842.1 1914.7L1844.1 1915.4L1846.2 1916.1L1848.3 1916.7L1850.4 1917.4L1852.4 1918.0L1854.5 1918.7L1856.6 1919.4L1858.7 1920.0L1860.8 1920.7L1862.8 1921.4L1864.9 1922.0L1867.0 1922.7L1869.1 1923.4L1871.1 1924.0L1873.2 1924.7L1875.3 1925.4L1877.4 1926.0L1879.4 1926.7L1881.5 1927.4L1883.6 1928.0L1885.7 1928.7L1887.8 1929.4L1889.8 1930.0L1891.9 1930.7L1894.0 1931.4L1896.1 1932.1L1898.1 1932.7L1900.2 1933.4L1902.3 1934.1L1904.4 1934.8L1906.4 1935.4L1908.5 1936.1L1910.6 1936.8L1912.7 1937.5L1914.8 1938.2L1916.8 1938.9L1918.9 1939.6L1921.0 1940.3L1923.1 1940.9L1925.1 1941.6L1927.2 1942.3L1929.3 1943.0L1931.4 1943.7L1933.5 1944.4L1935.5 1945.1L1937.6 1945.8L1939.7 1946.5L1941.8 1947.2L1943.8 1947.9L1945.9 1948.6L1948.0 1949.2L1950.1 1949.9L1952.1 1950.6L1954.2 1951.3L1956.3 1952.0L1958.4 1952.7L1960.5 1953.4L1962.5 1954.1L1964.6 1954.8L1966.7 1955.5L1968.8 1956.2L1970.8 1956.9L1972.9 1957.6L1975.0 1958.3L1977.1 1959.0L1979.2 1959.7L1981.2 1960.4L1983.3 1961.1L1985.4 1961.9L1987.5 1962.6L1989.5 1963.3L1991.6 1964.0L1993.7 1964.7L1995.8 1965.4L1997.8 1966.1L1999.9 1966.8L2002.0 1967.5L2004.1 1968.2L2006.2 1968.9L2008.2 1969.6L2010.3 1970.4L2012.4 1971.1L2014.5 1971.8L2016.5 1972.5L2018.6 1973.2L2020.7 1973.9L2022.8 1974.6L2024.8 1975.3L2026.9 1976.1L2029.0 1976.8L2031.1 1977.5L2033.2 1978.2L2035.2 1978.9L2037.3 1979.6L2039.4 1980.4L2041.5 1981.1L2043.5 1981.8L2045.6 1982.5L2047.7 1983.2L2049.8 1984.0L2051.9 1984.7L2053.9 1985.4L2056.0 1986.1L2058.1 1986.8L2060.2 1987.6L2062.2 1988.3L2064.3 1989.0L2066.4 1989.7L2068.5 1990.5L2070.5 1991.2L2072.6 1991.9L2074.7 1992.6L2076.8 1993.4L2078.9 1994.1L2080.9 1994.8L2083.0 1995.6L2085.1 1996.3L2087.2 1997.0L2089.2 1997.8L2091.3 1998.5L2093.4 1999.2L2095.5 2000.0L2097.6 2000.7L2099.6 2001.4L2101.7 2002.2L2103.8 2002.9L2105.9 2003.7L2107.9 2004.4L2110.0 2005.1L2112.1 2005.9L2114.2 2006.6L2116.2 2007.4L2118.3 2008.1L2120.4 2008.9" fill="none" stroke="#C07AE0" stroke-width="4.5"  />
</g>
<rect x="1291.6" y="1894.5" width="828.8000000000002" height="619.1999999999998" fill="none" stroke="#000" stroke-width="7.2"/><line x1="1291.6" y1="2516.3" x2="1291.6" y2="2526.3" stroke="#000" stroke-width="7" /><line x1="1291.6" y1="1897.1" x2="1291.6" y2="1905.1" stroke="#000" stroke-width="7" /><line x1="1498.8" y1="2516.3" x2="1498.8" y2="2526.3" stroke="#000" stroke-width="7" /><line x1="1498.8" y1="1897.1" x2="1498.8" y2="1905.1" stroke="#000" stroke-width="7" /><line x1="1706.0" y1="2516.3" x2="1706.0" y2="2526.3" stroke="#000" stroke-width="7" /><line x1="1706.0" y1="1897.1" x2="1706.0" y2="1905.1" stroke="#000" stroke-width="7" /><line x1="1913.2" y1="2516.3" x2="1913.2" y2="2526.3" stroke="#000" stroke-width="7" /><line x1="1913.2" y1="1897.1" x2="1913.2" y2="1905.1" stroke="#000" stroke-width="7" /><line x1="2120.4" y1="2516.3" x2="2120.4" y2="2526.3" stroke="#000" stroke-width="7" /><line x1="2120.4" y1="1897.1" x2="2120.4" y2="1905.1" stroke="#000" stroke-width="7" /><line x1="1395.2" y1="2516.3" x2="1395.2" y2="2521.3" stroke="#000" stroke-width="6" /><line x1="1395.2" y1="1897.1" x2="1395.2" y2="1901.1" stroke="#000" stroke-width="6" /><line x1="1602.4" y1="2516.3" x2="1602.4" y2="2521.3" stroke="#000" stroke-width="6" /><line x1="1602.4" y1="1897.1" x2="1602.4" y2="1901.1" stroke="#000" stroke-width="6" /><line x1="1809.6" y1="2516.3" x2="1809.6" y2="2521.3" stroke="#000" stroke-width="6" /><line x1="1809.6" y1="1897.1" x2="1809.6" y2="1901.1" stroke="#000" stroke-width="6" /><line x1="2016.8" y1="2516.3" x2="2016.8" y2="2521.3" stroke="#000" stroke-width="6" /><line x1="2016.8" y1="1897.1" x2="2016.8" y2="1901.1" stroke="#000" stroke-width="6" /><line x1="1289.0" y1="2513.7" x2="1278.0" y2="2513.7" stroke="#000" stroke-width="7" /><line x1="2117.8" y1="2513.7" x2="2108.8" y2="2513.7" stroke="#000" stroke-width="7" /><line x1="1289.0" y1="2410.5" x2="1278.0" y2="2410.5" stroke="#000" stroke-width="7" /><line x1="2117.8" y1="2410.5" x2="2108.8" y2="2410.5" stroke="#000" stroke-width="7" /><line x1="1289.0" y1="2307.3" x2="1278.0" y2="2307.3" stroke="#000" stroke-width="7" /><line x1="2117.8" y1="2307.3" x2="2108.8" y2="2307.3" stroke="#000" stroke-width="7" /><line x1="1289.0" y1="2204.1" x2="1278.0" y2="2204.1" stroke="#000" stroke-width="7" /><line x1="2117.8" y1="2204.1" x2="2108.8" y2="2204.1" stroke="#000" stroke-width="7" /><line x1="1289.0" y1="2100.9" x2="1278.0" y2="2100.9" stroke="#000" stroke-width="7" /><line x1="2117.8" y1="2100.9" x2="2108.8" y2="2100.9" stroke="#000" stroke-width="7" /><line x1="1289.0" y1="1997.7" x2="1278.0" y2="1997.7" stroke="#000" stroke-width="7" /><line x1="2117.8" y1="1997.7" x2="2108.8" y2="1997.7" stroke="#000" stroke-width="7" /><line x1="1289.0" y1="1894.5" x2="1278.0" y2="1894.5" stroke="#000" stroke-width="7" /><line x1="2117.8" y1="1894.5" x2="2108.8" y2="1894.5" stroke="#000" stroke-width="7" /><line x1="1289.0" y1="2462.1" x2="1284.0" y2="2462.1" stroke="#000" stroke-width="6" /><line x1="2117.8" y1="2462.1" x2="2113.3" y2="2462.1" stroke="#000" stroke-width="6" /><line x1="1289.0" y1="2358.9" x2="1284.0" y2="2358.9" stroke="#000" stroke-width="6" /><line x1="2117.8" y1="2358.9" x2="2113.3" y2="2358.9" stroke="#000" stroke-width="6" /><line x1="1289.0" y1="2255.7" x2="1284.0" y2="2255.7" stroke="#000" stroke-width="6" /><line x1="2117.8" y1="2255.7" x2="2113.3" y2="2255.7" stroke="#000" stroke-width="6" /><line x1="1289.0" y1="2152.5" x2="1284.0" y2="2152.5" stroke="#000" stroke-width="6" /><line x1="2117.8" y1="2152.5" x2="2113.3" y2="2152.5" stroke="#000" stroke-width="6" /><line x1="1289.0" y1="2049.3" x2="1284.0" y2="2049.3" stroke="#000" stroke-width="6" /><line x1="2117.8" y1="2049.3" x2="2113.3" y2="2049.3" stroke="#000" stroke-width="6" /><line x1="1289.0" y1="1946.1" x2="1284.0" y2="1946.1" stroke="#000" stroke-width="6" /><line x1="2117.8" y1="1946.1" x2="2113.3" y2="1946.1" stroke="#000" stroke-width="6" />
<rect x="1725.9" y="1890.9" width="68.8" height="626.4" fill="rgba(0,170,221,0.33)"/>
<text transform="matrix(0.5200 0 0 0.5200 1244.93 2573.82)" font-size="100" font-weight="bold" fill="#000" >12.5</text>
<text transform="matrix(0.5200 0 0 0.5200 1452.26 2574.08)" font-size="100" font-weight="bold" fill="#000" >13.0</text>
<text transform="matrix(0.5200 0 0 0.5200 1659.33 2573.82)" font-size="100" font-weight="bold" fill="#000" >13.5</text>
<text transform="matrix(0.5200 0 0 0.5200 1866.66 2574.08)" font-size="100" font-weight="bold" fill="#000" >14.0</text>
<text transform="matrix(0.5200 0 0 0.5200 2073.73 2573.82)" font-size="100" font-weight="bold" fill="#000" >14.5</text>
<text transform="matrix(0.5200 0 0 0.5200 1242.88 2529.73)" font-size="100" font-weight="bold" fill="#000" >0</text>
<text transform="matrix(0.5200 0 0 0.5200 1216.88 2426.53)" font-size="100" font-weight="bold" fill="#000" >60</text>
<text transform="matrix(0.5200 0 0 0.5200 1190.88 2323.33)" font-size="100" font-weight="bold" fill="#000" >120</text>
<text transform="matrix(0.5200 0 0 0.5200 1190.88 2220.13)" font-size="100" font-weight="bold" fill="#000" >180</text>
<text transform="matrix(0.5200 0 0 0.5200 1190.88 2116.93)" font-size="100" font-weight="bold" fill="#000" >240</text>
<text transform="matrix(0.5200 0 0 0.5200 1190.88 2013.73)" font-size="100" font-weight="bold" fill="#000" >300</text>
<text transform="matrix(0.5200 0 0 0.5200 1190.88 1910.53)" font-size="100" font-weight="bold" fill="#000" >360</text>
<text transform="matrix(0.5909 0 0 0.5703 1507.71 2629.34)" font-size="100" font-weight="bold" fill="#000" >Frequency (GHz)</text>
<g transform="translate(1126.3 2385.9) rotate(-90)"><text transform="matrix(0.5820 0 0 0.5760 -0.87 40.03)" font-size="100" font-weight="bold" fill="#000" >Phase (degree)</text></g>
<text transform="matrix(0.9971 0 0 0.9736 24.51 991.67)" font-size="100" font-weight="bold" fill="#000" >(c)</text>
<text transform="matrix(0.9991 0 0 0.9714 1105.00 991.71)" font-size="100" font-weight="bold" fill="#000" >(d)</text>
<text transform="matrix(0.9980 0 0 0.9341 24.51 1820.92)" font-size="100" font-weight="bold" fill="#000" >(e)</text>
<text transform="matrix(1.0110 0 0 0.9609 1115.45 1823.14)" font-size="100" font-weight="bold" fill="#000" >(f)</text>
<g stroke="#4D4D4D" stroke-width="15" stroke-linecap="round"><line x1="169.5" y1="2818.5" x2="235.9" y2="2818.5"/><line x1="284.0" y1="2818.5" x2="291.0" y2="2818.5"/><line x1="339.0" y1="2818.5" x2="366.5" y2="2818.5"/></g>
<text transform="matrix(1.0037 0 0 1.2222 415.69 2861.28)" font-size="100"  fill="#3C3C3C" >0°</text>
<g stroke="#FF3B3B" stroke-width="15" stroke-linecap="round"><line x1="610.9" y1="2818.5" x2="677.3" y2="2818.5"/><line x1="725.4" y1="2818.5" x2="732.4" y2="2818.5"/><line x1="780.4" y1="2818.5" x2="807.9" y2="2818.5"/></g>
<text transform="matrix(1.0063 0 0 1.2132 880.17 2860.68)" font-size="100"  fill="#FF3B3B" >22.5°</text>
<g stroke="#0A6AE0" stroke-width="15" stroke-linecap="round"><line x1="1151.5" y1="2818.5" x2="1217.9" y2="2818.5"/><line x1="1266.0" y1="2818.5" x2="1273.0" y2="2818.5"/><line x1="1321.0" y1="2818.5" x2="1348.5" y2="2818.5"/></g>
<text transform="matrix(1.0068 0 0 1.2222 1423.39 2861.28)" font-size="100"  fill="#0A6AE0" >45°</text>
<g stroke="#10A860" stroke-width="15" stroke-linecap="round"><line x1="1618.0" y1="2818.5" x2="1684.4" y2="2818.5"/><line x1="1732.5" y1="2818.5" x2="1739.5" y2="2818.5"/><line x1="1787.5" y1="2818.5" x2="1815.0" y2="2818.5"/></g>
<text transform="matrix(1.0141 0 0 1.2132 1889.64 2860.68)" font-size="100"  fill="#10A860" >67.5°</text>
<line x1="169.5" y1="2962.5" x2="366.5" y2="2962.5" stroke="#C478E6" stroke-width="15" stroke-linecap="round"/>
<text transform="matrix(1.0015 0 0 1.2163 416.70 3005.28)" font-size="100"  fill="#C478E6" >90°</text>
<g stroke="#D89A08" stroke-width="15" stroke-linecap="round"><line x1="610.9" y1="2962.5" x2="677.3" y2="2962.5"/><line x1="725.4" y1="2962.5" x2="732.4" y2="2962.5"/><line x1="780.4" y1="2962.5" x2="807.9" y2="2962.5"/></g>
<text transform="matrix(1.0044 0 0 1.2074 860.96 3004.69)" font-size="100"  fill="#D89A08" >112.5°</text>
<g stroke="#10CCCC" stroke-width="15" stroke-linecap="round"><line x1="1151.5" y1="2962.5" x2="1217.9" y2="2962.5"/><line x1="1266.0" y1="2962.5" x2="1273.0" y2="2962.5"/><line x1="1321.0" y1="2962.5" x2="1348.5" y2="2962.5"/></g>
<text transform="matrix(0.9802 0 0 1.2163 1401.67 3005.28)" font-size="100"  fill="#10CCCC" >135°</text>
<g stroke="#7C3A3A" stroke-width="15" stroke-linecap="round"><line x1="1618.0" y1="2962.5" x2="1684.4" y2="2962.5"/><line x1="1732.5" y1="2962.5" x2="1739.5" y2="2962.5"/><line x1="1787.5" y1="2962.5" x2="1815.0" y2="2962.5"/></g>
<text transform="matrix(0.9952 0 0 1.2074 1868.24 3004.69)" font-size="100"  fill="#7C3A3A" >157.5°</text>
</svg>
</body></html>
